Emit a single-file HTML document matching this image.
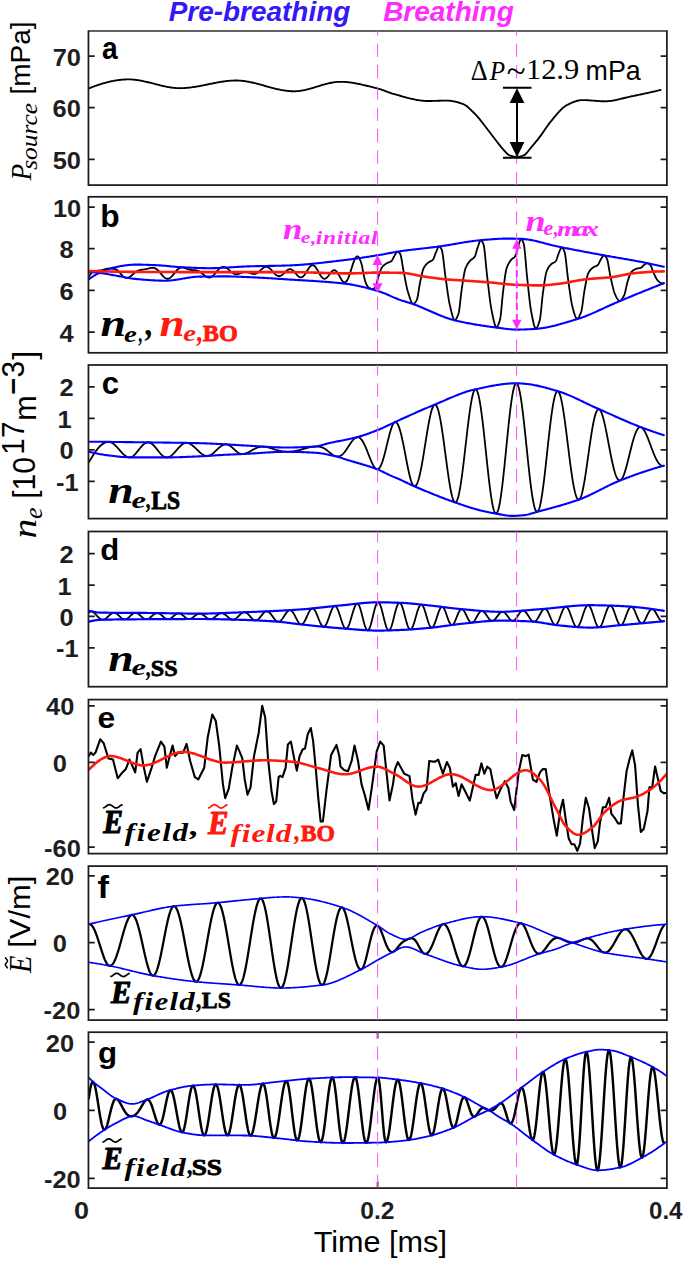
<!DOCTYPE html><html><head><meta charset="utf-8"><style>html,body{margin:0;padding:0;background:#fff;}svg{display:block;}.t{font-family:"Liberation Sans",sans-serif;font-weight:bold;fill:#262626;font-size:23px;}.s{font-family:"Liberation Serif",serif;}</style></head><body>
<svg width="685" height="1261" viewBox="0 0 685 1261">
<rect width="685" height="1261" fill="#fff"/>
<defs><clipPath id="cpa"><rect x="88.5" y="31.1" width="578.4" height="154.0"/></clipPath><clipPath id="cpb"><rect x="88.5" y="196.8" width="578.4" height="156.0"/></clipPath><clipPath id="cpc"><rect x="88.5" y="365.0" width="578.4" height="153.6"/></clipPath><clipPath id="cpd"><rect x="88.5" y="531.5" width="578.4" height="155.2"/></clipPath><clipPath id="cpe"><rect x="88.5" y="699.6" width="578.4" height="154.0"/></clipPath><clipPath id="cpf"><rect x="88.5" y="866.1" width="578.4" height="154.0"/></clipPath><clipPath id="cpg"><rect x="88.5" y="1032.2" width="578.4" height="155.9"/></clipPath></defs>
<path d="M88.80 88.40L89.75 88.02L90.71 87.65L91.66 87.28L92.62 86.92L93.57 86.56L94.53 86.22L95.48 85.87L96.44 85.54L97.39 85.21L98.35 84.89L99.30 84.57L100.26 84.27L101.21 83.97L102.16 83.68L103.12 83.39L104.07 83.12L105.03 82.85L105.98 82.59L106.94 82.34L107.89 82.10L108.85 81.87L109.80 81.65L110.76 81.43L111.71 81.23L112.66 81.04L113.62 80.85L114.57 80.68L115.53 80.51L116.48 80.36L117.44 80.22L118.39 80.09L119.35 79.97L120.30 79.86L121.26 79.76L122.21 79.67L123.17 79.60L124.12 79.53L125.07 79.48L126.03 79.44L126.98 79.42L127.94 79.40L128.89 79.40L129.85 79.42L130.80 79.45L131.76 79.50L132.71 79.57L133.67 79.65L134.62 79.74L135.57 79.85L136.53 79.98L137.48 80.11L138.44 80.26L139.39 80.41L140.35 80.58L141.30 80.76L142.26 80.95L143.21 81.14L144.17 81.35L145.12 81.56L146.08 81.78L147.03 82.00L147.98 82.23L148.94 82.46L149.89 82.69L150.85 82.93L151.80 83.17L152.76 83.42L153.71 83.66L154.67 83.91L155.62 84.15L156.58 84.39L157.53 84.64L158.49 84.88L159.44 85.11L160.39 85.34L161.35 85.57L162.30 85.80L163.26 86.01L164.21 86.23L165.17 86.43L166.12 86.63L167.08 86.82L168.03 86.99L168.99 87.16L169.94 87.32L170.89 87.47L171.85 87.61L172.80 87.73L173.76 87.84L174.71 87.94L175.67 88.02L176.62 88.09L177.58 88.14L178.53 88.18L179.49 88.20L180.44 88.20L181.40 88.19L182.35 88.16L183.30 88.12L184.26 88.07L185.21 88.01L186.17 87.94L187.12 87.86L188.08 87.77L189.03 87.66L189.99 87.55L190.94 87.43L191.90 87.31L192.85 87.17L193.81 87.03L194.76 86.88L195.71 86.72L196.67 86.56L197.62 86.39L198.58 86.22L199.53 86.04L200.49 85.86L201.44 85.68L202.40 85.49L203.35 85.30L204.31 85.11L205.26 84.91L206.21 84.72L207.17 84.52L208.12 84.32L209.08 84.13L210.03 83.93L210.99 83.74L211.94 83.54L212.90 83.35L213.85 83.16L214.81 82.97L215.76 82.79L216.72 82.61L217.67 82.43L218.62 82.26L219.58 82.10L220.53 81.94L221.49 81.78L222.44 81.64L223.40 81.49L224.35 81.36L225.31 81.24L226.26 81.12L227.22 81.01L228.17 80.91L229.12 80.82L230.08 80.74L231.03 80.67L231.99 80.61L232.94 80.57L233.90 80.53L234.85 80.51L235.81 80.50L236.76 80.51L237.72 80.53L238.67 80.57L239.63 80.62L240.58 80.69L241.53 80.78L242.49 80.88L243.44 80.99L244.40 81.11L245.35 81.25L246.31 81.40L247.26 81.56L248.22 81.74L249.17 81.92L250.13 82.11L251.08 82.31L252.04 82.52L252.99 82.74L253.94 82.96L254.90 83.19L255.85 83.43L256.81 83.67L257.76 83.92L258.72 84.17L259.67 84.43L260.63 84.69L261.58 84.95L262.54 85.21L263.49 85.48L264.44 85.74L265.40 86.01L266.35 86.28L267.31 86.54L268.26 86.81L269.22 87.07L270.17 87.33L271.13 87.59L272.08 87.84L273.04 88.09L273.99 88.33L274.95 88.57L275.90 88.80L276.85 89.03L277.81 89.25L278.76 89.46L279.72 89.66L280.67 89.85L281.63 90.04L282.58 90.21L283.54 90.37L284.49 90.52L285.45 90.66L286.40 90.79L287.35 90.91L288.31 91.01L289.26 91.10L290.22 91.17L291.17 91.23L292.13 91.27L293.08 91.29L294.04 91.30L294.99 91.29L295.95 91.25L296.90 91.19L297.86 91.11L298.81 91.02L299.76 90.90L300.72 90.76L301.67 90.61L302.63 90.44L303.58 90.26L304.54 90.06L305.49 89.85L306.45 89.62L307.40 89.39L308.36 89.14L309.31 88.89L310.27 88.63L311.22 88.36L312.17 88.08L313.13 87.80L314.08 87.51L315.04 87.23L315.99 86.93L316.95 86.64L317.90 86.35L318.86 86.06L319.81 85.77L320.77 85.48L321.72 85.20L322.67 84.92L323.63 84.64L324.58 84.38L325.54 84.12L326.49 83.87L327.45 83.63L328.40 83.39L329.36 83.18L330.31 82.97L331.27 82.78L332.22 82.60L333.18 82.43L334.13 82.29L335.08 82.16L336.04 82.05L336.99 81.95L337.95 81.88L338.90 81.83L339.86 81.81L340.81 81.80L341.77 81.81L342.72 81.84L343.68 81.88L344.63 81.93L345.58 82.00L346.54 82.07L347.49 82.16L348.45 82.26L349.40 82.38L350.36 82.50L351.31 82.63L352.27 82.77L353.22 82.92L354.18 83.08L355.13 83.25L356.09 83.42L357.04 83.61L357.99 83.80L358.95 83.99L359.90 84.20L360.86 84.40L361.81 84.62L362.77 84.84L363.72 85.06L364.68 85.28L365.63 85.51L366.59 85.75L367.54 85.98L368.50 86.22L369.45 86.46L370.40 86.70L371.36 86.94L372.31 87.18L373.27 87.42L374.22 87.66L375.18 87.90L376.13 88.14L377.09 88.37L378.04 88.61L379.00 88.87L379.95 89.15L380.90 89.46L381.86 89.78L382.81 90.11L383.77 90.46L384.72 90.82L385.68 91.18L386.63 91.54L387.59 91.91L388.54 92.27L389.50 92.63L390.45 92.97L391.41 93.30L392.36 93.62L393.31 93.92L394.27 94.20L395.22 94.46L396.18 94.71L397.13 94.96L398.09 95.22L399.04 95.48L400.00 95.75L400.95 96.01L401.91 96.27L402.86 96.54L403.82 96.80L404.77 97.06L405.72 97.32L406.68 97.58L407.63 97.83L408.59 98.08L409.54 98.32L410.50 98.56L411.45 98.79L412.41 99.01L413.36 99.22L414.32 99.43L415.27 99.62L416.22 99.81L417.18 99.99L418.13 100.15L419.09 100.30L420.04 100.44L421.00 100.57L421.95 100.68L422.91 100.77L423.86 100.85L424.82 100.92L425.77 100.96L426.73 100.99L427.68 101.00L428.63 101.00L429.59 100.99L430.54 100.98L431.50 100.96L432.45 100.94L433.41 100.92L434.36 100.89L435.32 100.86L436.27 100.83L437.23 100.80L438.18 100.77L439.13 100.75L440.09 100.72L441.04 100.69L442.00 100.67L442.95 100.65L443.91 100.63L444.86 100.61L445.82 100.60L446.77 100.60L447.73 100.61L448.68 100.65L449.64 100.72L450.59 100.83L451.54 100.95L452.50 101.11L453.45 101.29L454.41 101.49L455.36 101.71L456.32 101.95L457.27 102.21L458.23 102.48L459.18 102.76L460.14 103.06L461.09 103.37L462.05 103.68L463.00 104.02L463.95 104.46L464.91 104.98L465.86 105.59L466.82 106.28L467.77 107.03L468.73 107.84L469.68 108.70L470.64 109.60L471.59 110.54L472.55 111.51L473.50 112.49L474.45 113.48L475.41 114.47L476.36 115.46L477.32 116.45L478.27 117.52L479.23 118.65L480.18 119.84L481.14 121.06L482.09 122.31L483.05 123.56L484.00 124.81L484.96 126.04L485.91 127.26L486.86 128.50L487.82 129.74L488.77 131.00L489.73 132.26L490.68 133.52L491.64 134.78L492.59 136.03L493.55 137.27L494.50 138.51L495.46 139.73L496.41 140.96L497.36 142.20L498.32 143.45L499.27 144.68L500.23 145.90L501.18 147.07L502.14 148.20L503.09 149.27L504.05 150.31L505.00 151.39L505.96 152.46L506.91 153.46L507.87 154.33L508.82 154.99L509.77 155.39L510.73 155.71L511.68 156.00L512.64 156.25L513.59 156.47L514.55 156.63L515.50 156.75L516.46 156.80L517.41 156.78L518.37 156.70L519.32 156.55L520.28 156.36L521.23 156.12L522.18 155.84L523.14 155.53L524.09 155.18L525.05 154.59L526.00 153.74L526.96 152.69L527.91 151.52L528.87 150.28L529.82 149.03L530.78 147.86L531.73 146.76L532.68 145.65L533.64 144.52L534.59 143.37L535.55 142.21L536.50 141.02L537.46 139.83L538.41 138.61L539.37 137.38L540.32 136.14L541.28 134.85L542.23 133.51L543.19 132.12L544.14 130.72L545.09 129.31L546.05 127.90L547.00 126.51L547.96 125.17L548.91 123.87L549.87 122.65L550.82 121.50L551.78 120.34L552.73 119.18L553.69 118.02L554.64 116.86L555.59 115.71L556.55 114.58L557.50 113.47L558.46 112.39L559.41 111.34L560.37 110.34L561.32 109.38L562.28 108.48L563.23 107.64L564.19 106.87L565.14 106.17L566.10 105.56L567.05 105.02L568.00 104.56L568.96 104.10L569.91 103.65L570.87 103.21L571.82 102.78L572.78 102.37L573.73 101.98L574.69 101.62L575.64 101.29L576.60 100.99L577.55 100.73L578.51 100.51L579.46 100.33L580.41 100.20L581.37 100.12L582.32 100.10L583.28 100.11L584.23 100.13L585.19 100.15L586.14 100.19L587.10 100.24L588.05 100.29L589.01 100.35L589.96 100.41L590.91 100.48L591.87 100.55L592.82 100.62L593.78 100.70L594.73 100.77L595.69 100.85L596.64 100.92L597.60 100.98L598.55 101.05L599.51 101.11L600.46 101.16L601.42 101.21L602.37 101.24L603.32 101.27L604.28 101.29L605.23 101.30L606.19 101.29L607.14 101.26L608.10 101.20L609.05 101.12L610.01 101.02L610.96 100.90L611.92 100.77L612.87 100.61L613.83 100.44L614.78 100.26L615.73 100.07L616.69 99.86L617.64 99.65L618.60 99.42L619.55 99.20L620.51 98.96L621.46 98.72L622.42 98.48L623.37 98.24L624.33 98.00L625.28 97.76L626.23 97.53L627.19 97.30L628.14 97.08L629.10 96.86L630.05 96.65L631.01 96.46L631.96 96.26L632.92 96.07L633.87 95.87L634.83 95.68L635.78 95.48L636.74 95.28L637.69 95.08L638.64 94.88L639.60 94.68L640.55 94.48L641.51 94.27L642.46 94.07L643.42 93.86L644.37 93.66L645.33 93.45L646.28 93.24L647.24 93.03L648.19 92.82L649.14 92.61L650.10 92.40L651.05 92.18L652.01 91.97L652.96 91.76L653.92 91.54L654.87 91.32L655.83 91.10L656.78 90.89L657.74 90.67L658.69 90.44L659.65 90.22L660.60 90.00" fill="none" stroke="#000000" stroke-width="1.85" stroke-linejoin="round" stroke-linecap="round" clip-path="url(#cpa)"/>
<path d="M88.80 276.75L89.21 276.06L89.62 275.41L90.03 274.81L90.44 274.26L90.86 273.76L91.27 273.31L91.68 272.91L92.09 272.55L92.50 272.24L92.91 271.96L93.32 271.73L93.73 271.53L94.14 271.36L94.55 271.21L94.97 271.09L95.38 270.99L95.79 270.91L96.20 270.84L96.61 270.78L97.02 270.72L97.43 270.67L97.84 270.63L98.25 270.58L98.66 270.54L99.08 270.50L99.49 270.46L99.90 270.41L100.31 270.37L100.72 270.33L101.13 270.28L101.54 270.21L101.95 270.13L102.36 270.04L102.77 269.93L103.19 269.80L103.60 269.67L104.01 269.54L104.42 269.40L104.83 269.26L105.24 269.13L105.65 269.01L106.06 268.90L106.47 268.81L106.88 268.73L107.30 268.66L107.71 268.61L108.12 268.58L108.53 268.57L108.94 268.56L109.35 268.57L109.76 268.58L110.17 268.60L110.58 268.63L110.99 268.65L111.41 268.67L111.82 268.69L112.23 268.71L112.64 268.73L113.05 268.76L113.46 268.78L113.87 268.82L114.28 268.88L114.69 268.95L115.10 269.05L115.52 269.18L115.93 269.35L116.34 269.55L116.75 269.78L117.16 270.06L117.57 270.38L117.98 270.73L118.39 271.11L118.80 271.53L119.21 271.96L119.63 272.42L120.04 272.90L120.45 273.38L120.86 273.86L121.27 274.33L121.68 274.80L122.09 275.25L122.50 275.68L122.91 276.08L123.32 276.44L123.74 276.78L124.15 277.07L124.56 277.32L124.97 277.53L125.38 277.70L125.79 277.81L126.20 277.89L126.61 277.92L127.02 277.90L127.43 277.84L127.85 277.75L128.26 277.61L128.67 277.44L129.08 277.23L129.49 277.00L129.90 276.74L130.31 276.45L130.72 276.13L131.13 275.80L131.54 275.46L131.96 275.10L132.37 274.73L132.78 274.37L133.19 274.00L133.60 273.64L134.01 273.29L134.42 272.95L134.83 272.62L135.24 272.31L135.65 272.02L136.07 271.74L136.48 271.48L136.89 271.24L137.30 271.03L137.71 270.83L138.12 270.65L138.53 270.49L138.94 270.35L139.35 270.22L139.76 270.11L140.18 270.02L140.59 269.94L141.00 269.86L141.41 269.80L141.82 269.74L142.23 269.69L142.64 269.64L143.05 269.58L143.46 269.53L143.88 269.48L144.29 269.42L144.70 269.36L145.11 269.29L145.52 269.21L145.93 269.13L146.34 269.04L146.75 268.95L147.16 268.84L147.57 268.74L147.99 268.63L148.40 268.52L148.81 268.41L149.22 268.30L149.63 268.19L150.04 268.09L150.45 268.00L150.86 267.92L151.27 267.85L151.68 267.80L152.10 267.76L152.51 267.75L152.92 267.76L153.33 267.80L153.74 267.86L154.15 267.95L154.56 268.08L154.97 268.23L155.38 268.42L155.79 268.64L156.21 268.89L156.62 269.17L157.03 269.48L157.44 269.83L157.85 270.20L158.26 270.60L158.67 271.02L159.08 271.47L159.49 271.93L159.90 272.41L160.32 272.89L160.73 273.39L161.14 273.89L161.55 274.38L161.96 274.87L162.37 275.35L162.78 275.81L163.19 276.25L163.60 276.67L164.01 277.06L164.43 277.42L164.84 277.74L165.25 278.02L165.66 278.26L166.07 278.45L166.48 278.60L166.89 278.70L167.30 278.75L167.71 278.75L168.12 278.70L168.54 278.60L168.95 278.46L169.36 278.26L169.77 278.03L170.18 277.75L170.59 277.43L171.00 277.07L171.41 276.68L171.82 276.26L172.23 275.82L172.65 275.35L173.06 274.86L173.47 274.36L173.88 273.86L174.29 273.34L174.70 272.83L175.11 272.32L175.52 271.82L175.93 271.34L176.34 270.87L176.76 270.42L177.17 269.99L177.58 269.60L177.99 269.23L178.40 268.89L178.81 268.58L179.22 268.31L179.63 268.08L180.04 267.88L180.45 267.73L180.87 267.61L181.28 267.52L181.69 267.47L182.10 267.45L182.51 267.47L182.92 267.51L183.33 267.58L183.74 267.67L184.15 267.78L184.56 267.91L184.98 268.05L185.39 268.20L185.80 268.36L186.21 268.52L186.62 268.69L187.03 268.85L187.44 269.01L187.85 269.16L188.26 269.30L188.67 269.42L189.09 269.54L189.50 269.64L189.91 269.74L190.32 269.81L190.73 269.88L191.14 269.93L191.55 269.98L191.96 270.01L192.37 270.04L192.78 270.07L193.20 270.09L193.61 270.10L194.02 270.13L194.43 270.15L194.84 270.18L195.25 270.22L195.66 270.28L196.07 270.34L196.48 270.42L196.90 270.52L197.31 270.64L197.72 270.78L198.13 270.94L198.54 271.12L198.95 271.33L199.36 271.55L199.77 271.80L200.18 272.07L200.59 272.35L201.01 272.64L201.42 272.95L201.83 273.27L202.24 273.60L202.65 273.93L203.06 274.27L203.47 274.60L203.88 274.93L204.29 275.26L204.70 275.58L205.12 275.88L205.53 276.17L205.94 276.43L206.35 276.68L206.76 276.90L207.17 277.09L207.58 277.26L207.99 277.39L208.40 277.48L208.81 277.53L209.23 277.54L209.64 277.50L210.05 277.43L210.46 277.31L210.87 277.15L211.28 276.94L211.69 276.70L212.10 276.42L212.51 276.10L212.92 275.75L213.34 275.37L213.75 274.96L214.16 274.52L214.57 274.06L214.98 273.59L215.39 273.11L215.80 272.62L216.21 272.12L216.62 271.62L217.03 271.13L217.45 270.65L217.86 270.19L218.27 269.74L218.68 269.31L219.09 268.91L219.50 268.54L219.91 268.21L220.32 267.90L220.73 267.64L221.14 267.41L221.56 267.23L221.97 267.08L222.38 266.98L222.79 266.91L223.20 266.88L223.61 266.90L224.02 266.95L224.43 267.03L224.84 267.16L225.25 267.31L225.67 267.50L226.08 267.72L226.49 267.96L226.90 268.23L227.31 268.52L227.72 268.84L228.13 269.17L228.54 269.52L228.95 269.88L229.36 270.24L229.78 270.61L230.19 270.97L230.60 271.33L231.01 271.67L231.42 272.01L231.83 272.33L232.24 272.63L232.65 272.91L233.06 273.16L233.47 273.39L233.89 273.60L234.30 273.77L234.71 273.92L235.12 274.03L235.53 274.11L235.94 274.17L236.35 274.20L236.76 274.19L237.17 274.16L237.58 274.11L238.00 274.03L238.41 273.94L238.82 273.82L239.23 273.69L239.64 273.54L240.05 273.39L240.46 273.23L240.87 273.06L241.28 272.89L241.69 272.72L242.11 272.56L242.52 272.40L242.93 272.25L243.34 272.13L243.75 272.02L244.16 271.93L244.57 271.87L244.98 271.83L245.39 271.81L245.81 271.82L246.22 271.86L246.63 271.91L247.04 271.99L247.45 272.09L247.86 272.21L248.27 272.34L248.68 272.48L249.09 272.63L249.50 272.79L249.92 272.95L250.33 273.11L250.74 273.27L251.15 273.42L251.56 273.56L251.97 273.68L252.38 273.79L252.79 273.87L253.20 273.94L253.61 273.97L254.03 273.98L254.44 273.96L254.85 273.90L255.26 273.82L255.67 273.70L256.08 273.55L256.49 273.36L256.90 273.15L257.31 272.90L257.72 272.63L258.14 272.33L258.55 272.01L258.96 271.67L259.37 271.31L259.78 270.95L260.19 270.57L260.60 270.19L261.01 269.81L261.42 269.43L261.83 269.06L262.25 268.71L262.66 268.38L263.07 268.07L263.48 267.79L263.89 267.54L264.30 267.32L264.71 267.14L265.12 267.00L265.53 266.90L265.94 266.85L266.36 266.84L266.77 266.88L267.18 266.96L267.59 267.08L268.00 267.25L268.41 267.46L268.82 267.71L269.23 268.00L269.64 268.32L270.05 268.68L270.47 269.06L270.88 269.48L271.29 269.91L271.70 270.36L272.11 270.82L272.52 271.28L272.93 271.75L273.34 272.22L273.75 272.68L274.16 273.13L274.58 273.56L274.99 273.97L275.40 274.36L275.81 274.71L276.22 275.03L276.63 275.31L277.04 275.55L277.45 275.75L277.86 275.91L278.27 276.01L278.69 276.08L279.10 276.09L279.51 276.06L279.92 275.98L280.33 275.86L280.74 275.69L281.15 275.49L281.56 275.24L281.97 274.96L282.38 274.65L282.80 274.31L283.21 273.95L283.62 273.57L284.03 273.17L284.44 272.77L284.85 272.37L285.26 271.97L285.67 271.58L286.08 271.20L286.49 270.84L286.91 270.50L287.32 270.19L287.73 269.92L288.14 269.68L288.55 269.48L288.96 269.33L289.37 269.22L289.78 269.16L290.19 269.16L290.60 269.21L291.02 269.31L291.43 269.47L291.84 269.68L292.25 269.94L292.66 270.24L293.07 270.59L293.48 270.97L293.89 271.39L294.30 271.84L294.71 272.31L295.13 272.79L295.54 273.28L295.95 273.78L296.36 274.27L296.77 274.74L297.18 275.20L297.59 275.63L298.00 276.03L298.41 276.39L298.83 276.70L299.24 276.96L299.65 277.17L300.06 277.32L300.47 277.40L300.88 277.42L301.29 277.38L301.70 277.27L302.11 277.09L302.52 276.85L302.94 276.54L303.35 276.17L303.76 275.75L304.17 275.27L304.58 274.74L304.99 274.18L305.40 273.57L305.81 272.94L306.22 272.29L306.63 271.62L307.05 270.94L307.46 270.27L307.87 269.61L308.28 268.97L308.69 268.36L309.10 267.78L309.51 267.25L309.92 266.76L310.33 266.33L310.74 265.96L311.16 265.66L311.57 265.44L311.98 265.28L312.39 265.21L312.80 265.21L313.21 265.29L313.62 265.46L314.03 265.70L314.44 266.01L314.85 266.40L315.27 266.85L315.68 267.36L316.09 267.93L316.50 268.54L316.91 269.20L317.32 269.89L317.73 270.60L318.14 271.33L318.55 272.07L318.96 272.81L319.38 273.54L319.79 274.25L320.20 274.93L320.61 275.58L321.02 276.18L321.43 276.73L321.84 277.23L322.25 277.66L322.66 278.03L323.07 278.33L323.49 278.55L323.90 278.69L324.31 278.76L324.72 278.75L325.13 278.67L325.54 278.51L325.95 278.28L326.36 277.99L326.77 277.64L327.18 277.23L327.60 276.78L328.01 276.29L328.42 275.77L328.83 275.22L329.24 274.67L329.65 274.11L330.06 273.55L330.47 273.01L330.88 272.50L331.29 272.01L331.71 271.57L332.12 271.18L332.53 270.85L332.94 270.58L333.35 270.38L333.76 270.26L334.17 270.21L334.58 270.24L334.99 270.35L335.40 270.55L335.82 270.82L336.23 271.16L336.64 271.59L337.05 272.08L337.46 272.64L337.87 273.25L338.28 273.91L338.69 274.61L339.10 275.34L339.51 276.09L339.93 276.84L340.34 277.59L340.75 278.32L341.16 279.02L341.57 279.69L341.98 280.30L342.39 280.85L342.80 281.33L343.21 281.73L343.62 282.03L344.04 282.24L344.45 282.35L344.86 282.35L345.27 282.24L345.68 282.01L346.09 281.66L346.50 281.21L346.91 280.64L347.32 279.95L347.73 279.17L348.15 278.28L348.56 277.31L348.97 276.24L349.38 275.11L349.79 273.91L350.20 272.66L350.61 271.37L351.02 270.06L351.43 268.73L351.85 267.41L352.26 266.10L352.67 264.82L353.08 263.58L353.49 262.41L353.90 261.30L354.31 260.28L354.72 259.36L355.13 258.54L355.54 257.84L355.96 257.26L356.37 256.82L356.78 256.52L357.19 256.36L357.60 256.36L358.01 256.52L358.42 256.85L358.83 257.34L359.24 258.00L359.65 258.80L360.07 259.74L360.48 260.81L360.89 262.00L361.30 263.29L361.71 264.66L362.12 266.38L362.53 268.74L362.94 271.00L363.35 273.14L363.76 275.15L364.18 277.01L364.59 278.71L365.00 280.25L365.41 281.63L365.82 282.84L366.23 283.90L366.64 284.80L367.05 285.56L367.46 286.20L367.87 286.73L368.29 287.17L368.70 287.53L369.11 287.83L369.52 288.10L369.93 288.36L370.34 288.61L370.75 288.88L371.16 289.10L371.57 289.17L371.98 289.16L372.40 289.09L372.81 288.95L373.22 288.76L373.63 288.51L374.04 288.22L374.45 287.89L374.86 287.52L375.27 287.11L375.68 286.44L376.09 285.39L376.51 284.05L376.92 282.50L377.33 280.85L377.74 279.19L378.15 277.62L378.56 276.24L378.97 275.05L379.38 273.84L379.79 272.62L380.20 271.42L380.62 270.28L381.03 269.23L381.44 268.30L381.85 267.53L382.26 266.96L382.67 266.48L383.08 266.04L383.49 265.64L383.90 265.26L384.31 264.92L384.73 264.60L385.14 264.30L385.55 264.02L385.96 263.76L386.37 263.51L386.78 263.26L387.19 263.03L387.60 262.83L388.01 262.65L388.42 262.49L388.84 262.34L389.25 262.19L389.66 262.03L390.07 261.85L390.48 261.65L390.89 261.41L391.30 261.12L391.71 260.74L392.12 260.16L392.53 259.44L392.95 258.64L393.36 257.80L393.77 256.99L394.18 256.27L394.59 255.61L395.00 254.90L395.41 254.17L395.82 253.46L396.23 252.81L396.64 252.27L397.06 251.88L397.47 251.70L397.88 251.70L398.29 251.86L398.70 252.14L399.11 252.52L399.52 252.99L399.93 253.52L400.34 254.22L400.75 255.49L401.17 257.24L401.58 259.37L401.99 261.77L402.40 264.30L402.81 266.86L403.22 269.32L403.63 271.56L404.04 273.60L404.45 275.70L404.87 277.84L405.28 279.98L405.69 282.10L406.10 284.17L406.51 286.15L406.92 288.01L407.33 289.72L407.74 291.24L408.15 292.61L408.56 293.95L408.98 295.26L409.39 296.53L409.80 297.75L410.21 298.91L410.62 300.00L411.03 301.01L411.44 301.94L411.85 302.76L412.26 303.48L412.67 303.88L413.09 303.91L413.50 303.83L413.91 303.64L414.32 303.36L414.73 302.99L415.14 302.53L415.55 302.01L415.96 301.43L416.37 300.79L416.78 300.08L417.20 298.85L417.61 297.04L418.02 294.79L418.43 292.27L418.84 289.61L419.25 286.97L419.66 284.51L420.07 282.37L420.48 280.49L420.89 278.57L421.31 276.65L421.72 274.78L422.13 273.01L422.54 271.39L422.95 269.97L423.36 268.81L423.77 267.95L424.18 267.24L424.59 266.59L425.00 265.99L425.42 265.44L425.83 264.94L426.24 264.48L426.65 264.05L427.06 263.66L427.47 263.28L427.88 262.93L428.29 262.59L428.70 262.27L429.11 262.00L429.53 261.77L429.94 261.56L430.35 261.37L430.76 261.17L431.17 260.97L431.58 260.74L431.99 260.47L432.40 260.15L432.81 259.77L433.22 259.25L433.64 258.46L434.05 257.46L434.46 256.33L434.87 255.14L435.28 253.99L435.69 252.95L436.10 252.04L436.51 251.06L436.92 250.04L437.33 249.05L437.75 248.13L438.16 247.37L438.57 246.81L438.98 246.52L439.39 246.53L439.80 246.75L440.21 247.15L440.62 247.70L441.03 248.37L441.44 249.14L441.86 250.04L442.27 251.67L442.68 254.02L443.09 256.95L443.50 260.28L443.91 263.85L444.32 267.50L444.73 271.05L445.14 274.33L445.55 277.25L445.97 280.19L446.38 283.20L446.79 286.22L447.20 289.22L447.61 292.15L448.02 294.97L448.43 297.64L448.84 300.10L449.25 302.32L449.66 304.26L450.08 306.13L450.49 307.95L450.90 309.71L451.31 311.41L451.72 313.01L452.13 314.52L452.54 315.92L452.95 317.19L453.36 318.33L453.77 319.31L454.19 320.13L454.60 320.17L455.01 320.02L455.42 319.72L455.83 319.28L456.24 318.71L456.65 318.02L457.06 317.23L457.47 316.34L457.89 315.38L458.30 314.35L458.71 312.97L459.12 310.72L459.53 307.79L459.94 304.37L460.35 300.69L460.76 296.94L461.17 293.33L461.58 290.07L462.00 287.33L462.41 284.66L462.82 281.97L463.23 279.31L463.64 276.77L464.05 274.40L464.46 272.28L464.87 270.47L465.28 269.05L465.69 267.98L466.11 267.01L466.52 266.13L466.93 265.31L467.34 264.57L467.75 263.88L468.16 263.25L468.57 262.67L468.98 262.12L469.39 261.60L469.80 261.11L470.22 260.63L470.63 260.21L471.04 259.85L471.45 259.53L471.86 259.24L472.27 258.96L472.68 258.67L473.09 258.37L473.50 258.03L473.91 257.63L474.33 257.17L474.74 256.62L475.15 255.79L475.56 254.64L475.97 253.27L476.38 251.78L476.79 250.28L477.20 248.87L477.61 247.65L478.02 246.49L478.44 245.24L478.85 243.98L479.26 242.78L479.67 241.73L480.08 240.90L480.49 240.36L480.90 240.19L481.31 240.34L481.72 240.73L482.13 241.33L482.55 242.11L482.96 243.01L483.37 244.02L483.78 245.41L484.19 247.77L484.60 250.94L485.01 254.72L485.42 258.90L485.83 263.29L486.24 267.67L486.66 271.85L487.07 275.62L487.48 279.07L487.89 282.59L488.30 286.17L488.71 289.74L489.12 293.25L489.53 296.65L489.94 299.90L490.35 302.93L490.77 305.69L491.18 308.14L491.59 310.31L492.00 312.43L492.41 314.48L492.82 316.46L493.23 318.34L493.64 320.12L494.05 321.78L494.46 323.29L494.88 324.66L495.29 325.86L495.70 326.88L496.11 327.51L496.52 327.39L496.93 327.06L497.34 326.55L497.75 325.86L498.16 325.02L498.57 324.04L498.99 322.94L499.40 321.74L499.81 320.45L500.22 318.83L500.63 316.14L501.04 312.57L501.45 308.40L501.86 303.91L502.27 299.38L502.68 295.10L503.10 291.35L503.51 288.16L503.92 284.94L504.33 281.74L504.74 278.64L505.15 275.74L505.56 273.11L505.97 270.86L506.38 269.08L506.79 267.78L507.21 266.66L507.62 265.64L508.03 264.72L508.44 263.88L508.85 263.12L509.26 262.43L509.67 261.79L510.08 261.20L510.49 260.65L510.91 260.13L511.32 259.63L511.73 259.22L512.14 258.87L512.55 258.56L512.96 258.28L513.37 257.99L513.78 257.69L514.19 257.34L514.60 256.93L515.02 256.44L515.43 255.85L515.84 254.90L516.25 253.57L516.66 252.01L517.07 250.34L517.48 248.69L517.89 247.19L518.30 245.92L518.71 244.59L519.13 243.20L519.54 241.86L519.95 240.65L520.36 239.68L520.77 239.05L521.18 238.84L521.59 239.04L522.00 239.53L522.41 240.27L522.82 241.22L523.24 242.32L523.65 243.52L524.06 245.40L524.47 248.39L524.88 252.24L525.29 256.70L525.70 261.51L526.11 266.42L526.52 271.18L526.93 275.54L527.35 279.38L527.76 283.24L528.17 287.16L528.58 291.05L528.99 294.88L529.40 298.56L529.81 302.05L530.22 305.27L530.63 308.17L531.04 310.68L531.46 312.95L531.87 315.15L532.28 317.27L532.69 319.28L533.10 321.17L533.51 322.93L533.92 324.53L534.33 325.95L534.74 327.19L535.15 328.22L535.57 328.91L535.98 328.75L536.39 328.39L536.80 327.86L537.21 327.18L537.62 326.35L538.03 325.39L538.44 324.32L538.85 323.16L539.26 321.92L539.68 320.61L540.09 318.65L540.50 315.77L540.91 312.22L541.32 308.23L541.73 304.05L542.14 299.90L542.55 296.02L542.96 292.65L543.37 289.76L543.79 286.86L544.20 283.97L544.61 281.19L545.02 278.58L545.43 276.20L545.84 274.14L546.25 272.46L546.66 271.23L547.07 270.24L547.48 269.34L547.90 268.53L548.31 267.80L548.72 267.15L549.13 266.55L549.54 266.01L549.95 265.52L550.36 265.07L550.77 264.65L551.18 264.25L551.59 263.88L552.01 263.58L552.42 263.34L552.83 263.12L553.24 262.93L553.65 262.74L554.06 262.53L554.47 262.30L554.88 262.02L555.29 261.68L555.70 261.27L556.12 260.67L556.53 259.74L556.94 258.58L557.35 257.29L557.76 255.97L558.17 254.70L558.58 253.61L558.99 252.64L559.40 251.60L559.82 250.54L560.23 249.52L560.64 248.63L561.05 247.93L561.46 247.49L561.87 247.39L562.28 247.59L562.69 248.02L563.10 248.64L563.51 249.41L563.93 250.31L564.34 251.29L564.75 252.53L565.16 254.60L565.57 257.39L565.98 260.71L566.39 264.38L566.80 268.21L567.21 272.02L567.62 275.64L568.04 278.88L568.45 281.80L568.86 284.77L569.27 287.76L569.68 290.72L570.09 293.61L570.50 296.38L570.91 299.00L571.32 301.41L571.73 303.59L572.15 305.48L572.56 307.14L572.97 308.75L573.38 310.29L573.79 311.75L574.20 313.13L574.61 314.40L575.02 315.57L575.43 316.62L575.84 317.53L576.26 318.30L576.67 318.92L577.08 319.13L577.49 318.87L577.90 318.47L578.31 317.95L578.72 317.31L579.13 316.57L579.54 315.74L579.95 314.84L580.37 313.87L580.78 312.84L581.19 311.77L581.60 310.25L582.01 308.07L582.42 305.39L582.83 302.37L583.24 299.20L583.65 296.03L584.06 293.03L584.48 290.35L584.89 288.10L585.30 285.90L585.71 283.72L586.12 281.59L586.53 279.56L586.94 277.69L587.35 276.02L587.76 274.60L588.17 273.49L588.59 272.66L589.00 271.93L589.41 271.27L589.82 270.67L590.23 270.13L590.64 269.64L591.05 269.19L591.46 268.78L591.87 268.41L592.28 268.06L592.70 267.73L593.11 267.42L593.52 267.14L593.93 266.91L594.34 266.71L594.75 266.53L595.16 266.38L595.57 266.22L595.98 266.06L596.39 265.88L596.81 265.68L597.22 265.44L597.63 265.15L598.04 264.77L598.45 264.19L598.86 263.42L599.27 262.55L599.68 261.64L600.09 260.74L600.50 259.93L600.92 259.26L601.33 258.59L601.74 257.88L602.15 257.18L602.56 256.53L602.97 255.99L603.38 255.59L603.79 255.38L604.20 255.39L604.61 255.58L605.03 255.92L605.44 256.37L605.85 256.91L606.26 257.53L606.67 258.20L607.08 259.04L607.49 260.43L607.90 262.26L608.31 264.41L608.72 266.79L609.14 269.26L609.55 271.72L609.96 274.06L610.37 276.18L610.78 278.04L611.19 279.90L611.60 281.76L612.01 283.61L612.42 285.41L612.84 287.15L613.25 288.78L613.66 290.30L614.07 291.67L614.48 292.88L614.89 293.90L615.30 294.85L615.71 295.75L616.12 296.61L616.53 297.41L616.95 298.15L617.36 298.83L617.77 299.44L618.18 299.97L618.59 300.42L619.00 300.79L619.41 301.05L619.82 301.04L620.23 300.78L620.64 300.44L621.06 300.03L621.47 299.56L621.88 299.02L622.29 298.44L622.70 297.82L623.11 297.16L623.52 296.48L623.93 295.77L624.34 294.87L624.75 293.58L625.17 291.99L625.58 290.20L625.99 288.31L626.40 286.39L626.81 284.56L627.22 282.89L627.63 281.47L628.04 280.18L628.45 278.89L628.86 277.62L629.28 276.41L629.69 275.28L630.10 274.25L630.51 273.36L630.92 272.62L631.33 272.06L631.74 271.62L632.15 271.22L632.56 270.86L632.97 270.54L633.39 270.25L633.80 269.99L634.21 269.75L634.62 269.53L635.03 269.34L635.44 269.15L635.85 268.99L636.26 268.83L636.67 268.69L637.08 268.57L637.50 268.48L637.91 268.40L638.32 268.33L638.73 268.26L639.14 268.19L639.55 268.11L639.96 268.02L640.37 267.91L640.78 267.78L641.19 267.62L641.61 267.36L642.02 267.01L642.43 266.59L642.84 266.15L643.25 265.71L643.66 265.31L644.07 264.97L644.48 264.68L644.89 264.36L645.30 264.04L645.72 263.75L646.13 263.49L646.54 263.30L646.95 263.18L647.36 263.17L647.77 263.27L648.18 263.44L648.59 263.67L649.00 263.95L649.41 264.28L649.83 264.63L650.24 265.00L650.65 265.50L651.06 266.24L651.47 267.17L651.88 268.23L652.29 269.37L652.70 270.53L653.11 271.68L653.52 272.75L653.94 273.72L654.35 274.55L654.76 275.38L655.17 276.20L655.58 277.00L655.99 277.77L656.40 278.50L656.81 279.18L657.22 279.80L657.63 280.36L658.05 280.84L658.46 281.23L658.87 281.57L659.28 281.88L659.69 282.17L660.10 282.44L660.51 282.67L660.92 282.88L661.33 283.05L661.74 283.18L662.16 283.28L662.57 283.35L662.98 283.37L663.39 283.36L663.80 283.20" fill="none" stroke="#000000" stroke-width="1.80" stroke-linejoin="round" stroke-linecap="round" clip-path="url(#cpb)"/>
<path d="M88.80 279.40L89.95 278.48L91.10 277.61L92.26 276.79L93.41 276.03L94.56 275.33L95.71 274.71L96.87 274.14L98.02 273.60L99.17 273.10L100.32 272.61L101.48 272.13L102.63 271.63L103.78 271.12L104.93 270.62L106.08 270.11L107.24 269.62L108.39 269.15L109.54 268.71L110.69 268.31L111.85 267.96L113.00 267.65L114.15 267.41L115.30 267.18L116.46 266.95L117.61 266.72L118.76 266.51L119.91 266.29L121.06 266.09L122.22 265.89L123.37 265.71L124.52 265.53L125.67 265.37L126.83 265.22L127.98 265.08L129.13 264.96L130.28 264.85L131.44 264.76L132.59 264.69L133.74 264.64L134.89 264.61L136.04 264.60L137.20 264.60L138.35 264.61L139.50 264.63L140.65 264.65L141.81 264.67L142.96 264.70L144.11 264.73L145.26 264.76L146.42 264.80L147.57 264.84L148.72 264.89L149.87 264.93L151.02 264.98L152.18 265.03L153.33 265.07L154.48 265.12L155.63 265.17L156.79 265.22L157.94 265.28L159.09 265.35L160.24 265.42L161.40 265.51L162.55 265.60L163.70 265.70L164.85 265.80L166.00 265.90L167.16 266.01L168.31 266.12L169.46 266.23L170.61 266.34L171.77 266.46L172.92 266.57L174.07 266.67L175.22 266.78L176.38 266.88L177.53 266.97L178.68 267.06L179.83 267.14L180.98 267.21L182.14 267.28L183.29 267.33L184.44 267.39L185.59 267.45L186.75 267.50L187.90 267.56L189.05 267.61L190.20 267.67L191.36 267.72L192.51 267.77L193.66 267.82L194.81 267.87L195.96 267.92L197.12 267.96L198.27 268.00L199.42 268.04L200.57 268.07L201.73 268.11L202.88 268.13L204.03 268.16L205.18 268.17L206.34 268.19L207.49 268.20L208.64 268.20L209.79 268.20L210.94 268.19L212.10 268.17L213.25 268.15L214.40 268.12L215.55 268.09L216.71 268.05L217.86 268.01L219.01 267.96L220.16 267.91L221.32 267.86L222.47 267.80L223.62 267.74L224.77 267.67L225.92 267.61L227.08 267.54L228.23 267.47L229.38 267.40L230.53 267.33L231.69 267.26L232.84 267.18L233.99 267.11L235.14 267.04L236.29 266.97L237.45 266.90L238.60 266.83L239.75 266.76L240.90 266.70L242.06 266.63L243.21 266.58L244.36 266.52L245.51 266.47L246.67 266.42L247.82 266.37L248.97 266.33L250.12 266.30L251.27 266.26L252.43 266.23L253.58 266.21L254.73 266.18L255.88 266.15L257.04 266.13L258.19 266.10L259.34 266.08L260.49 266.06L261.65 266.04L262.80 266.02L263.95 266.00L265.10 265.98L266.25 265.96L267.41 265.94L268.56 265.92L269.71 265.91L270.86 265.89L272.02 265.87L273.17 265.85L274.32 265.83L275.47 265.80L276.63 265.78L277.78 265.76L278.93 265.73L280.08 265.71L281.23 265.68L282.39 265.65L283.54 265.62L284.69 265.59L285.84 265.56L287.00 265.52L288.15 265.48L289.30 265.44L290.45 265.39L291.61 265.34L292.76 265.28L293.91 265.22L295.06 265.16L296.21 265.09L297.37 265.02L298.52 264.94L299.67 264.86L300.82 264.78L301.98 264.69L303.13 264.60L304.28 264.51L305.43 264.41L306.59 264.31L307.74 264.21L308.89 264.11L310.04 264.00L311.19 263.89L312.35 263.78L313.50 263.66L314.65 263.54L315.80 263.43L316.96 263.30L318.11 263.18L319.26 263.06L320.41 262.93L321.57 262.80L322.72 262.67L323.87 262.54L325.02 262.41L326.17 262.27L327.33 262.14L328.48 262.00L329.63 261.87L330.78 261.73L331.94 261.59L333.09 261.45L334.24 261.31L335.39 261.17L336.55 261.04L337.70 260.90L338.85 260.76L340.00 260.62L341.15 260.48L342.31 260.34L343.46 260.20L344.61 260.06L345.76 259.93L346.92 259.79L348.07 259.65L349.22 259.51L350.37 259.36L351.53 259.21L352.68 259.06L353.83 258.90L354.98 258.74L356.13 258.58L357.29 258.42L358.44 258.26L359.59 258.09L360.74 257.92L361.90 257.75L363.05 257.57L364.20 257.40L365.35 257.22L366.51 257.05L367.66 256.87L368.81 256.69L369.96 256.50L371.11 256.32L372.27 256.14L373.42 255.95L374.57 255.77L375.72 255.58L376.88 255.40L378.03 255.21L379.18 255.02L380.33 254.83L381.49 254.62L382.64 254.42L383.79 254.20L384.94 253.99L386.09 253.77L387.25 253.55L388.40 253.34L389.55 253.12L390.70 252.90L391.86 252.68L393.01 252.47L394.16 252.26L395.31 252.06L396.47 251.86L397.62 251.67L398.77 251.49L399.92 251.31L401.07 251.14L402.23 250.98L403.38 250.82L404.53 250.66L405.68 250.51L406.84 250.36L407.99 250.21L409.14 250.06L410.29 249.92L411.45 249.78L412.60 249.64L413.75 249.51L414.90 249.37L416.05 249.24L417.21 249.11L418.36 248.97L419.51 248.84L420.66 248.71L421.82 248.58L422.97 248.45L424.12 248.32L425.27 248.19L426.43 248.06L427.58 247.93L428.73 247.79L429.88 247.66L431.03 247.52L432.19 247.38L433.34 247.24L434.49 247.10L435.64 246.95L436.80 246.81L437.95 246.65L439.10 246.50L440.25 246.34L441.41 246.18L442.56 246.01L443.71 245.83L444.86 245.65L446.01 245.47L447.17 245.28L448.32 245.09L449.47 244.89L450.62 244.70L451.78 244.50L452.93 244.30L454.08 244.10L455.23 243.90L456.39 243.69L457.54 243.49L458.69 243.29L459.84 243.09L460.99 242.90L462.15 242.70L463.30 242.51L464.45 242.32L465.60 242.13L466.76 241.95L467.91 241.77L469.06 241.59L470.21 241.42L471.37 241.26L472.52 241.10L473.67 240.95L474.82 240.81L475.97 240.67L477.13 240.54L478.28 240.42L479.43 240.31L480.58 240.21L481.74 240.11L482.89 240.01L484.04 239.92L485.19 239.82L486.35 239.72L487.50 239.62L488.65 239.52L489.80 239.43L490.95 239.34L492.11 239.25L493.26 239.17L494.41 239.08L495.56 239.01L496.72 238.94L497.87 238.87L499.02 238.81L500.17 238.76L501.33 238.71L502.48 238.67L503.63 238.64L504.78 238.62L505.93 238.60L507.09 238.60L508.24 238.60L509.39 238.61L510.54 238.62L511.70 238.63L512.85 238.65L514.00 238.67L515.15 238.69L516.31 238.71L517.46 238.74L518.61 238.77L519.76 238.79L520.91 238.83L522.07 238.89L523.22 238.97L524.37 239.08L525.52 239.20L526.68 239.35L527.83 239.51L528.98 239.69L530.13 239.89L531.28 240.10L532.44 240.33L533.59 240.57L534.74 240.82L535.89 241.08L537.05 241.35L538.20 241.63L539.35 241.91L540.50 242.21L541.66 242.50L542.81 242.80L543.96 243.11L545.11 243.41L546.26 243.72L547.42 244.03L548.57 244.33L549.72 244.63L550.87 244.93L552.03 245.22L553.18 245.51L554.33 245.79L555.48 246.06L556.64 246.32L557.79 246.57L558.94 246.81L560.09 247.04L561.24 247.26L562.40 247.49L563.55 247.72L564.70 247.94L565.85 248.16L567.01 248.39L568.16 248.61L569.31 248.84L570.46 249.06L571.62 249.28L572.77 249.50L573.92 249.72L575.07 249.94L576.22 250.16L577.38 250.38L578.53 250.60L579.68 250.82L580.83 251.04L581.99 251.26L583.14 251.47L584.29 251.69L585.44 251.91L586.60 252.12L587.75 252.34L588.90 252.56L590.05 252.77L591.20 252.98L592.36 253.20L593.51 253.41L594.66 253.63L595.81 253.84L596.97 254.05L598.12 254.27L599.27 254.48L600.42 254.69L601.58 254.90L602.73 255.11L603.88 255.32L605.03 255.53L606.18 255.74L607.34 255.95L608.49 256.15L609.64 256.35L610.79 256.55L611.95 256.75L613.10 256.95L614.25 257.15L615.40 257.35L616.56 257.55L617.71 257.74L618.86 257.94L620.01 258.14L621.16 258.33L622.32 258.53L623.47 258.73L624.62 258.93L625.77 259.13L626.93 259.32L628.08 259.53L629.23 259.73L630.38 259.93L631.54 260.13L632.69 260.34L633.84 260.55L634.99 260.76L636.14 260.97L637.30 261.18L638.45 261.40L639.60 261.62L640.75 261.84L641.91 262.06L643.06 262.29L644.21 262.52L645.36 262.75L646.52 262.99L647.67 263.23L648.82 263.47L649.97 263.72L651.12 263.96L652.28 264.21L653.43 264.46L654.58 264.71L655.73 264.97L656.89 265.23L658.04 265.49L659.19 265.75L660.34 266.01L661.50 266.27L662.65 266.53L663.80 266.80" fill="none" stroke="#0000ff" stroke-width="2.10" stroke-linejoin="round" stroke-linecap="round" clip-path="url(#cpb)"/>
<path d="M88.80 271.90L89.95 271.97L91.10 272.05L92.26 272.14L93.41 272.24L94.56 272.35L95.71 272.46L96.87 272.58L98.02 272.70L99.17 272.83L100.32 272.97L101.48 273.11L102.63 273.27L103.78 273.44L104.93 273.63L106.08 273.83L107.24 274.04L108.39 274.25L109.54 274.46L110.69 274.68L111.85 274.90L113.00 275.11L114.15 275.32L115.30 275.52L116.46 275.72L117.61 275.93L118.76 276.14L119.91 276.36L121.06 276.59L122.22 276.81L123.37 277.03L124.52 277.25L125.67 277.47L126.83 277.69L127.98 277.89L129.13 278.09L130.28 278.28L131.44 278.45L132.59 278.61L133.74 278.76L134.89 278.89L136.04 279.00L137.20 279.11L138.35 279.21L139.50 279.31L140.65 279.41L141.81 279.51L142.96 279.61L144.11 279.70L145.26 279.79L146.42 279.88L147.57 279.97L148.72 280.05L149.87 280.13L151.02 280.21L152.18 280.28L153.33 280.35L154.48 280.41L155.63 280.47L156.79 280.52L157.94 280.56L159.09 280.60L160.24 280.64L161.40 280.66L162.55 280.68L163.70 280.70L164.85 280.70L166.00 280.69L167.16 280.66L168.31 280.60L169.46 280.52L170.61 280.43L171.77 280.32L172.92 280.19L174.07 280.04L175.22 279.89L176.38 279.72L177.53 279.55L178.68 279.36L179.83 279.17L180.98 278.98L182.14 278.78L183.29 278.58L184.44 278.39L185.59 278.19L186.75 278.00L187.90 277.81L189.05 277.63L190.20 277.46L191.36 277.30L192.51 277.16L193.66 277.02L194.81 276.90L195.96 276.80L197.12 276.72L198.27 276.65L199.42 276.61L200.57 276.59L201.73 276.58L202.88 276.56L204.03 276.55L205.18 276.54L206.34 276.52L207.49 276.51L208.64 276.50L209.79 276.49L210.94 276.47L212.10 276.46L213.25 276.45L214.40 276.45L215.55 276.44L216.71 276.43L217.86 276.42L219.01 276.42L220.16 276.41L221.32 276.41L222.47 276.41L223.62 276.40L224.77 276.40L225.92 276.40L227.08 276.40L228.23 276.41L229.38 276.42L230.53 276.44L231.69 276.46L232.84 276.49L233.99 276.53L235.14 276.56L236.29 276.60L237.45 276.65L238.60 276.69L239.75 276.74L240.90 276.79L242.06 276.84L243.21 276.89L244.36 276.95L245.51 277.00L246.67 277.05L247.82 277.11L248.97 277.16L250.12 277.21L251.27 277.25L252.43 277.31L253.58 277.36L254.73 277.41L255.88 277.47L257.04 277.53L258.19 277.59L259.34 277.65L260.49 277.71L261.65 277.77L262.80 277.84L263.95 277.90L265.10 277.97L266.25 278.04L267.41 278.11L268.56 278.18L269.71 278.25L270.86 278.32L272.02 278.39L273.17 278.46L274.32 278.54L275.47 278.61L276.63 278.68L277.78 278.76L278.93 278.83L280.08 278.91L281.23 278.98L282.39 279.06L283.54 279.13L284.69 279.21L285.84 279.29L287.00 279.36L288.15 279.44L289.30 279.51L290.45 279.58L291.61 279.66L292.76 279.73L293.91 279.80L295.06 279.87L296.21 279.94L297.37 280.01L298.52 280.08L299.67 280.15L300.82 280.22L301.98 280.28L303.13 280.35L304.28 280.42L305.43 280.49L306.59 280.56L307.74 280.63L308.89 280.70L310.04 280.77L311.19 280.85L312.35 280.92L313.50 280.99L314.65 281.07L315.80 281.14L316.96 281.22L318.11 281.30L319.26 281.38L320.41 281.46L321.57 281.54L322.72 281.62L323.87 281.71L325.02 281.80L326.17 281.88L327.33 281.98L328.48 282.07L329.63 282.16L330.78 282.26L331.94 282.36L333.09 282.46L334.24 282.57L335.39 282.68L336.55 282.78L337.70 282.90L338.85 283.01L340.00 283.13L341.15 283.25L342.31 283.38L343.46 283.51L344.61 283.64L345.76 283.77L346.92 283.91L348.07 284.07L349.22 284.23L350.37 284.41L351.53 284.59L352.68 284.79L353.83 285.00L354.98 285.21L356.13 285.44L357.29 285.68L358.44 285.92L359.59 286.17L360.74 286.44L361.90 286.70L363.05 286.98L364.20 287.26L365.35 287.55L366.51 287.85L367.66 288.15L368.81 288.46L369.96 288.77L371.11 289.09L372.27 289.41L373.42 289.74L374.57 290.07L375.72 290.40L376.88 290.74L378.03 291.08L379.18 291.43L380.33 291.82L381.49 292.23L382.64 292.66L383.79 293.11L384.94 293.58L386.09 294.07L387.25 294.56L388.40 295.07L389.55 295.58L390.70 296.09L391.86 296.60L393.01 297.10L394.16 297.60L395.31 298.09L396.47 298.56L397.62 299.02L398.77 299.46L399.92 299.87L401.07 300.27L402.23 300.64L403.38 301.01L404.53 301.36L405.68 301.71L406.84 302.05L407.99 302.40L409.14 302.75L410.29 303.11L411.45 303.48L412.60 303.87L413.75 304.27L414.90 304.69L416.05 305.12L417.21 305.57L418.36 306.02L419.51 306.49L420.66 306.96L421.82 307.44L422.97 307.93L424.12 308.43L425.27 308.93L426.43 309.44L427.58 309.94L428.73 310.46L429.88 310.97L431.03 311.48L432.19 311.99L433.34 312.50L434.49 313.00L435.64 313.50L436.80 314.00L437.95 314.49L439.10 314.97L440.25 315.45L441.41 315.91L442.56 316.37L443.71 316.81L444.86 317.24L446.01 317.66L447.17 318.06L448.32 318.45L449.47 318.82L450.62 319.17L451.78 319.51L452.93 319.83L454.08 320.12L455.23 320.40L456.39 320.67L457.54 320.94L458.69 321.20L459.84 321.46L460.99 321.71L462.15 321.96L463.30 322.20L464.45 322.44L465.60 322.68L466.76 322.91L467.91 323.13L469.06 323.35L470.21 323.57L471.37 323.78L472.52 323.99L473.67 324.20L474.82 324.40L475.97 324.59L477.13 324.79L478.28 324.98L479.43 325.16L480.58 325.35L481.74 325.53L482.89 325.70L484.04 325.87L485.19 326.04L486.35 326.21L487.50 326.37L488.65 326.54L489.80 326.69L490.95 326.85L492.11 327.00L493.26 327.15L494.41 327.30L495.56 327.45L496.72 327.59L497.87 327.74L499.02 327.89L500.17 328.05L501.33 328.21L502.48 328.37L503.63 328.52L504.78 328.67L505.93 328.82L507.09 328.95L508.24 329.08L509.39 329.20L510.54 329.31L511.70 329.40L512.85 329.48L514.00 329.54L515.15 329.58L516.31 329.60L517.46 329.60L518.61 329.59L519.76 329.58L520.91 329.56L522.07 329.53L523.22 329.50L524.37 329.46L525.52 329.42L526.68 329.37L527.83 329.32L528.98 329.27L530.13 329.21L531.28 329.15L532.44 329.09L533.59 329.03L534.74 328.97L535.89 328.89L537.05 328.79L538.20 328.68L539.35 328.55L540.50 328.41L541.66 328.25L542.81 328.08L543.96 327.90L545.11 327.70L546.26 327.49L547.42 327.26L548.57 327.03L549.72 326.79L550.87 326.53L552.03 326.27L553.18 325.99L554.33 325.71L555.48 325.42L556.64 325.12L557.79 324.81L558.94 324.50L560.09 324.18L561.24 323.86L562.40 323.53L563.55 323.20L564.70 322.86L565.85 322.52L567.01 322.18L568.16 321.83L569.31 321.49L570.46 321.14L571.62 320.79L572.77 320.44L573.92 320.09L575.07 319.75L576.22 319.40L577.38 319.06L578.53 318.70L579.68 318.32L580.83 317.94L581.99 317.53L583.14 317.12L584.29 316.69L585.44 316.25L586.60 315.80L587.75 315.33L588.90 314.86L590.05 314.38L591.20 313.89L592.36 313.39L593.51 312.89L594.66 312.38L595.81 311.86L596.97 311.34L598.12 310.82L599.27 310.29L600.42 309.75L601.58 309.22L602.73 308.69L603.88 308.15L605.03 307.61L606.18 307.08L607.34 306.55L608.49 306.02L609.64 305.49L610.79 304.96L611.95 304.44L613.10 303.93L614.25 303.42L615.40 302.91L616.56 302.42L617.71 301.93L618.86 301.45L620.01 300.97L621.16 300.50L622.32 300.02L623.47 299.54L624.62 299.07L625.77 298.59L626.93 298.12L628.08 297.65L629.23 297.17L630.38 296.70L631.54 296.23L632.69 295.75L633.84 295.28L634.99 294.81L636.14 294.34L637.30 293.87L638.45 293.40L639.60 292.93L640.75 292.46L641.91 292.00L643.06 291.53L644.21 291.06L645.36 290.59L646.52 290.13L647.67 289.66L648.82 289.20L649.97 288.73L651.12 288.27L652.28 287.81L653.43 287.34L654.58 286.88L655.73 286.42L656.89 285.96L658.04 285.50L659.19 285.04L660.34 284.58L661.50 284.12L662.65 283.66L663.80 283.20" fill="none" stroke="#0000ff" stroke-width="2.10" stroke-linejoin="round" stroke-linecap="round" clip-path="url(#cpb)"/>
<path d="M88.80 271.10L89.21 271.11L89.62 271.12L90.03 271.13L90.44 271.14L90.86 271.15L91.27 271.16L91.68 271.17L92.09 271.17L92.50 271.18L92.91 271.19L93.32 271.20L93.73 271.21L94.14 271.22L94.55 271.23L94.97 271.24L95.38 271.25L95.79 271.26L96.20 271.27L96.61 271.28L97.02 271.29L97.43 271.29L97.84 271.30L98.25 271.31L98.66 271.32L99.08 271.33L99.49 271.34L99.90 271.35L100.31 271.36L100.72 271.37L101.13 271.38L101.54 271.38L101.95 271.39L102.36 271.40L102.77 271.41L103.19 271.42L103.60 271.43L104.01 271.44L104.42 271.45L104.83 271.45L105.24 271.46L105.65 271.47L106.06 271.48L106.47 271.49L106.88 271.50L107.30 271.50L107.71 271.51L108.12 271.52L108.53 271.53L108.94 271.54L109.35 271.54L109.76 271.55L110.17 271.56L110.58 271.57L110.99 271.58L111.41 271.58L111.82 271.59L112.23 271.60L112.64 271.61L113.05 271.61L113.46 271.62L113.87 271.63L114.28 271.64L114.69 271.64L115.10 271.65L115.52 271.66L115.93 271.66L116.34 271.67L116.75 271.68L117.16 271.69L117.57 271.69L117.98 271.70L118.39 271.71L118.80 271.71L119.21 271.72L119.63 271.72L120.04 271.73L120.45 271.74L120.86 271.74L121.27 271.75L121.68 271.75L122.09 271.76L122.50 271.77L122.91 271.77L123.32 271.78L123.74 271.78L124.15 271.79L124.56 271.79L124.97 271.80L125.38 271.80L125.79 271.81L126.20 271.81L126.61 271.82L127.02 271.82L127.43 271.83L127.85 271.83L128.26 271.84L128.67 271.84L129.08 271.85L129.49 271.85L129.90 271.85L130.31 271.86L130.72 271.86L131.13 271.87L131.54 271.87L131.96 271.87L132.37 271.88L132.78 271.88L133.19 271.88L133.60 271.88L134.01 271.89L134.42 271.89L134.83 271.89L135.24 271.90L135.65 271.90L136.07 271.90L136.48 271.90L136.89 271.90L137.30 271.91L137.71 271.91L138.12 271.91L138.53 271.91L138.94 271.92L139.35 271.92L139.76 271.92L140.18 271.92L140.59 271.92L141.00 271.93L141.41 271.93L141.82 271.93L142.23 271.93L142.64 271.94L143.05 271.94L143.46 271.94L143.88 271.94L144.29 271.94L144.70 271.95L145.11 271.95L145.52 271.95L145.93 271.95L146.34 271.95L146.75 271.96L147.16 271.96L147.57 271.96L147.99 271.96L148.40 271.96L148.81 271.97L149.22 271.97L149.63 271.97L150.04 271.97L150.45 271.97L150.86 271.98L151.27 271.98L151.68 271.98L152.10 271.98L152.51 271.98L152.92 271.98L153.33 271.99L153.74 271.99L154.15 271.99L154.56 271.99L154.97 271.99L155.38 272.00L155.79 272.00L156.21 272.00L156.62 272.00L157.03 272.00L157.44 272.00L157.85 272.01L158.26 272.01L158.67 272.01L159.08 272.01L159.49 272.01L159.90 272.01L160.32 272.02L160.73 272.02L161.14 272.02L161.55 272.02L161.96 272.02L162.37 272.02L162.78 272.03L163.19 272.03L163.60 272.03L164.01 272.03L164.43 272.03L164.84 272.03L165.25 272.03L165.66 272.04L166.07 272.04L166.48 272.04L166.89 272.04L167.30 272.04L167.71 272.04L168.12 272.04L168.54 272.05L168.95 272.05L169.36 272.05L169.77 272.05L170.18 272.05L170.59 272.05L171.00 272.05L171.41 272.05L171.82 272.06L172.23 272.06L172.65 272.06L173.06 272.06L173.47 272.06L173.88 272.06L174.29 272.06L174.70 272.06L175.11 272.07L175.52 272.07L175.93 272.07L176.34 272.07L176.76 272.07L177.17 272.07L177.58 272.07L177.99 272.07L178.40 272.07L178.81 272.07L179.22 272.08L179.63 272.08L180.04 272.08L180.45 272.08L180.87 272.08L181.28 272.08L181.69 272.08L182.10 272.08L182.51 272.08L182.92 272.08L183.33 272.08L183.74 272.08L184.15 272.09L184.56 272.09L184.98 272.09L185.39 272.09L185.80 272.09L186.21 272.09L186.62 272.09L187.03 272.09L187.44 272.09L187.85 272.09L188.26 272.09L188.67 272.09L189.09 272.09L189.50 272.09L189.91 272.09L190.32 272.09L190.73 272.09L191.14 272.10L191.55 272.10L191.96 272.10L192.37 272.10L192.78 272.10L193.20 272.10L193.61 272.10L194.02 272.10L194.43 272.10L194.84 272.10L195.25 272.10L195.66 272.10L196.07 272.10L196.48 272.10L196.90 272.10L197.31 272.10L197.72 272.10L198.13 272.10L198.54 272.10L198.95 272.10L199.36 272.10L199.77 272.10L200.18 272.10L200.59 272.10L201.01 272.10L201.42 272.10L201.83 272.10L202.24 272.10L202.65 272.10L203.06 272.10L203.47 272.10L203.88 272.10L204.29 272.10L204.70 272.10L205.12 272.10L205.53 272.10L205.94 272.10L206.35 272.10L206.76 272.10L207.17 272.10L207.58 272.10L207.99 272.10L208.40 272.10L208.81 272.10L209.23 272.10L209.64 272.10L210.05 272.10L210.46 272.10L210.87 272.10L211.28 272.10L211.69 272.10L212.10 272.10L212.51 272.10L212.92 272.10L213.34 272.10L213.75 272.10L214.16 272.10L214.57 272.10L214.98 272.10L215.39 272.10L215.80 272.10L216.21 272.10L216.62 272.10L217.03 272.10L217.45 272.10L217.86 272.10L218.27 272.10L218.68 272.10L219.09 272.10L219.50 272.10L219.91 272.10L220.32 272.10L220.73 272.10L221.14 272.10L221.56 272.10L221.97 272.10L222.38 272.10L222.79 272.10L223.20 272.10L223.61 272.10L224.02 272.10L224.43 272.10L224.84 272.10L225.25 272.10L225.67 272.10L226.08 272.10L226.49 272.10L226.90 272.10L227.31 272.10L227.72 272.10L228.13 272.10L228.54 272.10L228.95 272.10L229.36 272.10L229.78 272.10L230.19 272.10L230.60 272.10L231.01 272.10L231.42 272.10L231.83 272.10L232.24 272.10L232.65 272.10L233.06 272.10L233.47 272.10L233.89 272.10L234.30 272.10L234.71 272.10L235.12 272.10L235.53 272.10L235.94 272.10L236.35 272.10L236.76 272.10L237.17 272.10L237.58 272.10L238.00 272.10L238.41 272.10L238.82 272.10L239.23 272.10L239.64 272.10L240.05 272.10L240.46 272.10L240.87 272.10L241.28 272.10L241.69 272.10L242.11 272.10L242.52 272.10L242.93 272.10L243.34 272.10L243.75 272.10L244.16 272.10L244.57 272.10L244.98 272.10L245.39 272.10L245.81 272.10L246.22 272.10L246.63 272.10L247.04 272.10L247.45 272.10L247.86 272.10L248.27 272.10L248.68 272.10L249.09 272.10L249.50 272.10L249.92 272.10L250.33 272.10L250.74 272.10L251.15 272.10L251.56 272.10L251.97 272.10L252.38 272.10L252.79 272.10L253.20 272.10L253.61 272.10L254.03 272.10L254.44 272.10L254.85 272.10L255.26 272.10L255.67 272.10L256.08 272.10L256.49 272.10L256.90 272.10L257.31 272.10L257.72 272.10L258.14 272.10L258.55 272.10L258.96 272.10L259.37 272.10L259.78 272.10L260.19 272.10L260.60 272.10L261.01 272.10L261.42 272.10L261.83 272.10L262.25 272.10L262.66 272.10L263.07 272.10L263.48 272.10L263.89 272.10L264.30 272.10L264.71 272.10L265.12 272.10L265.53 272.10L265.94 272.10L266.36 272.10L266.77 272.10L267.18 272.10L267.59 272.10L268.00 272.10L268.41 272.10L268.82 272.10L269.23 272.10L269.64 272.10L270.05 272.10L270.47 272.10L270.88 272.10L271.29 272.10L271.70 272.10L272.11 272.10L272.52 272.10L272.93 272.10L273.34 272.10L273.75 272.10L274.16 272.10L274.58 272.10L274.99 272.10L275.40 272.10L275.81 272.10L276.22 272.10L276.63 272.10L277.04 272.10L277.45 272.10L277.86 272.10L278.27 272.10L278.69 272.10L279.10 272.10L279.51 272.10L279.92 272.10L280.33 272.10L280.74 272.10L281.15 272.10L281.56 272.10L281.97 272.10L282.38 272.10L282.80 272.10L283.21 272.10L283.62 272.10L284.03 272.10L284.44 272.10L284.85 272.10L285.26 272.10L285.67 272.10L286.08 272.10L286.49 272.10L286.91 272.10L287.32 272.10L287.73 272.10L288.14 272.10L288.55 272.10L288.96 272.10L289.37 272.10L289.78 272.10L290.19 272.11L290.60 272.11L291.02 272.11L291.43 272.11L291.84 272.12L292.25 272.12L292.66 272.12L293.07 272.13L293.48 272.13L293.89 272.14L294.30 272.14L294.71 272.15L295.13 272.15L295.54 272.16L295.95 272.16L296.36 272.17L296.77 272.18L297.18 272.18L297.59 272.19L298.00 272.20L298.41 272.20L298.83 272.21L299.24 272.22L299.65 272.23L300.06 272.23L300.47 272.24L300.88 272.25L301.29 272.26L301.70 272.27L302.11 272.28L302.52 272.29L302.94 272.30L303.35 272.31L303.76 272.32L304.17 272.33L304.58 272.34L304.99 272.35L305.40 272.36L305.81 272.37L306.22 272.38L306.63 272.39L307.05 272.40L307.46 272.41L307.87 272.42L308.28 272.43L308.69 272.45L309.10 272.46L309.51 272.47L309.92 272.48L310.33 272.49L310.74 272.50L311.16 272.52L311.57 272.53L311.98 272.54L312.39 272.55L312.80 272.56L313.21 272.58L313.62 272.59L314.03 272.60L314.44 272.61L314.85 272.63L315.27 272.64L315.68 272.65L316.09 272.67L316.50 272.68L316.91 272.69L317.32 272.70L317.73 272.72L318.14 272.73L318.55 272.74L318.96 272.76L319.38 272.77L319.79 272.78L320.20 272.79L320.61 272.81L321.02 272.82L321.43 272.83L321.84 272.84L322.25 272.86L322.66 272.87L323.07 272.88L323.49 272.90L323.90 272.91L324.31 272.92L324.72 272.93L325.13 272.95L325.54 272.96L325.95 272.97L326.36 272.98L326.77 272.99L327.18 273.01L327.60 273.02L328.01 273.03L328.42 273.04L328.83 273.05L329.24 273.06L329.65 273.08L330.06 273.09L330.47 273.10L330.88 273.11L331.29 273.12L331.71 273.13L332.12 273.14L332.53 273.15L332.94 273.16L333.35 273.17L333.76 273.18L334.17 273.19L334.58 273.20L334.99 273.21L335.40 273.22L335.82 273.23L336.23 273.24L336.64 273.25L337.05 273.26L337.46 273.26L337.87 273.27L338.28 273.28L338.69 273.29L339.10 273.29L339.51 273.30L339.93 273.31L340.34 273.32L340.75 273.32L341.16 273.33L341.57 273.34L341.98 273.34L342.39 273.35L342.80 273.35L343.21 273.36L343.62 273.36L344.04 273.37L344.45 273.37L344.86 273.37L345.27 273.38L345.68 273.38L346.09 273.39L346.50 273.39L346.91 273.39L347.32 273.39L347.73 273.39L348.15 273.40L348.56 273.40L348.97 273.40L349.38 273.40L349.79 273.40L350.20 273.40L350.61 273.40L351.02 273.40L351.43 273.39L351.85 273.39L352.26 273.38L352.67 273.38L353.08 273.37L353.49 273.36L353.90 273.36L354.31 273.35L354.72 273.34L355.13 273.33L355.54 273.32L355.96 273.30L356.37 273.29L356.78 273.28L357.19 273.26L357.60 273.25L358.01 273.24L358.42 273.22L358.83 273.21L359.24 273.19L359.65 273.17L360.07 273.16L360.48 273.14L360.89 273.12L361.30 273.11L361.71 273.09L362.12 273.07L362.53 273.05L362.94 273.04L363.35 273.02L363.76 273.00L364.18 272.98L364.59 272.96L365.00 272.95L365.41 272.93L365.82 272.91L366.23 272.89L366.64 272.88L367.05 272.86L367.46 272.84L367.87 272.83L368.29 272.81L368.70 272.79L369.11 272.78L369.52 272.76L369.93 272.75L370.34 272.73L370.75 272.72L371.16 272.71L371.57 272.70L371.98 272.68L372.40 272.67L372.81 272.66L373.22 272.65L373.63 272.64L374.04 272.63L374.45 272.63L374.86 272.62L375.27 272.61L375.68 272.61L376.09 272.61L376.51 272.60L376.92 272.60L377.33 272.60L377.74 272.60L378.15 272.60L378.56 272.60L378.97 272.60L379.38 272.60L379.79 272.60L380.20 272.60L380.62 272.61L381.03 272.61L381.44 272.61L381.85 272.61L382.26 272.61L382.67 272.61L383.08 272.62L383.49 272.62L383.90 272.62L384.31 272.63L384.73 272.63L385.14 272.63L385.55 272.64L385.96 272.64L386.37 272.64L386.78 272.65L387.19 272.65L387.60 272.65L388.01 272.66L388.42 272.66L388.84 272.67L389.25 272.67L389.66 272.68L390.07 272.68L390.48 272.69L390.89 272.69L391.30 272.70L391.71 272.71L392.12 272.71L392.53 272.72L392.95 272.73L393.36 272.73L393.77 272.74L394.18 272.75L394.59 272.75L395.00 272.76L395.41 272.77L395.82 272.77L396.23 272.78L396.64 272.79L397.06 272.80L397.47 272.80L397.88 272.81L398.29 272.82L398.70 272.83L399.11 272.84L399.52 272.85L399.93 272.86L400.34 272.86L400.75 272.87L401.17 272.88L401.58 272.89L401.99 272.90L402.40 272.91L402.81 272.93L403.22 272.95L403.63 272.98L404.04 273.01L404.45 273.04L404.87 273.08L405.28 273.12L405.69 273.17L406.10 273.22L406.51 273.27L406.92 273.32L407.33 273.38L407.74 273.44L408.15 273.50L408.56 273.57L408.98 273.64L409.39 273.71L409.80 273.78L410.21 273.85L410.62 273.93L411.03 274.01L411.44 274.09L411.85 274.17L412.26 274.25L412.67 274.33L413.09 274.42L413.50 274.50L413.91 274.59L414.32 274.68L414.73 274.76L415.14 274.85L415.55 274.94L415.96 275.02L416.37 275.11L416.78 275.20L417.20 275.28L417.61 275.37L418.02 275.46L418.43 275.54L418.84 275.62L419.25 275.71L419.66 275.79L420.07 275.87L420.48 275.94L420.89 276.02L421.31 276.09L421.72 276.17L422.13 276.24L422.54 276.31L422.95 276.37L423.36 276.44L423.77 276.50L424.18 276.56L424.59 276.61L425.00 276.67L425.42 276.73L425.83 276.79L426.24 276.85L426.65 276.91L427.06 276.97L427.47 277.03L427.88 277.09L428.29 277.15L428.70 277.21L429.11 277.27L429.53 277.32L429.94 277.38L430.35 277.44L430.76 277.50L431.17 277.56L431.58 277.62L431.99 277.67L432.40 277.73L432.81 277.79L433.22 277.84L433.64 277.90L434.05 277.96L434.46 278.01L434.87 278.07L435.28 278.12L435.69 278.17L436.10 278.23L436.51 278.28L436.92 278.33L437.33 278.39L437.75 278.44L438.16 278.49L438.57 278.54L438.98 278.59L439.39 278.64L439.80 278.69L440.21 278.73L440.62 278.78L441.03 278.83L441.44 278.87L441.86 278.92L442.27 278.96L442.68 279.01L443.09 279.05L443.50 279.09L443.91 279.13L444.32 279.17L444.73 279.21L445.14 279.25L445.55 279.29L445.97 279.32L446.38 279.36L446.79 279.39L447.20 279.43L447.61 279.46L448.02 279.50L448.43 279.53L448.84 279.56L449.25 279.59L449.66 279.63L450.08 279.66L450.49 279.69L450.90 279.72L451.31 279.75L451.72 279.78L452.13 279.80L452.54 279.83L452.95 279.86L453.36 279.89L453.77 279.92L454.19 279.94L454.60 279.97L455.01 280.00L455.42 280.02L455.83 280.05L456.24 280.07L456.65 280.10L457.06 280.13L457.47 280.15L457.89 280.18L458.30 280.20L458.71 280.23L459.12 280.25L459.53 280.28L459.94 280.30L460.35 280.33L460.76 280.35L461.17 280.38L461.58 280.41L462.00 280.43L462.41 280.46L462.82 280.48L463.23 280.51L463.64 280.53L464.05 280.56L464.46 280.59L464.87 280.61L465.28 280.64L465.69 280.67L466.11 280.70L466.52 280.72L466.93 280.75L467.34 280.78L467.75 280.81L468.16 280.84L468.57 280.87L468.98 280.90L469.39 280.93L469.80 280.96L470.22 280.98L470.63 281.01L471.04 281.04L471.45 281.07L471.86 281.10L472.27 281.13L472.68 281.16L473.09 281.19L473.50 281.21L473.91 281.24L474.33 281.27L474.74 281.30L475.15 281.33L475.56 281.36L475.97 281.39L476.38 281.42L476.79 281.45L477.20 281.48L477.61 281.51L478.02 281.53L478.44 281.56L478.85 281.59L479.26 281.62L479.67 281.65L480.08 281.68L480.49 281.71L480.90 281.74L481.31 281.77L481.72 281.80L482.13 281.83L482.55 281.86L482.96 281.89L483.37 281.92L483.78 281.95L484.19 281.99L484.60 282.02L485.01 282.05L485.42 282.08L485.83 282.11L486.24 282.14L486.66 282.17L487.07 282.21L487.48 282.24L487.89 282.27L488.30 282.30L488.71 282.34L489.12 282.37L489.53 282.40L489.94 282.44L490.35 282.47L490.77 282.51L491.18 282.54L491.59 282.58L492.00 282.62L492.41 282.66L492.82 282.70L493.23 282.74L493.64 282.78L494.05 282.82L494.46 282.86L494.88 282.90L495.29 282.94L495.70 282.99L496.11 283.03L496.52 283.07L496.93 283.12L497.34 283.16L497.75 283.21L498.16 283.25L498.57 283.30L498.99 283.34L499.40 283.39L499.81 283.43L500.22 283.48L500.63 283.52L501.04 283.56L501.45 283.61L501.86 283.65L502.27 283.70L502.68 283.74L503.10 283.79L503.51 283.83L503.92 283.87L504.33 283.92L504.74 283.96L505.15 284.00L505.56 284.04L505.97 284.08L506.38 284.12L506.79 284.16L507.21 284.20L507.62 284.24L508.03 284.28L508.44 284.31L508.85 284.35L509.26 284.38L509.67 284.42L510.08 284.45L510.49 284.48L510.91 284.52L511.32 284.55L511.73 284.58L512.14 284.60L512.55 284.63L512.96 284.66L513.37 284.68L513.78 284.70L514.19 284.73L514.60 284.75L515.02 284.77L515.43 284.78L515.84 284.80L516.25 284.82L516.66 284.83L517.07 284.85L517.48 284.86L517.89 284.88L518.30 284.90L518.71 284.91L519.13 284.93L519.54 284.94L519.95 284.96L520.36 284.97L520.77 284.99L521.18 285.00L521.59 285.02L522.00 285.03L522.41 285.05L522.82 285.06L523.24 285.07L523.65 285.09L524.06 285.10L524.47 285.11L524.88 285.13L525.29 285.14L525.70 285.15L526.11 285.17L526.52 285.18L526.93 285.19L527.35 285.20L527.76 285.21L528.17 285.22L528.58 285.24L528.99 285.25L529.40 285.26L529.81 285.27L530.22 285.28L530.63 285.29L531.04 285.30L531.46 285.30L531.87 285.31L532.28 285.32L532.69 285.33L533.10 285.34L533.51 285.34L533.92 285.35L534.33 285.36L534.74 285.36L535.15 285.37L535.57 285.37L535.98 285.38L536.39 285.38L536.80 285.39L537.21 285.39L537.62 285.39L538.03 285.39L538.44 285.40L538.85 285.40L539.26 285.40L539.68 285.40L540.09 285.40L540.50 285.40L540.91 285.39L541.32 285.39L541.73 285.38L542.14 285.37L542.55 285.35L542.96 285.34L543.37 285.32L543.79 285.30L544.20 285.28L544.61 285.25L545.02 285.23L545.43 285.20L545.84 285.17L546.25 285.14L546.66 285.11L547.07 285.07L547.48 285.04L547.90 285.00L548.31 284.96L548.72 284.92L549.13 284.88L549.54 284.84L549.95 284.80L550.36 284.76L550.77 284.71L551.18 284.67L551.59 284.62L552.01 284.57L552.42 284.53L552.83 284.48L553.24 284.43L553.65 284.38L554.06 284.33L554.47 284.28L554.88 284.23L555.29 284.19L555.70 284.14L556.12 284.09L556.53 284.04L556.94 283.99L557.35 283.94L557.76 283.89L558.17 283.84L558.58 283.79L558.99 283.75L559.40 283.70L559.82 283.65L560.23 283.60L560.64 283.55L561.05 283.50L561.46 283.44L561.87 283.38L562.28 283.33L562.69 283.27L563.10 283.20L563.51 283.14L563.93 283.07L564.34 283.01L564.75 282.94L565.16 282.87L565.57 282.80L565.98 282.73L566.39 282.66L566.80 282.58L567.21 282.51L567.62 282.44L568.04 282.36L568.45 282.28L568.86 282.21L569.27 282.13L569.68 282.05L570.09 281.97L570.50 281.89L570.91 281.81L571.32 281.73L571.73 281.65L572.15 281.57L572.56 281.49L572.97 281.41L573.38 281.33L573.79 281.25L574.20 281.17L574.61 281.09L575.02 281.02L575.43 280.94L575.84 280.86L576.26 280.78L576.67 280.70L577.08 280.63L577.49 280.55L577.90 280.48L578.31 280.40L578.72 280.33L579.13 280.26L579.54 280.19L579.95 280.12L580.37 280.05L580.78 279.98L581.19 279.92L581.60 279.85L582.01 279.79L582.42 279.73L582.83 279.67L583.24 279.61L583.65 279.55L584.06 279.50L584.48 279.45L584.89 279.39L585.30 279.35L585.71 279.30L586.12 279.25L586.53 279.21L586.94 279.17L587.35 279.12L587.76 279.08L588.17 279.04L588.59 279.00L589.00 278.97L589.41 278.93L589.82 278.89L590.23 278.85L590.64 278.82L591.05 278.78L591.46 278.75L591.87 278.72L592.28 278.68L592.70 278.65L593.11 278.62L593.52 278.59L593.93 278.56L594.34 278.53L594.75 278.50L595.16 278.47L595.57 278.44L595.98 278.41L596.39 278.38L596.81 278.35L597.22 278.32L597.63 278.30L598.04 278.27L598.45 278.24L598.86 278.21L599.27 278.18L599.68 278.15L600.09 278.13L600.50 278.10L600.92 278.07L601.33 278.04L601.74 278.01L602.15 277.98L602.56 277.95L602.97 277.92L603.38 277.89L603.79 277.86L604.20 277.83L604.61 277.80L605.03 277.76L605.44 277.73L605.85 277.70L606.26 277.66L606.67 277.63L607.08 277.59L607.49 277.56L607.90 277.52L608.31 277.48L608.72 277.44L609.14 277.40L609.55 277.36L609.96 277.32L610.37 277.28L610.78 277.24L611.19 277.19L611.60 277.15L612.01 277.10L612.42 277.05L612.84 277.00L613.25 276.94L613.66 276.88L614.07 276.82L614.48 276.76L614.89 276.69L615.30 276.63L615.71 276.56L616.12 276.48L616.53 276.41L616.95 276.33L617.36 276.25L617.77 276.17L618.18 276.09L618.59 276.01L619.00 275.93L619.41 275.84L619.82 275.76L620.23 275.67L620.64 275.58L621.06 275.50L621.47 275.41L621.88 275.32L622.29 275.23L622.70 275.14L623.11 275.05L623.52 274.96L623.93 274.88L624.34 274.79L624.75 274.70L625.17 274.62L625.58 274.53L625.99 274.45L626.40 274.36L626.81 274.28L627.22 274.20L627.63 274.12L628.04 274.05L628.45 273.97L628.86 273.90L629.28 273.83L629.69 273.76L630.10 273.69L630.51 273.62L630.92 273.56L631.33 273.50L631.74 273.45L632.15 273.39L632.56 273.34L632.97 273.29L633.39 273.25L633.80 273.21L634.21 273.17L634.62 273.13L635.03 273.10L635.44 273.06L635.85 273.02L636.26 272.98L636.67 272.95L637.08 272.91L637.50 272.87L637.91 272.83L638.32 272.80L638.73 272.76L639.14 272.72L639.55 272.69L639.96 272.65L640.37 272.62L640.78 272.58L641.19 272.55L641.61 272.51L642.02 272.48L642.43 272.44L642.84 272.41L643.25 272.37L643.66 272.34L644.07 272.31L644.48 272.28L644.89 272.24L645.30 272.21L645.72 272.18L646.13 272.15L646.54 272.12L646.95 272.09L647.36 272.06L647.77 272.03L648.18 272.00L648.59 271.97L649.00 271.94L649.41 271.92L649.83 271.89L650.24 271.86L650.65 271.84L651.06 271.81L651.47 271.79L651.88 271.77L652.29 271.74L652.70 271.72L653.11 271.70L653.52 271.68L653.94 271.66L654.35 271.64L654.76 271.62L655.17 271.60L655.58 271.58L655.99 271.57L656.40 271.55L656.81 271.53L657.22 271.52L657.63 271.50L658.05 271.49L658.46 271.48L658.87 271.47L659.28 271.46L659.69 271.45L660.10 271.44L660.51 271.43L660.92 271.42L661.33 271.42L661.74 271.41L662.16 271.41L662.57 271.40L662.98 271.40L663.39 271.40L663.80 271.40" fill="none" stroke="#ff1a0f" stroke-width="2.60" stroke-linejoin="round" stroke-linecap="round" clip-path="url(#cpb)"/>
<path d="M88.80 462.20L89.21 461.53L89.62 460.86L90.03 460.19L90.44 459.53L90.86 458.86L91.27 458.21L91.68 457.55L92.09 456.90L92.50 456.25L92.91 455.61L93.32 454.97L93.73 454.34L94.14 453.71L94.55 453.09L94.97 452.48L95.38 451.88L95.79 451.29L96.20 450.72L96.61 450.15L97.02 449.60L97.43 449.06L97.84 448.55L98.25 448.05L98.66 447.57L99.08 447.11L99.49 446.67L99.90 446.26L100.31 445.88L100.72 445.52L101.13 445.19L101.54 444.87L101.95 444.57L102.36 444.27L102.77 443.98L103.19 443.71L103.60 443.45L104.01 443.21L104.42 442.98L104.83 442.77L105.24 442.59L105.65 442.42L106.06 442.27L106.47 442.15L106.88 442.05L107.30 441.97L107.71 441.92L108.12 441.90L108.53 441.90L108.94 441.92L109.35 441.97L109.76 442.05L110.17 442.15L110.58 442.28L110.99 442.43L111.41 442.61L111.82 442.82L112.23 443.04L112.64 443.30L113.05 443.57L113.46 443.87L113.87 444.18L114.28 444.52L114.69 444.88L115.10 445.25L115.52 445.65L115.93 446.05L116.34 446.47L116.75 446.91L117.16 447.35L117.57 447.80L117.98 448.26L118.39 448.73L118.80 449.20L119.21 449.67L119.63 450.15L120.04 450.62L120.45 451.09L120.86 451.55L121.27 452.01L121.68 452.46L122.09 452.90L122.50 453.33L122.91 453.75L123.32 454.14L123.74 454.53L124.15 454.89L124.56 455.23L124.97 455.56L125.38 455.85L125.79 456.13L126.20 456.38L126.61 456.60L127.02 456.80L127.43 456.97L127.85 457.11L128.26 457.22L128.67 457.30L129.08 457.35L129.49 457.37L129.90 457.35L130.31 457.30L130.72 457.21L131.13 457.08L131.54 456.91L131.96 456.71L132.37 456.47L132.78 456.21L133.19 455.91L133.60 455.58L134.01 455.23L134.42 454.85L134.83 454.45L135.24 454.02L135.65 453.58L136.07 453.12L136.48 452.64L136.89 452.15L137.30 451.65L137.71 451.14L138.12 450.62L138.53 450.10L138.94 449.58L139.35 449.06L139.76 448.55L140.18 448.04L140.59 447.54L141.00 447.05L141.41 446.58L141.82 446.12L142.23 445.68L142.64 445.26L143.05 444.86L143.46 444.49L143.88 444.14L144.29 443.82L144.70 443.53L145.11 443.27L145.52 443.04L145.93 442.84L146.34 442.68L146.75 442.55L147.16 442.46L147.57 442.40L147.99 442.37L148.40 442.39L148.81 442.44L149.22 442.52L149.63 442.64L150.04 442.80L150.45 442.98L150.86 443.20L151.27 443.46L151.68 443.74L152.10 444.05L152.51 444.39L152.92 444.76L153.33 445.15L153.74 445.56L154.15 445.99L154.56 446.45L154.97 446.91L155.38 447.40L155.79 447.89L156.21 448.39L156.62 448.90L157.03 449.42L157.44 449.93L157.85 450.45L158.26 450.96L158.67 451.47L159.08 451.97L159.49 452.47L159.90 452.94L160.32 453.41L160.73 453.86L161.14 454.28L161.55 454.69L161.96 455.08L162.37 455.44L162.78 455.77L163.19 456.08L163.60 456.36L164.01 456.60L164.43 456.82L164.84 457.00L165.25 457.15L165.66 457.26L166.07 457.34L166.48 457.39L166.89 457.40L167.30 457.38L167.71 457.32L168.12 457.23L168.54 457.12L168.95 456.97L169.36 456.79L169.77 456.58L170.18 456.35L170.59 456.09L171.00 455.80L171.41 455.49L171.82 455.15L172.23 454.79L172.65 454.42L173.06 454.02L173.47 453.61L173.88 453.18L174.29 452.74L174.70 452.29L175.11 451.83L175.52 451.36L175.93 450.89L176.34 450.42L176.76 449.94L177.17 449.47L177.58 448.99L177.99 448.53L178.40 448.07L178.81 447.62L179.22 447.18L179.63 446.76L180.04 446.35L180.45 445.96L180.87 445.58L181.28 445.22L181.69 444.89L182.10 444.58L182.51 444.29L182.92 444.03L183.33 443.79L183.74 443.58L184.15 443.40L184.56 443.24L184.98 443.12L185.39 443.02L185.80 442.96L186.21 442.92L186.62 442.92L187.03 442.94L187.44 442.99L187.85 443.06L188.26 443.16L188.67 443.28L189.09 443.43L189.50 443.60L189.91 443.80L190.32 444.01L190.73 444.25L191.14 444.51L191.55 444.79L191.96 445.08L192.37 445.39L192.78 445.72L193.20 446.06L193.61 446.41L194.02 446.78L194.43 447.15L194.84 447.54L195.25 447.93L195.66 448.32L196.07 448.72L196.48 449.13L196.90 449.53L197.31 449.93L197.72 450.33L198.13 450.73L198.54 451.12L198.95 451.50L199.36 451.88L199.77 452.25L200.18 452.60L200.59 452.95L201.01 453.28L201.42 453.59L201.83 453.89L202.24 454.17L202.65 454.43L203.06 454.68L203.47 454.90L203.88 455.10L204.29 455.28L204.70 455.44L205.12 455.58L205.53 455.69L205.94 455.78L206.35 455.84L206.76 455.88L207.17 455.90L207.58 455.89L207.99 455.86L208.40 455.80L208.81 455.71L209.23 455.59L209.64 455.44L210.05 455.27L210.46 455.07L210.87 454.85L211.28 454.60L211.69 454.33L212.10 454.04L212.51 453.73L212.92 453.41L213.34 453.06L213.75 452.71L214.16 452.34L214.57 451.96L214.98 451.58L215.39 451.19L215.80 450.79L216.21 450.39L216.62 449.99L217.03 449.60L217.45 449.20L217.86 448.81L218.27 448.43L218.68 448.06L219.09 447.70L219.50 447.35L219.91 447.01L220.32 446.69L220.73 446.38L221.14 446.09L221.56 445.83L221.97 445.58L222.38 445.35L222.79 445.14L223.20 444.96L223.61 444.80L224.02 444.67L224.43 444.56L224.84 444.47L225.25 444.41L225.67 444.37L226.08 444.36L226.49 444.38L226.90 444.43L227.31 444.50L227.72 444.62L228.13 444.76L228.54 444.93L228.95 445.13L229.36 445.36L229.78 445.61L230.19 445.89L230.60 446.19L231.01 446.51L231.42 446.84L231.83 447.19L232.24 447.55L232.65 447.93L233.06 448.31L233.47 448.69L233.89 449.08L234.30 449.47L234.71 449.85L235.12 450.23L235.53 450.60L235.94 450.97L236.35 451.32L236.76 451.65L237.17 451.97L237.58 452.28L238.00 452.56L238.41 452.82L238.82 453.06L239.23 453.27L239.64 453.46L240.05 453.62L240.46 453.76L240.87 453.87L241.28 453.95L241.69 454.00L242.11 454.02L242.52 454.01L242.93 453.99L243.34 453.94L243.75 453.88L244.16 453.81L244.57 453.72L244.98 453.61L245.39 453.50L245.81 453.36L246.22 453.22L246.63 453.06L247.04 452.89L247.45 452.71L247.86 452.52L248.27 452.32L248.68 452.12L249.09 451.90L249.50 451.68L249.92 451.46L250.33 451.23L250.74 451.00L251.15 450.77L251.56 450.53L251.97 450.30L252.38 450.06L252.79 449.83L253.20 449.60L253.61 449.37L254.03 449.15L254.44 448.94L254.85 448.73L255.26 448.52L255.67 448.33L256.08 448.14L256.49 447.96L256.90 447.79L257.31 447.63L257.72 447.48L258.14 447.35L258.55 447.22L258.96 447.11L259.37 447.00L259.78 446.91L260.19 446.83L260.60 446.77L261.01 446.71L261.42 446.67L261.83 446.64L262.25 446.63L262.66 446.62L263.07 446.63L263.48 446.65L263.89 446.68L264.30 446.72L264.71 446.76L265.12 446.81L265.53 446.88L265.94 446.94L266.36 447.02L266.77 447.10L267.18 447.19L267.59 447.28L268.00 447.38L268.41 447.49L268.82 447.59L269.23 447.71L269.64 447.82L270.05 447.94L270.47 448.07L270.88 448.19L271.29 448.32L271.70 448.45L272.11 448.58L272.52 448.71L272.93 448.85L273.34 448.98L273.75 449.11L274.16 449.24L274.58 449.37L274.99 449.50L275.40 449.63L275.81 449.76L276.22 449.89L276.63 450.01L277.04 450.13L277.45 450.25L277.86 450.36L278.27 450.47L278.69 450.58L279.10 450.68L279.51 450.78L279.92 450.88L280.33 450.97L280.74 451.06L281.15 451.14L281.56 451.22L281.97 451.30L282.38 451.37L282.80 451.43L283.21 451.49L283.62 451.54L284.03 451.59L284.44 451.64L284.85 451.68L285.26 451.71L285.67 451.74L286.08 451.76L286.49 451.78L286.91 451.79L287.32 451.80L287.73 451.80L288.14 451.80L288.55 451.79L288.96 451.78L289.37 451.76L289.78 451.74L290.19 451.72L290.60 451.69L291.02 451.65L291.43 451.61L291.84 451.57L292.25 451.52L292.66 451.47L293.07 451.42L293.48 451.36L293.89 451.29L294.30 451.22L294.71 451.15L295.13 451.08L295.54 451.00L295.95 450.91L296.36 450.83L296.77 450.74L297.18 450.65L297.59 450.55L298.00 450.45L298.41 450.35L298.83 450.25L299.24 450.14L299.65 450.03L300.06 449.92L300.47 449.81L300.88 449.69L301.29 449.58L301.70 449.46L302.11 449.34L302.52 449.22L302.94 449.10L303.35 448.98L303.76 448.87L304.17 448.75L304.58 448.63L304.99 448.51L305.40 448.39L305.81 448.27L306.22 448.16L306.63 448.05L307.05 447.93L307.46 447.83L307.87 447.72L308.28 447.62L308.69 447.52L309.10 447.42L309.51 447.33L309.92 447.24L310.33 447.15L310.74 447.07L311.16 447.00L311.57 446.93L311.98 446.86L312.39 446.80L312.80 446.75L313.21 446.70L313.62 446.66L314.03 446.62L314.44 446.59L314.85 446.56L315.27 446.54L315.68 446.52L316.09 446.51L316.50 446.50L316.91 446.50L317.32 446.50L317.73 446.52L318.14 446.54L318.55 446.58L318.96 446.63L319.38 446.68L319.79 446.76L320.20 446.84L320.61 446.94L321.02 447.05L321.43 447.18L321.84 447.32L322.25 447.48L322.66 447.65L323.07 447.84L323.49 448.05L323.90 448.27L324.31 448.51L324.72 448.75L325.13 449.02L325.54 449.29L325.95 449.58L326.36 449.88L326.77 450.19L327.18 450.51L327.60 450.83L328.01 451.17L328.42 451.50L328.83 451.84L329.24 452.18L329.65 452.51L330.06 452.85L330.47 453.18L330.88 453.50L331.29 453.81L331.71 454.12L332.12 454.41L332.53 454.69L332.94 454.95L333.35 455.20L333.76 455.43L334.17 455.64L334.58 455.83L334.99 455.99L335.40 456.14L335.82 456.26L336.23 456.35L336.64 456.42L337.05 456.47L337.46 456.49L337.87 456.49L338.28 456.46L338.69 456.40L339.10 456.31L339.51 456.19L339.93 456.04L340.34 455.86L340.75 455.64L341.16 455.40L341.57 455.12L341.98 454.81L342.39 454.46L342.80 454.09L343.21 453.68L343.62 453.24L344.04 452.77L344.45 452.28L344.86 451.76L345.27 451.22L345.68 450.65L346.09 450.07L346.50 449.47L346.91 448.86L347.32 448.24L347.73 447.62L348.15 446.98L348.56 446.35L348.97 445.71L349.38 445.08L349.79 444.45L350.20 443.83L350.61 443.22L351.02 442.63L351.43 442.06L351.85 441.50L352.26 440.97L352.67 440.46L353.08 439.98L353.49 439.53L353.90 439.11L354.31 438.72L354.72 438.38L355.13 438.07L355.54 437.80L355.96 437.58L356.37 437.39L356.78 437.26L357.19 437.17L357.60 437.14L358.01 437.16L358.42 437.24L358.83 437.37L359.24 437.56L359.65 437.81L360.07 438.11L360.48 438.47L360.89 438.88L361.30 439.35L361.71 439.88L362.12 440.45L362.53 441.08L362.94 441.76L363.35 442.48L363.76 443.25L364.18 444.06L364.59 444.91L365.00 445.80L365.41 446.72L365.82 447.68L366.23 448.65L366.64 449.66L367.05 450.67L367.46 451.71L367.87 452.75L368.29 453.80L368.70 454.85L369.11 455.90L369.52 456.94L369.93 457.97L370.34 458.98L370.75 459.97L371.16 460.93L371.57 461.86L371.98 462.75L372.40 463.60L372.81 464.41L373.22 465.17L373.63 465.88L374.04 466.53L374.45 467.11L374.86 467.64L375.27 468.09L375.68 468.47L376.09 468.78L376.51 469.02L376.92 469.17L377.33 469.22L377.74 469.17L378.15 469.03L378.56 468.78L378.97 468.42L379.38 467.97L379.79 467.42L380.20 466.77L380.62 466.01L381.03 465.16L381.44 464.22L381.85 463.18L382.26 462.06L382.67 460.85L383.08 459.56L383.49 458.19L383.90 456.76L384.31 455.27L384.73 453.72L385.14 452.12L385.55 450.48L385.96 448.81L386.37 447.11L386.78 445.40L387.19 443.69L387.60 441.98L388.01 440.28L388.42 438.60L388.84 436.96L389.25 435.36L389.66 433.82L390.07 432.33L390.48 430.92L390.89 429.58L391.30 428.33L391.71 427.18L392.12 426.13L392.53 425.19L392.95 424.36L393.36 423.66L393.77 423.09L394.18 422.65L394.59 422.34L395.00 422.18L395.41 422.13L395.82 422.22L396.23 422.42L396.64 422.76L397.06 423.22L397.47 423.81L397.88 424.53L398.29 425.37L398.70 426.34L399.11 427.42L399.52 428.62L399.93 429.93L400.34 431.35L400.75 432.87L401.17 434.48L401.58 436.18L401.99 437.97L402.40 439.83L402.81 441.76L403.22 443.75L403.63 445.79L404.04 447.88L404.45 450.00L404.87 452.14L405.28 454.30L405.69 456.46L406.10 458.62L406.51 460.76L406.92 462.88L407.33 464.96L407.74 467.00L408.15 468.98L408.56 470.90L408.98 472.74L409.39 474.51L409.80 476.17L410.21 477.74L410.62 479.20L411.03 480.53L411.44 481.75L411.85 482.83L412.26 483.77L412.67 484.57L413.09 485.21L413.50 485.71L413.91 486.04L414.32 486.22L414.73 486.25L415.14 486.13L415.55 485.86L415.96 485.45L416.37 484.88L416.78 484.17L417.20 483.32L417.61 482.32L418.02 481.18L418.43 479.90L418.84 478.49L419.25 476.95L419.66 475.29L420.07 473.51L420.48 471.61L420.89 469.62L421.31 467.52L421.72 465.33L422.13 463.06L422.54 460.72L422.95 458.31L423.36 455.85L423.77 453.34L424.18 450.80L424.59 448.22L425.00 445.64L425.42 443.04L425.83 440.46L426.24 437.89L426.65 435.34L427.06 432.83L427.47 430.37L427.88 427.97L428.29 425.63L428.70 423.37L429.11 421.21L429.53 419.13L429.94 417.17L430.35 415.32L430.76 413.59L431.17 412.00L431.58 410.54L431.99 409.23L432.40 408.08L432.81 407.08L433.22 406.24L433.64 405.58L434.05 405.09L434.46 404.77L434.87 404.63L435.28 404.67L435.69 404.89L436.10 405.30L436.51 405.89L436.92 406.65L437.33 407.60L437.75 408.72L438.16 410.02L438.57 411.49L438.98 413.12L439.39 414.91L439.80 416.85L440.21 418.94L440.62 421.17L441.03 423.52L441.44 426.00L441.86 428.60L442.27 431.29L442.68 434.08L443.09 436.95L443.50 439.89L443.91 442.89L444.32 445.94L444.73 449.02L445.14 452.13L445.55 455.24L445.97 458.36L446.38 461.46L446.79 464.53L447.20 467.56L447.61 470.54L448.02 473.45L448.43 476.28L448.84 479.02L449.25 481.66L449.66 484.19L450.08 486.59L450.49 488.86L450.90 490.98L451.31 492.95L451.72 494.75L452.13 496.38L452.54 497.83L452.95 499.10L453.36 500.17L453.77 501.03L454.19 501.70L454.60 502.16L455.01 502.40L455.42 502.44L455.83 502.25L456.24 501.86L456.65 501.24L457.06 500.42L457.47 499.38L457.89 498.14L458.30 496.69L458.71 495.04L459.12 493.19L459.53 491.16L459.94 488.94L460.35 486.56L460.76 484.01L461.17 481.30L461.58 478.45L462.00 475.47L462.41 472.37L462.82 469.15L463.23 465.84L463.64 462.45L464.05 458.98L464.46 455.46L464.87 451.89L465.28 448.29L465.69 444.69L466.11 441.08L466.52 437.49L466.93 433.92L467.34 430.41L467.75 426.95L468.16 423.57L468.57 420.27L468.98 417.08L469.39 414.01L469.80 411.06L470.22 408.26L470.63 405.61L471.04 403.12L471.45 400.81L471.86 398.69L472.27 396.77L472.68 395.05L473.09 393.54L473.50 392.25L473.91 391.19L474.33 390.36L474.74 389.77L475.15 389.41L475.56 389.30L475.97 389.42L476.38 389.78L476.79 390.38L477.20 391.21L477.61 392.28L478.02 393.58L478.44 395.10L478.85 396.85L479.26 398.81L479.67 400.97L480.08 403.33L480.49 405.89L480.90 408.62L481.31 411.53L481.72 414.59L482.13 417.80L482.55 421.15L482.96 424.62L483.37 428.19L483.78 431.86L484.19 435.62L484.60 439.43L485.01 443.30L485.42 447.20L485.83 451.12L486.24 455.05L486.66 458.96L487.07 462.84L487.48 466.69L487.89 470.47L488.30 474.18L488.71 477.80L489.12 481.31L489.53 484.71L489.94 487.98L490.35 491.10L490.77 494.06L491.18 496.85L491.59 499.46L492.00 501.87L492.41 504.08L492.82 506.08L493.23 507.86L493.64 509.41L494.05 510.72L494.46 511.79L494.88 512.62L495.29 513.20L495.70 513.52L496.11 513.59L496.52 513.40L496.93 512.95L497.34 512.25L497.75 511.30L498.16 510.10L498.57 508.66L498.99 506.97L499.40 505.05L499.81 502.91L500.22 500.54L500.63 497.97L501.04 495.19L501.45 492.23L501.86 489.09L502.27 485.78L502.68 482.32L503.10 478.72L503.51 474.99L503.92 471.16L504.33 467.23L504.74 463.23L505.15 459.16L505.56 455.04L505.97 450.90L506.38 446.74L506.79 442.59L507.21 438.46L507.62 434.37L508.03 430.34L508.44 426.38L508.85 422.50L509.26 418.73L509.67 415.08L510.08 411.57L510.49 408.21L510.91 405.01L511.32 401.99L511.73 399.16L512.14 396.53L512.55 394.12L512.96 391.93L513.37 389.97L513.78 388.25L514.19 386.78L514.60 385.56L515.02 384.60L515.43 383.90L515.84 383.47L516.25 383.30L516.66 383.40L517.07 383.75L517.48 384.35L517.89 385.20L518.30 386.30L518.71 387.63L519.13 389.20L519.54 391.00L519.95 393.02L520.36 395.25L520.77 397.69L521.18 400.32L521.59 403.14L522.00 406.13L522.41 409.28L522.82 412.58L523.24 416.01L523.65 419.57L524.06 423.24L524.47 427.00L524.88 430.84L525.29 434.74L525.70 438.69L526.11 442.67L526.52 446.68L526.93 450.68L527.35 454.66L527.76 458.62L528.17 462.53L528.58 466.38L528.99 470.16L529.40 473.84L529.81 477.42L530.22 480.88L530.63 484.21L531.04 487.40L531.46 490.43L531.87 493.30L532.28 495.99L532.69 498.50L533.10 500.80L533.51 502.91L533.92 504.80L534.33 506.48L534.74 507.94L535.15 509.17L535.57 510.17L535.98 510.93L536.39 511.47L536.80 511.76L537.21 511.82L537.62 511.64L538.03 511.21L538.44 510.53L538.85 509.61L539.26 508.46L539.68 507.07L540.09 505.45L540.50 503.61L540.91 501.57L541.32 499.32L541.73 496.87L542.14 494.25L542.55 491.45L542.96 488.49L543.37 485.38L543.79 482.14L544.20 478.78L544.61 475.31L545.02 471.75L545.43 468.11L545.84 464.41L546.25 460.65L546.66 456.87L547.07 453.06L547.48 449.25L547.90 445.46L548.31 441.69L548.72 437.96L549.13 434.29L549.54 430.69L549.95 427.17L550.36 423.76L550.77 420.45L551.18 417.27L551.59 414.23L552.01 411.34L552.42 408.61L552.83 406.04L553.24 403.66L553.65 401.46L554.06 399.46L554.47 397.66L554.88 396.08L555.29 394.71L555.70 393.55L556.12 392.63L556.53 391.92L556.94 391.45L557.35 391.21L557.76 391.19L558.17 391.40L558.58 391.82L558.99 392.45L559.40 393.29L559.82 394.34L560.23 395.59L560.64 397.03L561.05 398.65L561.46 400.46L561.87 402.44L562.28 404.59L562.69 406.89L563.10 409.33L563.51 411.92L563.93 414.63L564.34 417.45L564.75 420.38L565.16 423.41L565.57 426.51L565.98 429.68L566.39 432.91L566.80 436.18L567.21 439.48L567.62 442.80L568.04 446.13L568.45 449.45L568.86 452.75L569.27 456.02L569.68 459.24L570.09 462.41L570.50 465.51L570.91 468.54L571.32 471.47L571.73 474.31L572.15 477.03L572.56 479.64L572.97 482.12L573.38 484.45L573.79 486.65L574.20 488.69L574.61 490.57L575.02 492.29L575.43 493.84L575.84 495.21L576.26 496.40L576.67 497.41L577.08 498.24L577.49 498.87L577.90 499.32L578.31 499.58L578.72 499.66L579.13 499.54L579.54 499.22L579.95 498.70L580.37 497.98L580.78 497.06L581.19 495.95L581.60 494.65L582.01 493.18L582.42 491.53L582.83 489.73L583.24 487.77L583.65 485.67L584.06 483.43L584.48 481.07L584.89 478.61L585.30 476.04L585.71 473.38L586.12 470.64L586.53 467.84L586.94 464.99L587.35 462.10L587.76 459.18L588.17 456.24L588.59 453.31L589.00 450.38L589.41 447.48L589.82 444.61L590.23 441.79L590.64 439.03L591.05 436.33L591.46 433.72L591.87 431.19L592.28 428.76L592.70 426.45L593.11 424.25L593.52 422.18L593.93 420.24L594.34 418.44L594.75 416.78L595.16 415.28L595.57 413.94L595.98 412.76L596.39 411.74L596.81 410.88L597.22 410.20L597.63 409.69L598.04 409.34L598.45 409.17L598.86 409.17L599.27 409.33L599.68 409.65L600.09 410.11L600.50 410.72L600.92 411.46L601.33 412.34L601.74 413.36L602.15 414.50L602.56 415.76L602.97 417.13L603.38 418.62L603.79 420.20L604.20 421.88L604.61 423.65L605.03 425.49L605.44 427.41L605.85 429.39L606.26 431.42L606.67 433.50L607.08 435.62L607.49 437.78L607.90 439.95L608.31 442.13L608.72 444.32L609.14 446.51L609.55 448.69L609.96 450.84L610.37 452.97L610.78 455.06L611.19 457.11L611.60 459.11L612.01 461.05L612.42 462.93L612.84 464.74L613.25 466.47L613.66 468.13L614.07 469.69L614.48 471.16L614.89 472.54L615.30 473.81L615.71 474.98L616.12 476.05L616.53 477.00L616.95 477.84L617.36 478.57L617.77 479.18L618.18 479.68L618.59 480.06L619.00 480.32L619.41 480.46L619.82 480.49L620.23 480.41L620.64 480.21L621.06 479.89L621.47 479.45L621.88 478.90L622.29 478.25L622.70 477.49L623.11 476.63L623.52 475.67L623.93 474.62L624.34 473.48L624.75 472.27L625.17 470.98L625.58 469.62L625.99 468.19L626.40 466.71L626.81 465.19L627.22 463.61L627.63 462.01L628.04 460.37L628.45 458.71L628.86 457.03L629.28 455.35L629.69 453.66L630.10 451.98L630.51 450.31L630.92 448.66L631.33 447.03L631.74 445.44L632.15 443.88L632.56 442.36L632.97 440.89L633.39 439.47L633.80 438.11L634.21 436.82L634.62 435.59L635.03 434.43L635.44 433.34L635.85 432.34L636.26 431.42L636.67 430.58L637.08 429.82L637.50 429.16L637.91 428.59L638.32 428.10L638.73 427.71L639.14 427.41L639.55 427.20L639.96 427.09L640.37 427.06L640.78 427.13L641.19 427.28L641.61 427.51L642.02 427.81L642.43 428.17L642.84 428.60L643.25 429.10L643.66 429.66L644.07 430.27L644.48 430.94L644.89 431.67L645.30 432.44L645.72 433.27L646.13 434.13L646.54 435.04L646.95 435.98L647.36 436.96L647.77 437.96L648.18 439.00L648.59 440.05L649.00 441.12L649.41 442.21L649.83 443.31L650.24 444.41L650.65 445.52L651.06 446.63L651.47 447.73L651.88 448.83L652.29 449.91L652.70 450.98L653.11 452.03L653.52 453.07L653.94 454.07L654.35 455.05L654.76 456.01L655.17 456.92L655.58 457.81L655.99 458.65L656.40 459.46L656.81 460.22L657.22 460.95L657.63 461.62L658.05 462.25L658.46 462.83L658.87 463.36L659.28 463.84L659.69 464.27L660.10 464.65L660.51 464.97L660.92 465.25L661.33 465.47L661.74 465.63L662.16 465.75L662.57 465.81L662.98 465.83L663.39 465.79L663.80 465.70" fill="none" stroke="#000000" stroke-width="1.80" stroke-linejoin="round" stroke-linecap="round" clip-path="url(#cpc)"/>
<path d="M88.80 441.70L89.95 441.71L91.10 441.72L92.26 441.73L93.41 441.74L94.56 441.75L95.71 441.76L96.87 441.78L98.02 441.79L99.17 441.80L100.32 441.81L101.48 441.82L102.63 441.83L103.78 441.84L104.93 441.86L106.08 441.87L107.24 441.88L108.39 441.89L109.54 441.91L110.69 441.92L111.85 441.93L113.00 441.94L114.15 441.96L115.30 441.97L116.46 441.98L117.61 442.00L118.76 442.01L119.91 442.02L121.06 442.04L122.22 442.05L123.37 442.06L124.52 442.08L125.67 442.09L126.83 442.10L127.98 442.12L129.13 442.13L130.28 442.15L131.44 442.16L132.59 442.17L133.74 442.19L134.89 442.20L136.04 442.22L137.20 442.23L138.35 442.25L139.50 442.26L140.65 442.28L141.81 442.29L142.96 442.31L144.11 442.32L145.26 442.34L146.42 442.35L147.57 442.37L148.72 442.38L149.87 442.40L151.02 442.41L152.18 442.43L153.33 442.44L154.48 442.46L155.63 442.47L156.79 442.49L157.94 442.50L159.09 442.52L160.24 442.53L161.40 442.55L162.55 442.56L163.70 442.58L164.85 442.59L166.00 442.61L167.16 442.62L168.31 442.64L169.46 442.65L170.61 442.67L171.77 442.68L172.92 442.70L174.07 442.72L175.22 442.73L176.38 442.75L177.53 442.77L178.68 442.78L179.83 442.80L180.98 442.82L182.14 442.84L183.29 442.86L184.44 442.88L185.59 442.90L186.75 442.92L187.90 442.94L189.05 442.96L190.20 442.98L191.36 443.01L192.51 443.03L193.66 443.05L194.81 443.08L195.96 443.10L197.12 443.13L198.27 443.16L199.42 443.19L200.57 443.21L201.73 443.25L202.88 443.28L204.03 443.32L205.18 443.36L206.34 443.40L207.49 443.45L208.64 443.50L209.79 443.54L210.94 443.60L212.10 443.65L213.25 443.70L214.40 443.76L215.55 443.82L216.71 443.87L217.86 443.93L219.01 443.99L220.16 444.05L221.32 444.11L222.47 444.17L223.62 444.23L224.77 444.29L225.92 444.35L227.08 444.41L228.23 444.48L229.38 444.54L230.53 444.61L231.69 444.68L232.84 444.76L233.99 444.83L235.14 444.90L236.29 444.97L237.45 445.05L238.60 445.12L239.75 445.19L240.90 445.26L242.06 445.33L243.21 445.40L244.36 445.46L245.51 445.53L246.67 445.59L247.82 445.66L248.97 445.73L250.12 445.80L251.27 445.87L252.43 445.94L253.58 446.02L254.73 446.09L255.88 446.16L257.04 446.24L258.19 446.31L259.34 446.39L260.49 446.46L261.65 446.53L262.80 446.61L263.95 446.68L265.10 446.75L266.25 446.82L267.41 446.88L268.56 446.95L269.71 447.01L270.86 447.07L272.02 447.12L273.17 447.18L274.32 447.23L275.47 447.27L276.63 447.32L277.78 447.36L278.93 447.39L280.08 447.42L281.23 447.45L282.39 447.47L283.54 447.48L284.69 447.49L285.84 447.50L287.00 447.50L288.15 447.50L289.30 447.49L290.45 447.48L291.61 447.46L292.76 447.45L293.91 447.43L295.06 447.41L296.21 447.38L297.37 447.35L298.52 447.32L299.67 447.28L300.82 447.25L301.98 447.20L303.13 447.16L304.28 447.11L305.43 447.07L306.59 447.01L307.74 446.96L308.89 446.90L310.04 446.84L311.19 446.78L312.35 446.72L313.50 446.65L314.65 446.58L315.80 446.46L316.96 446.29L318.11 446.07L319.26 445.82L320.41 445.53L321.57 445.22L322.72 444.89L323.87 444.56L325.02 444.22L326.17 443.88L327.33 443.56L328.48 443.26L329.63 442.98L330.78 442.73L331.94 442.49L333.09 442.26L334.24 442.03L335.39 441.80L336.55 441.58L337.70 441.35L338.85 441.13L340.00 440.91L341.15 440.68L342.31 440.45L343.46 440.22L344.61 439.98L345.76 439.74L346.92 439.50L348.07 439.26L349.22 439.01L350.37 438.77L351.53 438.52L352.68 438.26L353.83 437.99L354.98 437.72L356.13 437.43L357.29 437.12L358.44 436.80L359.59 436.47L360.74 436.13L361.90 435.77L363.05 435.40L364.20 435.02L365.35 434.64L366.51 434.24L367.66 433.83L368.81 433.42L369.96 433.00L371.11 432.57L372.27 432.13L373.42 431.69L374.57 431.25L375.72 430.80L376.88 430.34L378.03 429.89L379.18 429.42L380.33 428.93L381.49 428.43L382.64 427.92L383.79 427.39L384.94 426.86L386.09 426.32L387.25 425.78L388.40 425.24L389.55 424.71L390.70 424.17L391.86 423.64L393.01 423.09L394.16 422.54L395.31 422.00L396.47 421.45L397.62 420.90L398.77 420.37L399.92 419.84L401.07 419.31L402.23 418.79L403.38 418.26L404.53 417.74L405.68 417.22L406.84 416.70L407.99 416.18L409.14 415.66L410.29 415.15L411.45 414.63L412.60 414.12L413.75 413.60L414.90 413.09L416.05 412.58L417.21 412.08L418.36 411.57L419.51 411.07L420.66 410.57L421.82 410.07L422.97 409.57L424.12 409.08L425.27 408.59L426.43 408.10L427.58 407.61L428.73 407.12L429.88 406.64L431.03 406.16L432.19 405.69L433.34 405.21L434.49 404.74L435.64 404.27L436.80 403.80L437.95 403.31L439.10 402.82L440.25 402.33L441.41 401.84L442.56 401.34L443.71 400.84L444.86 400.34L446.01 399.83L447.17 399.33L448.32 398.83L449.47 398.33L450.62 397.84L451.78 397.35L452.93 396.86L454.08 396.38L455.23 395.90L456.39 395.43L457.54 394.97L458.69 394.51L459.84 394.07L460.99 393.63L462.15 393.21L463.30 392.79L464.45 392.39L465.60 392.00L466.76 391.62L467.91 391.26L469.06 390.92L470.21 390.59L471.37 390.27L472.52 389.98L473.67 389.70L474.82 389.44L475.97 389.19L477.13 388.94L478.28 388.70L479.43 388.45L480.58 388.20L481.74 387.95L482.89 387.71L484.04 387.47L485.19 387.23L486.35 386.99L487.50 386.75L488.65 386.52L489.80 386.30L490.95 386.07L492.11 385.86L493.26 385.65L494.41 385.44L495.56 385.24L496.72 385.05L497.87 384.87L499.02 384.69L500.17 384.52L501.33 384.36L502.48 384.21L503.63 384.07L504.78 383.94L505.93 383.82L507.09 383.72L508.24 383.62L509.39 383.53L510.54 383.46L511.70 383.40L512.85 383.35L514.00 383.32L515.15 383.30L516.31 383.30L517.46 383.32L518.61 383.36L519.76 383.42L520.91 383.49L522.07 383.57L523.22 383.66L524.37 383.75L525.52 383.84L526.68 383.95L527.83 384.08L528.98 384.22L530.13 384.38L531.28 384.55L532.44 384.74L533.59 384.94L534.74 385.16L535.89 385.38L537.05 385.62L538.20 385.87L539.35 386.13L540.50 386.41L541.66 386.69L542.81 386.97L543.96 387.27L545.11 387.57L546.26 387.88L547.42 388.20L548.57 388.52L549.72 388.85L550.87 389.17L552.03 389.51L553.18 389.84L554.33 390.18L555.48 390.52L556.64 390.86L557.79 391.20L558.94 391.54L560.09 391.91L561.24 392.29L562.40 392.69L563.55 393.11L564.70 393.54L565.85 393.98L567.01 394.44L568.16 394.90L569.31 395.38L570.46 395.88L571.62 396.38L572.77 396.89L573.92 397.41L575.07 397.93L576.22 398.46L577.38 399.00L578.53 399.55L579.68 400.10L580.83 400.65L581.99 401.20L583.14 401.76L584.29 402.32L585.44 402.88L586.60 403.43L587.75 403.99L588.90 404.54L590.05 405.10L591.20 405.64L592.36 406.19L593.51 406.73L594.66 407.26L595.81 407.79L596.97 408.31L598.12 408.82L599.27 409.32L600.42 409.82L601.58 410.32L602.73 410.82L603.88 411.33L605.03 411.84L606.18 412.35L607.34 412.86L608.49 413.37L609.64 413.88L610.79 414.39L611.95 414.90L613.10 415.41L614.25 415.93L615.40 416.44L616.56 416.95L617.71 417.46L618.86 417.96L620.01 418.47L621.16 418.98L622.32 419.48L623.47 419.98L624.62 420.48L625.77 420.98L626.93 421.47L628.08 421.96L629.23 422.45L630.38 422.93L631.54 423.41L632.69 423.89L633.84 424.36L634.99 424.83L636.14 425.30L637.30 425.76L638.45 426.21L639.60 426.66L640.75 427.11L641.91 427.54L643.06 427.98L644.21 428.41L645.36 428.84L646.52 429.26L647.67 429.68L648.82 430.10L649.97 430.51L651.12 430.92L652.28 431.32L653.43 431.73L654.58 432.12L655.73 432.52L656.89 432.91L658.04 433.30L659.19 433.69L660.34 434.07L661.50 434.45L662.65 434.83L663.80 435.20" fill="none" stroke="#0000ff" stroke-width="2.10" stroke-linejoin="round" stroke-linecap="round" clip-path="url(#cpc)"/>
<path d="M88.80 451.80L89.95 452.06L91.10 452.31L92.26 452.57L93.41 452.81L94.56 453.05L95.71 453.29L96.87 453.52L98.02 453.74L99.17 453.96L100.32 454.17L101.48 454.37L102.63 454.56L103.78 454.75L104.93 454.93L106.08 455.10L107.24 455.26L108.39 455.41L109.54 455.55L110.69 455.68L111.85 455.81L113.00 455.95L114.15 456.08L115.30 456.21L116.46 456.34L117.61 456.47L118.76 456.60L119.91 456.72L121.06 456.83L122.22 456.93L123.37 457.03L124.52 457.12L125.67 457.20L126.83 457.26L127.98 457.32L129.13 457.36L130.28 457.39L131.44 457.40L132.59 457.40L133.74 457.40L134.89 457.40L136.04 457.40L137.20 457.40L138.35 457.40L139.50 457.40L140.65 457.40L141.81 457.40L142.96 457.40L144.11 457.40L145.26 457.40L146.42 457.40L147.57 457.40L148.72 457.40L149.87 457.40L151.02 457.40L152.18 457.40L153.33 457.40L154.48 457.40L155.63 457.40L156.79 457.40L157.94 457.40L159.09 457.40L160.24 457.40L161.40 457.40L162.55 457.40L163.70 457.40L164.85 457.40L166.00 457.40L167.16 457.40L168.31 457.40L169.46 457.39L170.61 457.38L171.77 457.36L172.92 457.34L174.07 457.32L175.22 457.29L176.38 457.26L177.53 457.23L178.68 457.20L179.83 457.16L180.98 457.12L182.14 457.08L183.29 457.03L184.44 456.99L185.59 456.94L186.75 456.89L187.90 456.84L189.05 456.79L190.20 456.74L191.36 456.69L192.51 456.64L193.66 456.58L194.81 456.53L195.96 456.48L197.12 456.43L198.27 456.38L199.42 456.33L200.57 456.27L201.73 456.22L202.88 456.16L204.03 456.10L205.18 456.04L206.34 455.97L207.49 455.90L208.64 455.83L209.79 455.75L210.94 455.68L212.10 455.60L213.25 455.52L214.40 455.45L215.55 455.37L216.71 455.30L217.86 455.22L219.01 455.15L220.16 455.08L221.32 455.01L222.47 454.94L223.62 454.87L224.77 454.81L225.92 454.75L227.08 454.70L228.23 454.64L229.38 454.59L230.53 454.54L231.69 454.48L232.84 454.43L233.99 454.38L235.14 454.33L236.29 454.29L237.45 454.24L238.60 454.19L239.75 454.14L240.90 454.09L242.06 454.04L243.21 453.98L244.36 453.93L245.51 453.88L246.67 453.82L247.82 453.76L248.97 453.69L250.12 453.62L251.27 453.56L252.43 453.48L253.58 453.41L254.73 453.34L255.88 453.26L257.04 453.18L258.19 453.10L259.34 453.03L260.49 452.95L261.65 452.87L262.80 452.79L263.95 452.72L265.10 452.64L266.25 452.57L267.41 452.49L268.56 452.42L269.71 452.36L270.86 452.29L272.02 452.23L273.17 452.17L274.32 452.11L275.47 452.06L276.63 452.01L277.78 451.97L278.93 451.93L280.08 451.89L281.23 451.86L282.39 451.84L283.54 451.82L284.69 451.81L285.84 451.80L287.00 451.80L288.15 451.80L289.30 451.81L290.45 451.82L291.61 451.84L292.76 451.86L293.91 451.88L295.06 451.90L296.21 451.93L297.37 451.96L298.52 452.00L299.67 452.03L300.82 452.07L301.98 452.12L303.13 452.16L304.28 452.21L305.43 452.26L306.59 452.31L307.74 452.36L308.89 452.42L310.04 452.47L311.19 452.53L312.35 452.59L313.50 452.66L314.65 452.72L315.80 452.80L316.96 452.90L318.11 453.01L319.26 453.14L320.41 453.29L321.57 453.45L322.72 453.62L323.87 453.81L325.02 454.01L326.17 454.21L327.33 454.43L328.48 454.66L329.63 454.90L330.78 455.14L331.94 455.39L333.09 455.64L334.24 455.90L335.39 456.16L336.55 456.43L337.70 456.74L338.85 457.10L340.00 457.48L341.15 457.88L342.31 458.28L343.46 458.69L344.61 459.07L345.76 459.44L346.92 459.80L348.07 460.16L349.22 460.51L350.37 460.85L351.53 461.20L352.68 461.53L353.83 461.87L354.98 462.21L356.13 462.54L357.29 462.87L358.44 463.21L359.59 463.54L360.74 463.88L361.90 464.22L363.05 464.56L364.20 464.91L365.35 465.26L366.51 465.62L367.66 465.98L368.81 466.35L369.96 466.72L371.11 467.11L372.27 467.50L373.42 467.90L374.57 468.31L375.72 468.73L376.88 469.17L378.03 469.61L379.18 470.08L380.33 470.59L381.49 471.13L382.64 471.68L383.79 472.26L384.94 472.84L386.09 473.42L387.25 473.99L388.40 474.55L389.55 475.10L390.70 475.61L391.86 476.12L393.01 476.61L394.16 477.10L395.31 477.59L396.47 478.07L397.62 478.56L398.77 479.06L399.92 479.57L401.07 480.08L402.23 480.61L403.38 481.15L404.53 481.70L405.68 482.24L406.84 482.79L407.99 483.34L409.14 483.89L410.29 484.43L411.45 484.96L412.60 485.48L413.75 485.99L414.90 486.49L416.05 486.99L417.21 487.48L418.36 487.98L419.51 488.47L420.66 488.96L421.82 489.45L422.97 489.94L424.12 490.42L425.27 490.91L426.43 491.39L427.58 491.86L428.73 492.34L429.88 492.81L431.03 493.28L432.19 493.75L433.34 494.22L434.49 494.68L435.64 495.14L436.80 495.60L437.95 496.05L439.10 496.51L440.25 496.95L441.41 497.40L442.56 497.84L443.71 498.28L444.86 498.72L446.01 499.15L447.17 499.58L448.32 500.00L449.47 500.43L450.62 500.85L451.78 501.26L452.93 501.67L454.08 502.08L455.23 502.48L456.39 502.88L457.54 503.29L458.69 503.69L459.84 504.09L460.99 504.48L462.15 504.88L463.30 505.27L464.45 505.66L465.60 506.05L466.76 506.43L467.91 506.80L469.06 507.17L470.21 507.54L471.37 507.90L472.52 508.24L473.67 508.59L474.82 508.92L475.97 509.24L477.13 509.56L478.28 509.86L479.43 510.16L480.58 510.44L481.74 510.72L482.89 510.99L484.04 511.25L485.19 511.51L486.35 511.76L487.50 512.00L488.65 512.24L489.80 512.47L490.95 512.69L492.11 512.91L493.26 513.12L494.41 513.33L495.56 513.53L496.72 513.72L497.87 513.93L499.02 514.15L500.17 514.37L501.33 514.60L502.48 514.81L503.63 515.02L504.78 515.22L505.93 515.40L507.09 515.56L508.24 515.69L509.39 515.80L510.54 515.87L511.70 515.90L512.85 515.90L514.00 515.87L515.15 515.84L516.31 515.79L517.46 515.72L518.61 515.65L519.76 515.57L520.91 515.48L522.07 515.38L523.22 515.27L524.37 515.16L525.52 515.01L526.68 514.80L527.83 514.55L528.98 514.26L530.13 513.94L531.28 513.60L532.44 513.25L533.59 512.90L534.74 512.54L535.89 512.20L537.05 511.87L538.20 511.56L539.35 511.25L540.50 510.94L541.66 510.63L542.81 510.33L543.96 510.02L545.11 509.71L546.26 509.40L547.42 509.10L548.57 508.79L549.72 508.48L550.87 508.17L552.03 507.86L553.18 507.54L554.33 507.23L555.48 506.91L556.64 506.59L557.79 506.27L558.94 505.95L560.09 505.62L561.24 505.29L562.40 504.95L563.55 504.61L564.70 504.27L565.85 503.92L567.01 503.57L568.16 503.22L569.31 502.86L570.46 502.49L571.62 502.12L572.77 501.74L573.92 501.36L575.07 500.97L576.22 500.58L577.38 500.18L578.53 499.77L579.68 499.35L580.83 498.92L581.99 498.47L583.14 498.00L584.29 497.52L585.44 497.02L586.60 496.51L587.75 495.99L588.90 495.46L590.05 494.92L591.20 494.37L592.36 493.81L593.51 493.24L594.66 492.67L595.81 492.09L596.97 491.51L598.12 490.92L599.27 490.33L600.42 489.75L601.58 489.16L602.73 488.57L603.88 487.98L605.03 487.40L606.18 486.82L607.34 486.24L608.49 485.67L609.64 485.11L610.79 484.55L611.95 484.00L613.10 483.47L614.25 482.94L615.40 482.42L616.56 481.92L617.71 481.43L618.86 480.96L620.01 480.50L621.16 480.04L622.32 479.60L623.47 479.15L624.62 478.71L625.77 478.27L626.93 477.83L628.08 477.40L629.23 476.97L630.38 476.54L631.54 476.11L632.69 475.69L633.84 475.27L634.99 474.86L636.14 474.45L637.30 474.04L638.45 473.63L639.60 473.23L640.75 472.83L641.91 472.44L643.06 472.05L644.21 471.66L645.36 471.28L646.52 470.90L647.67 470.52L648.82 470.15L649.97 469.78L651.12 469.42L652.28 469.06L653.43 468.70L654.58 468.35L655.73 468.00L656.89 467.66L658.04 467.32L659.19 466.99L660.34 466.66L661.50 466.34L662.65 466.02L663.80 465.70" fill="none" stroke="#0000ff" stroke-width="2.10" stroke-linejoin="round" stroke-linecap="round" clip-path="url(#cpc)"/>
<path d="M88.80 612.63L89.21 612.24L89.62 611.92L90.03 611.67L90.44 611.50L90.86 611.39L91.27 611.35L91.68 611.39L92.09 611.49L92.50 611.65L92.91 611.87L93.32 612.13L93.73 612.45L94.14 612.80L94.55 613.19L94.97 613.60L95.38 614.04L95.79 614.48L96.20 614.94L96.61 615.40L97.02 615.85L97.43 616.29L97.84 616.73L98.25 617.14L98.66 617.54L99.08 617.91L99.49 618.26L99.90 618.58L100.31 618.87L100.72 619.12L101.13 619.33L101.54 619.50L101.95 619.62L102.36 619.70L102.77 619.73L103.19 619.71L103.60 619.64L104.01 619.53L104.42 619.37L104.83 619.17L105.24 618.93L105.65 618.66L106.06 618.35L106.47 618.01L106.88 617.66L107.30 617.28L107.71 616.89L108.12 616.49L108.53 616.09L108.94 615.69L109.35 615.30L109.76 614.92L110.17 614.56L110.58 614.22L110.99 613.91L111.41 613.64L111.82 613.39L112.23 613.19L112.64 613.02L113.05 612.90L113.46 612.82L113.87 612.79L114.28 612.80L114.69 612.86L115.10 612.97L115.52 613.12L115.93 613.32L116.34 613.55L116.75 613.83L117.16 614.13L117.57 614.46L117.98 614.82L118.39 615.19L118.80 615.58L119.21 615.97L119.63 616.37L120.04 616.76L120.45 617.14L120.86 617.50L121.27 617.85L121.68 618.17L122.09 618.46L122.50 618.71L122.91 618.93L123.32 619.10L123.74 619.24L124.15 619.32L124.56 619.37L124.97 619.36L125.38 619.31L125.79 619.21L126.20 619.07L126.61 618.88L127.02 618.66L127.43 618.40L127.85 618.10L128.26 617.78L128.67 617.44L129.08 617.08L129.49 616.70L129.90 616.31L130.31 615.93L130.72 615.54L131.13 615.17L131.54 614.80L131.96 614.46L132.37 614.14L132.78 613.85L133.19 613.60L133.60 613.38L134.01 613.20L134.42 613.06L134.83 612.96L135.24 612.91L135.65 612.91L136.07 612.95L136.48 613.03L136.89 613.16L137.30 613.33L137.71 613.54L138.12 613.78L138.53 614.06L138.94 614.36L139.35 614.69L139.76 615.03L140.18 615.39L140.59 615.76L141.00 616.14L141.41 616.51L141.82 616.87L142.23 617.23L142.64 617.57L143.05 617.89L143.46 618.18L143.88 618.44L144.29 618.67L144.70 618.86L145.11 619.01L145.52 619.13L145.93 619.19L146.34 619.22L146.75 619.20L147.16 619.14L147.57 619.04L147.99 618.89L148.40 618.71L148.81 618.49L149.22 618.24L149.63 617.95L150.04 617.64L150.45 617.32L150.86 616.97L151.27 616.61L151.68 616.25L152.10 615.89L152.51 615.53L152.92 615.18L153.33 614.84L153.74 614.52L154.15 614.22L154.56 613.96L154.97 613.72L155.38 613.51L155.79 613.35L156.21 613.22L156.62 613.14L157.03 613.09L157.44 613.09L157.85 613.13L158.26 613.22L158.67 613.34L159.08 613.51L159.49 613.71L159.90 613.95L160.32 614.22L160.73 614.52L161.14 614.84L161.55 615.17L161.96 615.52L162.37 615.88L162.78 616.24L163.19 616.60L163.60 616.95L164.01 617.28L164.43 617.60L164.84 617.90L165.25 618.17L165.66 618.42L166.07 618.63L166.48 618.80L166.89 618.94L167.30 619.03L167.71 619.08L168.12 619.10L168.54 619.06L168.95 618.99L169.36 618.88L169.77 618.73L170.18 618.54L170.59 618.32L171.00 618.07L171.41 617.79L171.82 617.49L172.23 617.18L172.65 616.85L173.06 616.51L173.47 616.17L173.88 615.83L174.29 615.49L174.70 615.17L175.11 614.86L175.52 614.58L175.93 614.31L176.34 614.08L176.76 613.88L177.17 613.71L177.58 613.58L177.99 613.48L178.40 613.43L178.81 613.42L179.22 613.45L179.63 613.52L180.04 613.63L180.45 613.79L180.87 613.98L181.28 614.21L181.69 614.46L182.10 614.75L182.51 615.05L182.92 615.38L183.33 615.72L183.74 616.06L184.15 616.41L184.56 616.75L184.98 617.09L185.39 617.41L185.80 617.71L186.21 617.99L186.62 618.25L187.03 618.47L187.44 618.66L187.85 618.81L188.26 618.92L188.67 618.99L189.09 619.01L189.50 619.00L189.91 618.94L190.32 618.84L190.73 618.70L191.14 618.53L191.55 618.32L191.96 618.07L192.37 617.81L192.78 617.51L193.20 617.20L193.61 616.88L194.02 616.55L194.43 616.21L194.84 615.87L195.25 615.54L195.66 615.23L196.07 614.93L196.48 614.65L196.90 614.40L197.31 614.17L197.72 613.98L198.13 613.83L198.54 613.71L198.95 613.64L199.36 613.60L199.77 613.61L200.18 613.65L200.59 613.73L201.01 613.85L201.42 614.00L201.83 614.18L202.24 614.39L202.65 614.63L203.06 614.89L203.47 615.18L203.88 615.47L204.29 615.78L204.70 616.10L205.12 616.42L205.53 616.74L205.94 617.06L206.35 617.36L206.76 617.66L207.17 617.93L207.58 618.18L207.99 618.41L208.40 618.61L208.81 618.77L209.23 618.90L209.64 619.00L210.05 619.06L210.46 619.08L210.87 619.06L211.28 619.00L211.69 618.90L212.10 618.77L212.51 618.60L212.92 618.39L213.34 618.16L213.75 617.89L214.16 617.61L214.57 617.30L214.98 616.97L215.39 616.63L215.80 616.29L216.21 615.94L216.62 615.59L217.03 615.25L217.45 614.92L217.86 614.61L218.27 614.31L218.68 614.04L219.09 613.81L219.50 613.60L219.91 613.43L220.32 613.29L220.73 613.20L221.14 613.14L221.56 613.13L221.97 613.16L222.38 613.23L222.79 613.33L223.20 613.48L223.61 613.65L224.02 613.87L224.43 614.11L224.84 614.38L225.25 614.68L225.67 614.99L226.08 615.33L226.49 615.68L226.90 616.04L227.31 616.40L227.72 616.77L228.13 617.13L228.54 617.48L228.95 617.81L229.36 618.13L229.78 618.43L230.19 618.70L230.60 618.94L231.01 619.14L231.42 619.31L231.83 619.45L232.24 619.54L232.65 619.59L233.06 619.59L233.47 619.55L233.89 619.47L234.30 619.35L234.71 619.18L235.12 618.97L235.53 618.73L235.94 618.45L236.35 618.14L236.76 617.80L237.17 617.44L237.58 617.05L238.00 616.66L238.41 616.25L238.82 615.84L239.23 615.43L239.64 615.02L240.05 614.62L240.46 614.24L240.87 613.89L241.28 613.55L241.69 613.25L242.11 612.98L242.52 612.75L242.93 612.56L243.34 612.41L243.75 612.31L244.16 612.25L244.57 612.24L244.98 612.29L245.39 612.38L245.81 612.53L246.22 612.73L246.63 612.97L247.04 613.26L247.45 613.58L247.86 613.94L248.27 614.34L248.68 614.76L249.09 615.20L249.50 615.66L249.92 616.13L250.33 616.60L250.74 617.07L251.15 617.52L251.56 617.97L251.97 618.39L252.38 618.78L252.79 619.14L253.20 619.46L253.61 619.74L254.03 619.97L254.44 620.15L254.85 620.28L255.26 620.36L255.67 620.37L256.08 620.33L256.49 620.23L256.90 620.08L257.31 619.87L257.72 619.61L258.14 619.30L258.55 618.94L258.96 618.54L259.37 618.11L259.78 617.64L260.19 617.15L260.60 616.65L261.01 616.13L261.42 615.60L261.83 615.08L262.25 614.57L262.66 614.07L263.07 613.60L263.48 613.16L263.89 612.75L264.30 612.39L264.71 612.07L265.12 611.80L265.53 611.59L265.94 611.44L266.36 611.36L266.77 611.33L267.18 611.37L267.59 611.46L268.00 611.62L268.41 611.83L268.82 612.10L269.23 612.42L269.64 612.79L270.05 613.20L270.47 613.66L270.88 614.15L271.29 614.68L271.70 615.22L272.11 615.78L272.52 616.36L272.93 616.93L273.34 617.50L273.75 618.06L274.16 618.61L274.58 619.13L274.99 619.61L275.40 620.06L275.81 620.47L276.22 620.82L276.63 621.12L277.04 621.37L277.45 621.55L277.86 621.67L278.27 621.72L278.69 621.70L279.10 621.62L279.51 621.48L279.92 621.26L280.33 620.99L280.74 620.65L281.15 620.25L281.56 619.81L281.97 619.31L282.38 618.77L282.80 618.20L283.21 617.59L283.62 616.97L284.03 616.33L284.44 615.68L284.85 615.03L285.26 614.40L285.67 613.78L286.08 613.18L286.49 612.62L286.91 612.10L287.32 611.63L287.73 611.22L288.14 610.86L288.55 610.57L288.96 610.35L289.37 610.21L289.78 610.14L290.19 610.16L290.60 610.26L291.02 610.44L291.43 610.71L291.84 611.06L292.25 611.49L292.66 612.00L293.07 612.57L293.48 613.20L293.89 613.89L294.30 614.62L294.71 615.39L295.13 616.19L295.54 617.00L295.95 617.82L296.36 618.63L296.77 619.42L297.18 620.19L297.59 620.93L298.00 621.61L298.41 622.24L298.83 622.81L299.24 623.30L299.65 623.70L300.06 624.02L300.47 624.25L300.88 624.39L301.29 624.42L301.70 624.36L302.11 624.20L302.52 623.94L302.94 623.58L303.35 623.13L303.76 622.60L304.17 621.98L304.58 621.29L304.99 620.54L305.40 619.74L305.81 618.88L306.22 618.00L306.63 617.09L307.05 616.17L307.46 615.25L307.87 614.35L308.28 613.47L308.69 612.63L309.10 611.84L309.51 611.11L309.92 610.45L310.33 609.87L310.74 609.38L311.16 608.99L311.57 608.70L311.98 608.51L312.39 608.44L312.80 608.48L313.21 608.63L313.62 608.90L314.03 609.28L314.44 609.77L314.85 610.36L315.27 611.04L315.68 611.81L316.09 612.66L316.50 613.57L316.91 614.54L317.32 615.55L317.73 616.59L318.14 617.65L318.55 618.71L318.96 619.75L319.38 620.77L319.79 621.75L320.20 622.67L320.61 623.52L321.02 624.30L321.43 624.99L321.84 625.57L322.25 626.05L322.66 626.41L323.07 626.64L323.49 626.75L323.90 626.73L324.31 626.58L324.72 626.30L325.13 625.89L325.54 625.36L325.95 624.71L326.36 623.96L326.77 623.10L327.18 622.15L327.60 621.13L328.01 620.04L328.42 618.91L328.83 617.73L329.24 616.54L329.65 615.34L330.06 614.16L330.47 613.00L330.88 611.89L331.29 610.83L331.71 609.85L332.12 608.96L332.53 608.16L332.94 607.48L333.35 606.92L333.76 606.49L334.17 606.19L334.58 606.03L334.99 606.02L335.40 606.16L335.82 606.43L336.23 606.85L336.64 607.40L337.05 608.08L337.46 608.88L337.87 609.80L338.28 610.81L338.69 611.91L339.10 613.09L339.51 614.32L339.93 615.59L340.34 616.88L340.75 618.19L341.16 619.48L341.57 620.75L341.98 621.97L342.39 623.14L342.80 624.22L343.21 625.22L343.62 626.11L344.04 626.89L344.45 627.54L344.86 628.05L345.27 628.41L345.68 628.63L346.09 628.68L346.50 628.59L346.91 628.33L347.32 627.92L347.73 627.37L348.15 626.66L348.56 625.83L348.97 624.86L349.38 623.78L349.79 622.61L350.20 621.34L350.61 620.01L351.02 618.63L351.43 617.21L351.85 615.78L352.26 614.35L352.67 612.94L353.08 611.57L353.49 610.26L353.90 609.03L354.31 607.89L354.72 606.86L355.13 605.95L355.54 605.18L355.96 604.56L356.37 604.09L356.78 603.79L357.19 603.66L357.60 603.71L358.01 603.96L358.42 604.40L358.83 605.03L359.24 605.85L359.65 606.83L360.07 607.97L360.48 609.25L360.89 610.65L361.30 612.15L361.71 613.72L362.12 615.35L362.53 617.00L362.94 618.65L363.35 620.28L363.76 621.86L364.18 623.37L364.59 624.77L365.00 626.06L365.41 627.21L365.82 628.20L366.23 629.01L366.64 629.64L367.05 630.07L367.46 630.29L367.87 630.30L368.29 630.10L368.70 629.69L369.11 629.08L369.52 628.27L369.93 627.28L370.34 626.12L370.75 624.81L371.16 623.37L371.57 621.82L371.98 620.18L372.40 618.49L372.81 616.76L373.22 615.02L373.63 613.30L374.04 611.62L374.45 610.02L374.86 608.52L375.27 607.13L375.68 605.89L376.09 604.81L376.51 603.90L376.92 603.19L377.33 602.68L377.74 602.38L378.15 602.30L378.56 602.43L378.97 602.76L379.38 603.29L379.79 604.02L380.20 604.92L380.62 605.99L381.03 607.22L381.44 608.58L381.85 610.05L382.26 611.61L382.67 613.24L383.08 614.92L383.49 616.62L383.90 618.32L384.31 619.98L384.73 621.59L385.14 623.13L385.55 624.56L385.96 625.88L386.37 627.06L386.78 628.08L387.19 628.93L387.60 629.59L388.01 630.07L388.42 630.34L388.84 630.41L389.25 630.28L389.66 629.95L390.07 629.42L390.48 628.70L390.89 627.80L391.30 626.74L391.71 625.54L392.12 624.20L392.53 622.75L392.95 621.21L393.36 619.61L393.77 617.96L394.18 616.30L394.59 614.64L395.00 613.00L395.41 611.43L395.82 609.92L396.23 608.52L396.64 607.23L397.06 606.08L397.47 605.08L397.88 604.25L398.29 603.59L398.70 603.13L399.11 602.86L399.52 602.78L399.93 602.90L400.34 603.21L400.75 603.70L401.17 604.36L401.58 605.20L401.99 606.18L402.40 607.31L402.81 608.56L403.22 609.91L403.63 611.35L404.04 612.86L404.45 614.41L404.87 615.99L405.28 617.56L405.69 619.11L406.10 620.62L406.51 622.07L406.92 623.43L407.33 624.69L407.74 625.83L408.15 626.83L408.56 627.68L408.98 628.38L409.39 628.90L409.80 629.25L410.21 629.42L410.62 629.41L411.03 629.21L411.44 628.85L411.85 628.31L412.26 627.61L412.67 626.76L413.09 625.77L413.50 624.66L413.91 623.44L414.32 622.13L414.73 620.75L415.14 619.31L415.55 617.85L415.96 616.38L416.37 614.92L416.78 613.49L417.20 612.11L417.61 610.80L418.02 609.58L418.43 608.46L418.84 607.46L419.25 606.59L419.66 605.87L420.07 605.30L420.48 604.89L420.89 604.65L421.31 604.57L421.72 604.67L422.13 604.94L422.54 605.39L422.95 606.01L423.36 606.78L423.77 607.70L424.18 608.75L424.59 609.91L425.00 611.16L425.42 612.49L425.83 613.87L426.24 615.29L426.65 616.71L427.06 618.12L427.47 619.50L427.88 620.83L428.29 622.08L428.70 623.24L429.11 624.29L429.53 625.22L429.94 626.01L430.35 626.65L430.76 627.14L431.17 627.46L431.58 627.61L431.99 627.59L432.40 627.41L432.81 627.06L433.22 626.56L433.64 625.91L434.05 625.12L434.46 624.22L434.87 623.20L435.28 622.09L435.69 620.91L436.10 619.68L436.51 618.41L436.92 617.13L437.33 615.85L437.75 614.60L438.16 613.39L438.57 612.24L438.98 611.17L439.39 610.20L439.80 609.33L440.21 608.59L440.62 607.97L441.03 607.50L441.44 607.17L441.86 606.98L442.27 606.95L442.68 607.07L443.09 607.36L443.50 607.81L443.91 608.41L444.32 609.14L444.73 609.99L445.14 610.96L445.55 612.00L445.97 613.12L446.38 614.28L446.79 615.48L447.20 616.67L447.61 617.85L448.02 619.00L448.43 620.08L448.84 621.10L449.25 622.02L449.66 622.84L450.08 623.53L450.49 624.10L450.90 624.53L451.31 624.82L451.72 624.95L452.13 624.94L452.54 624.79L452.95 624.49L453.36 624.06L453.77 623.50L454.19 622.83L454.60 622.05L455.01 621.19L455.42 620.26L455.83 619.28L456.24 618.25L456.65 617.21L457.06 616.18L457.47 615.15L457.89 614.17L458.30 613.23L458.71 612.37L459.12 611.58L459.53 610.89L459.94 610.30L460.35 609.83L460.76 609.48L461.17 609.26L461.58 609.16L462.00 609.19L462.41 609.34L462.82 609.61L463.23 609.98L463.64 610.46L464.05 611.02L464.46 611.67L464.87 612.39L465.28 613.16L465.69 613.98L466.11 614.82L466.52 615.69L466.93 616.55L467.34 617.40L467.75 618.23L468.16 619.02L468.57 619.75L468.98 620.42L469.39 621.02L469.80 621.53L470.22 621.96L470.63 622.29L471.04 622.52L471.45 622.65L471.86 622.68L472.27 622.60L472.68 622.43L473.09 622.16L473.50 621.80L473.91 621.36L474.33 620.84L474.74 620.26L475.15 619.63L475.56 618.95L475.97 618.24L476.38 617.50L476.79 616.76L477.20 616.03L477.61 615.31L478.02 614.61L478.44 613.95L478.85 613.34L479.26 612.79L479.67 612.30L480.08 611.88L480.49 611.54L480.90 611.28L481.31 611.11L481.72 611.02L482.13 611.01L482.55 611.10L482.96 611.26L483.37 611.50L483.78 611.81L484.19 612.19L484.60 612.63L485.01 613.12L485.42 613.66L485.83 614.23L486.24 614.82L486.66 615.44L487.07 616.05L487.48 616.67L487.89 617.27L488.30 617.84L488.71 618.39L489.12 618.89L489.53 619.35L489.94 619.76L490.35 620.10L490.77 620.38L491.18 620.59L491.59 620.73L492.00 620.80L492.41 620.80L492.82 620.72L493.23 620.58L493.64 620.36L494.05 620.08L494.46 619.75L494.88 619.36L495.29 618.92L495.70 618.44L496.11 617.93L496.52 617.39L496.93 616.84L497.34 616.28L497.75 615.72L498.16 615.17L498.57 614.64L498.99 614.13L499.40 613.66L499.81 613.23L500.22 612.84L500.63 612.51L501.04 612.23L501.45 612.02L501.86 611.87L502.27 611.80L502.68 611.79L503.10 611.85L503.51 611.98L503.92 612.17L504.33 612.44L504.74 612.76L505.15 613.14L505.56 613.57L505.97 614.04L506.38 614.55L506.79 615.09L507.21 615.64L507.62 616.21L508.03 616.78L508.44 617.34L508.85 617.88L509.26 618.40L509.67 618.89L510.08 619.33L510.49 619.73L510.91 620.07L511.32 620.35L511.73 620.56L512.14 620.70L512.55 620.76L512.96 620.76L513.37 620.67L513.78 620.51L514.19 620.28L514.60 619.97L515.02 619.60L515.43 619.17L515.84 618.69L516.25 618.15L516.66 617.58L517.07 616.98L517.48 616.35L517.89 615.72L518.30 615.08L518.71 614.45L519.13 613.84L519.54 613.26L519.95 612.71L520.36 612.21L520.77 611.77L521.18 611.39L521.59 611.09L522.00 610.85L522.41 610.70L522.82 610.63L523.24 610.63L523.65 610.71L524.06 610.86L524.47 611.09L524.88 611.38L525.29 611.73L525.70 612.15L526.11 612.62L526.52 613.14L526.93 613.71L527.35 614.31L527.76 614.93L528.17 615.57L528.58 616.22L528.99 616.87L529.40 617.51L529.81 618.13L530.22 618.73L530.63 619.29L531.04 619.80L531.46 620.27L531.87 620.68L532.28 621.02L532.69 621.30L533.10 621.50L533.51 621.63L533.92 621.68L534.33 621.64L534.74 621.52L535.15 621.32L535.57 621.04L535.98 620.68L536.39 620.25L536.80 619.75L537.21 619.19L537.62 618.58L538.03 617.91L538.44 617.21L538.85 616.48L539.26 615.73L539.68 614.97L540.09 614.21L540.50 613.46L540.91 612.74L541.32 612.05L541.73 611.40L542.14 610.81L542.55 610.28L542.96 609.82L543.37 609.44L543.79 609.15L544.20 608.94L544.61 608.84L545.02 608.83L545.43 608.94L545.84 609.15L546.25 609.48L546.66 609.91L547.07 610.44L547.48 611.07L547.90 611.79L548.31 612.58L548.72 613.44L549.13 614.35L549.54 615.30L549.95 616.29L550.36 617.28L550.77 618.27L551.18 619.24L551.59 620.18L552.01 621.07L552.42 621.90L552.83 622.65L553.24 623.31L553.65 623.87L554.06 624.32L554.47 624.65L554.88 624.86L555.29 624.94L555.70 624.88L556.12 624.70L556.53 624.37L556.94 623.93L557.35 623.36L557.76 622.67L558.17 621.88L558.58 620.99L558.99 620.03L559.40 619.00L559.82 617.91L560.23 616.80L560.64 615.66L561.05 614.53L561.46 613.42L561.87 612.34L562.28 611.31L562.69 610.35L563.10 609.48L563.51 608.71L563.93 608.04L564.34 607.50L564.75 607.09L565.16 606.82L565.57 606.70L565.98 606.71L566.39 606.85L566.80 607.12L567.21 607.51L567.62 608.03L568.04 608.66L568.45 609.39L568.86 610.23L569.27 611.15L569.68 612.15L570.09 613.21L570.50 614.32L570.91 615.47L571.32 616.64L571.73 617.82L572.15 618.98L572.56 620.11L572.97 621.21L573.38 622.25L573.79 623.21L574.20 624.09L574.61 624.88L575.02 625.56L575.43 626.12L575.84 626.55L576.26 626.85L576.67 627.02L577.08 627.04L577.49 626.92L577.90 626.66L578.31 626.27L578.72 625.74L579.13 625.08L579.54 624.30L579.95 623.42L580.37 622.44L580.78 621.37L581.19 620.24L581.60 619.04L582.01 617.81L582.42 616.56L582.83 615.29L583.24 614.04L583.65 612.82L584.06 611.63L584.48 610.51L584.89 609.46L585.30 608.51L585.71 607.65L586.12 606.91L586.53 606.29L586.94 605.81L587.35 605.47L587.76 605.27L588.17 605.21L588.59 605.31L589.00 605.56L589.41 605.96L589.82 606.50L590.23 607.17L590.64 607.97L591.05 608.89L591.46 609.90L591.87 611.00L592.28 612.18L592.70 613.40L593.11 614.67L593.52 615.96L593.93 617.25L594.34 618.53L594.75 619.77L595.16 620.97L595.57 622.10L595.98 623.14L596.39 624.10L596.81 624.94L597.22 625.67L597.63 626.26L598.04 626.72L598.45 627.03L598.86 627.20L599.27 627.22L599.68 627.09L600.09 626.81L600.50 626.39L600.92 625.83L601.33 625.15L601.74 624.35L602.15 623.44L602.56 622.43L602.97 621.34L603.38 620.19L603.79 618.99L604.20 617.75L604.61 616.50L605.03 615.25L605.44 614.02L605.85 612.82L606.26 611.67L606.67 610.58L607.08 609.57L607.49 608.66L607.90 607.85L608.31 607.15L608.72 606.58L609.14 606.14L609.55 605.83L609.96 605.66L610.37 605.62L610.78 605.74L611.19 606.01L611.60 606.42L612.01 606.97L612.42 607.66L612.84 608.45L613.25 609.36L613.66 610.35L614.07 611.42L614.48 612.55L614.89 613.72L615.30 614.92L615.71 616.12L616.12 617.30L616.53 618.46L616.95 619.57L617.36 620.61L617.77 621.57L618.18 622.44L618.59 623.21L619.00 623.86L619.41 624.38L619.82 624.77L620.23 625.02L620.64 625.13L621.06 625.09L621.47 624.92L621.88 624.60L622.29 624.15L622.70 623.58L623.11 622.89L623.52 622.09L623.93 621.20L624.34 620.23L624.75 619.20L625.17 618.12L625.58 617.01L625.99 615.88L626.40 614.75L626.81 613.65L627.22 612.58L627.63 611.56L628.04 610.60L628.45 609.73L628.86 608.95L629.28 608.27L629.69 607.71L630.10 607.27L630.51 606.95L630.92 606.77L631.33 606.71L631.74 606.79L632.15 607.00L632.56 607.34L632.97 607.80L633.39 608.37L633.80 609.05L634.21 609.81L634.62 610.66L635.03 611.58L635.44 612.54L635.85 613.54L636.26 614.56L636.67 615.59L637.08 616.61L637.50 617.60L637.91 618.54L638.32 619.43L638.73 620.26L639.14 621.00L639.55 621.65L639.96 622.20L640.37 622.64L640.78 622.97L641.19 623.18L641.61 623.28L642.02 623.25L642.43 623.11L642.84 622.85L643.25 622.48L643.66 622.02L644.07 621.45L644.48 620.81L644.89 620.09L645.30 619.31L645.72 618.49L646.13 617.63L646.54 616.75L646.95 615.86L647.36 614.98L647.77 614.12L648.18 613.30L648.59 612.52L649.00 611.79L649.41 611.14L649.83 610.56L650.24 610.07L650.65 609.68L651.06 609.37L651.47 609.17L651.88 609.07L652.29 609.08L652.70 609.18L653.11 609.39L653.52 609.69L653.94 610.07L654.35 610.54L654.76 611.08L655.17 611.68L655.58 612.34L655.99 613.03L656.40 613.76L656.81 614.51L657.22 615.27L657.63 616.02L658.05 616.76L658.46 617.47L658.87 618.14L659.28 618.77L659.69 619.35L660.10 619.86L660.51 620.30L660.92 620.66L661.33 620.95L661.74 621.15L662.16 621.27L662.57 621.31L662.98 621.27L663.39 621.14L663.80 620.94" fill="none" stroke="#000000" stroke-width="1.80" stroke-linejoin="round" stroke-linecap="round" clip-path="url(#cpd)"/>
<path d="M88.80 610.80L89.95 611.03L91.10 611.26L92.26 611.51L93.41 611.74L94.56 611.97L95.71 612.17L96.87 612.34L98.02 612.48L99.17 612.57L100.32 612.61L101.48 612.63L102.63 612.65L103.78 612.66L104.93 612.68L106.08 612.70L107.24 612.71L108.39 612.73L109.54 612.74L110.69 612.75L111.85 612.77L113.00 612.78L114.15 612.79L115.30 612.80L116.46 612.81L117.61 612.81L118.76 612.82L119.91 612.83L121.06 612.84L122.22 612.84L123.37 612.85L124.52 612.86L125.67 612.86L126.83 612.87L127.98 612.87L129.13 612.88L130.28 612.88L131.44 612.89L132.59 612.89L133.74 612.90L134.89 612.90L136.04 612.91L137.20 612.91L138.35 612.92L139.50 612.92L140.65 612.93L141.81 612.94L142.96 612.94L144.11 612.95L145.26 612.96L146.42 612.97L147.57 612.98L148.72 612.99L149.87 613.00L151.02 613.01L152.18 613.02L153.33 613.04L154.48 613.05L155.63 613.06L156.79 613.08L157.94 613.09L159.09 613.11L160.24 613.13L161.40 613.14L162.55 613.16L163.70 613.18L164.85 613.20L166.00 613.22L167.16 613.23L168.31 613.25L169.46 613.27L170.61 613.29L171.77 613.31L172.92 613.33L174.07 613.35L175.22 613.36L176.38 613.38L177.53 613.40L178.68 613.42L179.83 613.43L180.98 613.45L182.14 613.46L183.29 613.48L184.44 613.49L185.59 613.51L186.75 613.52L187.90 613.53L189.05 613.54L190.20 613.55L191.36 613.56L192.51 613.57L193.66 613.58L194.81 613.59L195.96 613.59L197.12 613.60L198.27 613.60L199.42 613.60L200.57 613.60L201.73 613.60L202.88 613.59L204.03 613.58L205.18 613.57L206.34 613.55L207.49 613.53L208.64 613.51L209.79 613.49L210.94 613.46L212.10 613.43L213.25 613.40L214.40 613.37L215.55 613.33L216.71 613.30L217.86 613.26L219.01 613.22L220.16 613.18L221.32 613.13L222.47 613.09L223.62 613.05L224.77 613.00L225.92 612.96L227.08 612.91L228.23 612.86L229.38 612.82L230.53 612.77L231.69 612.72L232.84 612.68L233.99 612.63L235.14 612.59L236.29 612.54L237.45 612.50L238.60 612.45L239.75 612.41L240.90 612.37L242.06 612.32L243.21 612.28L244.36 612.24L245.51 612.20L246.67 612.15L247.82 612.11L248.97 612.06L250.12 612.02L251.27 611.98L252.43 611.93L253.58 611.88L254.73 611.84L255.88 611.79L257.04 611.74L258.19 611.70L259.34 611.65L260.49 611.60L261.65 611.55L262.80 611.50L263.95 611.45L265.10 611.40L266.25 611.35L267.41 611.30L268.56 611.24L269.71 611.19L270.86 611.14L272.02 611.08L273.17 611.03L274.32 610.97L275.47 610.91L276.63 610.86L277.78 610.80L278.93 610.74L280.08 610.68L281.23 610.62L282.39 610.56L283.54 610.49L284.69 610.43L285.84 610.37L287.00 610.30L288.15 610.24L289.30 610.17L290.45 610.10L291.61 610.03L292.76 609.96L293.91 609.89L295.06 609.82L296.21 609.75L297.37 609.67L298.52 609.60L299.67 609.52L300.82 609.44L301.98 609.36L303.13 609.27L304.28 609.18L305.43 609.09L306.59 608.99L307.74 608.88L308.89 608.78L310.04 608.67L311.19 608.55L312.35 608.44L313.50 608.32L314.65 608.20L315.80 608.08L316.96 607.96L318.11 607.83L319.26 607.70L320.41 607.58L321.57 607.45L322.72 607.32L323.87 607.19L325.02 607.06L326.17 606.94L327.33 606.81L328.48 606.68L329.63 606.55L330.78 606.43L331.94 606.31L333.09 606.18L334.24 606.06L335.39 605.95L336.55 605.83L337.70 605.72L338.85 605.61L340.00 605.50L341.15 605.39L342.31 605.28L343.46 605.16L344.61 605.04L345.76 604.92L346.92 604.80L348.07 604.67L349.22 604.54L350.37 604.41L351.53 604.28L352.68 604.15L353.83 604.03L354.98 603.90L356.13 603.77L357.29 603.65L358.44 603.52L359.59 603.41L360.74 603.29L361.90 603.18L363.05 603.07L364.20 602.97L365.35 602.87L366.51 602.78L367.66 602.69L368.81 602.62L369.96 602.55L371.11 602.48L372.27 602.43L373.42 602.38L374.57 602.35L375.72 602.32L376.88 602.31L378.03 602.30L379.18 602.30L380.33 602.31L381.49 602.32L382.64 602.33L383.79 602.35L384.94 602.37L386.09 602.39L387.25 602.41L388.40 602.44L389.55 602.47L390.70 602.50L391.86 602.53L393.01 602.57L394.16 602.60L395.31 602.64L396.47 602.68L397.62 602.72L398.77 602.76L399.92 602.80L401.07 602.84L402.23 602.89L403.38 602.95L404.53 603.02L405.68 603.10L406.84 603.18L407.99 603.27L409.14 603.36L410.29 603.46L411.45 603.56L412.60 603.67L413.75 603.78L414.90 603.89L416.05 604.01L417.21 604.13L418.36 604.25L419.51 604.37L420.66 604.50L421.82 604.62L422.97 604.75L424.12 604.88L425.27 605.00L426.43 605.13L427.58 605.25L428.73 605.37L429.88 605.49L431.03 605.61L432.19 605.73L433.34 605.86L434.49 605.99L435.64 606.13L436.80 606.27L437.95 606.41L439.10 606.55L440.25 606.69L441.41 606.84L442.56 606.99L443.71 607.13L444.86 607.28L446.01 607.43L447.17 607.57L448.32 607.72L449.47 607.86L450.62 608.00L451.78 608.14L452.93 608.27L454.08 608.40L455.23 608.53L456.39 608.65L457.54 608.77L458.69 608.88L459.84 608.99L460.99 609.09L462.15 609.19L463.30 609.30L464.45 609.41L465.60 609.52L466.76 609.63L467.91 609.74L469.06 609.85L470.21 609.96L471.37 610.07L472.52 610.17L473.67 610.28L474.82 610.39L475.97 610.49L477.13 610.60L478.28 610.70L479.43 610.80L480.58 610.89L481.74 610.98L482.89 611.07L484.04 611.16L485.19 611.24L486.35 611.32L487.50 611.39L488.65 611.46L489.80 611.52L490.95 611.58L492.11 611.63L493.26 611.67L494.41 611.71L495.56 611.74L496.72 611.77L497.87 611.79L499.02 611.80L500.17 611.80L501.33 611.79L502.48 611.78L503.63 611.76L504.78 611.73L505.93 611.70L507.09 611.66L508.24 611.61L509.39 611.56L510.54 611.50L511.70 611.44L512.85 611.37L514.00 611.29L515.15 611.22L516.31 611.14L517.46 611.05L518.61 610.97L519.76 610.88L520.91 610.78L522.07 610.69L523.22 610.59L524.37 610.50L525.52 610.40L526.68 610.30L527.83 610.20L528.98 610.10L530.13 610.00L531.28 609.90L532.44 609.80L533.59 609.70L534.74 609.61L535.89 609.51L537.05 609.42L538.20 609.33L539.35 609.25L540.50 609.16L541.66 609.08L542.81 608.98L543.96 608.89L545.11 608.79L546.26 608.68L547.42 608.58L548.57 608.47L549.72 608.35L550.87 608.24L552.03 608.12L553.18 608.00L554.33 607.88L555.48 607.76L556.64 607.64L557.79 607.51L558.94 607.39L560.09 607.27L561.24 607.15L562.40 607.02L563.55 606.90L564.70 606.78L565.85 606.67L567.01 606.55L568.16 606.44L569.31 606.33L570.46 606.22L571.62 606.12L572.77 606.02L573.92 605.92L575.07 605.83L576.22 605.75L577.38 605.67L578.53 605.59L579.68 605.52L580.83 605.46L581.99 605.40L583.14 605.35L584.29 605.30L585.44 605.27L586.60 605.24L587.75 605.22L588.90 605.20L590.05 605.20L591.20 605.20L592.36 605.21L593.51 605.22L594.66 605.23L595.81 605.24L596.97 605.26L598.12 605.28L599.27 605.30L600.42 605.32L601.58 605.35L602.73 605.38L603.88 605.41L605.03 605.45L606.18 605.48L607.34 605.52L608.49 605.56L609.64 605.60L610.79 605.64L611.95 605.68L613.10 605.72L614.25 605.77L615.40 605.81L616.56 605.86L617.71 605.91L618.86 605.95L620.01 606.00L621.16 606.05L622.32 606.11L623.47 606.17L624.62 606.23L625.77 606.30L626.93 606.38L628.08 606.46L629.23 606.54L630.38 606.63L631.54 606.73L632.69 606.82L633.84 606.93L634.99 607.03L636.14 607.15L637.30 607.26L638.45 607.38L639.60 607.50L640.75 607.63L641.91 607.76L643.06 607.89L644.21 608.03L645.36 608.17L646.52 608.31L647.67 608.46L648.82 608.61L649.97 608.76L651.12 608.92L652.28 609.08L653.43 609.24L654.58 609.40L655.73 609.57L656.89 609.74L658.04 609.91L659.19 610.08L660.34 610.26L661.50 610.44L662.65 610.62L663.80 610.80" fill="none" stroke="#0000ff" stroke-width="2.20" stroke-linejoin="round" stroke-linecap="round" clip-path="url(#cpd)"/>
<path d="M88.80 621.60L89.95 621.38L91.10 621.14L92.26 620.90L93.41 620.67L94.56 620.45L95.71 620.24L96.87 620.07L98.02 619.93L99.17 619.84L100.32 619.79L101.48 619.76L102.63 619.73L103.78 619.70L104.93 619.68L106.08 619.65L107.24 619.63L108.39 619.60L109.54 619.58L110.69 619.56L111.85 619.54L113.00 619.52L114.15 619.50L115.30 619.48L116.46 619.47L117.61 619.45L118.76 619.44L119.91 619.42L121.06 619.41L122.22 619.40L123.37 619.38L124.52 619.37L125.67 619.36L126.83 619.35L127.98 619.34L129.13 619.33L130.28 619.32L131.44 619.31L132.59 619.30L133.74 619.30L134.89 619.29L136.04 619.28L137.20 619.27L138.35 619.27L139.50 619.26L140.65 619.25L141.81 619.25L142.96 619.24L144.11 619.23L145.26 619.23L146.42 619.22L147.57 619.21L148.72 619.21L149.87 619.20L151.02 619.19L152.18 619.19L153.33 619.18L154.48 619.17L155.63 619.17L156.79 619.16L157.94 619.15L159.09 619.15L160.24 619.14L161.40 619.13L162.55 619.13L163.70 619.12L164.85 619.11L166.00 619.11L167.16 619.10L168.31 619.10L169.46 619.09L170.61 619.08L171.77 619.08L172.92 619.07L174.07 619.07L175.22 619.06L176.38 619.06L177.53 619.05L178.68 619.05L179.83 619.04L180.98 619.04L182.14 619.03L183.29 619.03L184.44 619.03L185.59 619.02L186.75 619.02L187.90 619.02L189.05 619.01L190.20 619.01L191.36 619.01L192.51 619.01L193.66 619.00L194.81 619.00L195.96 619.00L197.12 619.00L198.27 619.00L199.42 619.00L200.57 619.00L201.73 619.00L202.88 619.01L204.03 619.01L205.18 619.02L206.34 619.03L207.49 619.04L208.64 619.05L209.79 619.07L210.94 619.08L212.10 619.10L213.25 619.12L214.40 619.14L215.55 619.16L216.71 619.19L217.86 619.21L219.01 619.23L220.16 619.26L221.32 619.29L222.47 619.32L223.62 619.34L224.77 619.37L225.92 619.40L227.08 619.43L228.23 619.46L229.38 619.50L230.53 619.53L231.69 619.56L232.84 619.59L233.99 619.63L235.14 619.66L236.29 619.69L237.45 619.73L238.60 619.76L239.75 619.79L240.90 619.83L242.06 619.86L243.21 619.90L244.36 619.94L245.51 619.97L246.67 620.01L247.82 620.06L248.97 620.10L250.12 620.14L251.27 620.19L252.43 620.24L253.58 620.29L254.73 620.34L255.88 620.39L257.04 620.44L258.19 620.50L259.34 620.56L260.49 620.62L261.65 620.68L262.80 620.74L263.95 620.80L265.10 620.86L266.25 620.93L267.41 621.00L268.56 621.07L269.71 621.14L270.86 621.21L272.02 621.29L273.17 621.36L274.32 621.44L275.47 621.52L276.63 621.60L277.78 621.68L278.93 621.77L280.08 621.87L281.23 621.98L282.39 622.10L283.54 622.23L284.69 622.36L285.84 622.50L287.00 622.64L288.15 622.79L289.30 622.94L290.45 623.10L291.61 623.25L292.76 623.41L293.91 623.56L295.06 623.71L296.21 623.86L297.37 624.00L298.52 624.13L299.67 624.26L300.82 624.39L301.98 624.51L303.13 624.64L304.28 624.76L305.43 624.89L306.59 625.01L307.74 625.13L308.89 625.25L310.04 625.38L311.19 625.50L312.35 625.62L313.50 625.74L314.65 625.86L315.80 625.98L316.96 626.10L318.11 626.22L319.26 626.33L320.41 626.45L321.57 626.56L322.72 626.68L323.87 626.79L325.02 626.90L326.17 627.01L327.33 627.12L328.48 627.22L329.63 627.33L330.78 627.43L331.94 627.54L333.09 627.64L334.24 627.73L335.39 627.83L336.55 627.93L337.70 628.02L338.85 628.11L340.00 628.20L341.15 628.29L342.31 628.38L343.46 628.47L344.61 628.57L345.76 628.67L346.92 628.76L348.07 628.86L349.22 628.96L350.37 629.06L351.53 629.16L352.68 629.25L353.83 629.35L354.98 629.45L356.13 629.54L357.29 629.63L358.44 629.72L359.59 629.81L360.74 629.89L361.90 629.97L363.05 630.05L364.20 630.12L365.35 630.19L366.51 630.26L367.66 630.32L368.81 630.38L369.96 630.43L371.11 630.47L372.27 630.51L373.42 630.54L374.57 630.57L375.72 630.59L376.88 630.60L378.03 630.60L379.18 630.60L380.33 630.59L381.49 630.58L382.64 630.56L383.79 630.54L384.94 630.52L386.09 630.49L387.25 630.46L388.40 630.43L389.55 630.39L390.70 630.35L391.86 630.31L393.01 630.27L394.16 630.23L395.31 630.18L396.47 630.14L397.62 630.09L398.77 630.05L399.92 630.00L401.07 629.96L402.23 629.91L403.38 629.85L404.53 629.79L405.68 629.73L406.84 629.66L407.99 629.59L409.14 629.52L410.29 629.44L411.45 629.36L412.60 629.28L413.75 629.20L414.90 629.11L416.05 629.02L417.21 628.93L418.36 628.83L419.51 628.74L420.66 628.64L421.82 628.54L422.97 628.44L424.12 628.34L425.27 628.23L426.43 628.13L427.58 628.02L428.73 627.92L429.88 627.81L431.03 627.70L432.19 627.58L433.34 627.46L434.49 627.33L435.64 627.19L436.80 627.05L437.95 626.90L439.10 626.75L440.25 626.60L441.41 626.44L442.56 626.28L443.71 626.12L444.86 625.96L446.01 625.79L447.17 625.63L448.32 625.47L449.47 625.31L450.62 625.15L451.78 624.99L452.93 624.84L454.08 624.69L455.23 624.54L456.39 624.40L457.54 624.27L458.69 624.14L459.84 624.02L460.99 623.90L462.15 623.77L463.30 623.65L464.45 623.52L465.60 623.39L466.76 623.26L467.91 623.13L469.06 623.00L470.21 622.87L471.37 622.73L472.52 622.60L473.67 622.47L474.82 622.34L475.97 622.21L477.13 622.09L478.28 621.97L479.43 621.84L480.58 621.73L481.74 621.61L482.89 621.50L484.04 621.40L485.19 621.30L486.35 621.20L487.50 621.11L488.65 621.03L489.80 620.95L490.95 620.88L492.11 620.82L493.26 620.76L494.41 620.71L495.56 620.67L496.72 620.64L497.87 620.62L499.02 620.60L500.17 620.60L501.33 620.60L502.48 620.61L503.63 620.62L504.78 620.63L505.93 620.64L507.09 620.66L508.24 620.67L509.39 620.70L510.54 620.72L511.70 620.75L512.85 620.77L514.00 620.80L515.15 620.84L516.31 620.87L517.46 620.91L518.61 620.95L519.76 620.99L520.91 621.03L522.07 621.07L523.22 621.11L524.37 621.16L525.52 621.21L526.68 621.26L527.83 621.30L528.98 621.35L530.13 621.41L531.28 621.47L532.44 621.55L533.59 621.65L534.74 621.77L535.89 621.90L537.05 622.04L538.20 622.19L539.35 622.36L540.50 622.53L541.66 622.71L542.81 622.90L543.96 623.09L545.11 623.29L546.26 623.49L547.42 623.69L548.57 623.88L549.72 624.08L550.87 624.27L552.03 624.46L553.18 624.64L554.33 624.81L555.48 624.97L556.64 625.13L557.79 625.27L558.94 625.40L560.09 625.51L561.24 625.62L562.40 625.73L563.55 625.84L564.70 625.95L565.85 626.06L567.01 626.17L568.16 626.28L569.31 626.39L570.46 626.50L571.62 626.60L572.77 626.71L573.92 626.81L575.07 626.90L576.22 627.00L577.38 627.08L578.53 627.16L579.68 627.24L580.83 627.31L581.99 627.38L583.14 627.43L584.29 627.48L585.44 627.52L586.60 627.56L587.75 627.58L588.90 627.60L590.05 627.60L591.20 627.59L592.36 627.57L593.51 627.54L594.66 627.50L595.81 627.44L596.97 627.38L598.12 627.30L599.27 627.22L600.42 627.13L601.58 627.04L602.73 626.93L603.88 626.83L605.03 626.72L606.18 626.60L607.34 626.48L608.49 626.36L609.64 626.24L610.79 626.11L611.95 625.99L613.10 625.87L614.25 625.75L615.40 625.63L616.56 625.52L617.71 625.41L618.86 625.30L620.01 625.20L621.16 625.10L622.32 625.00L623.47 624.90L624.62 624.80L625.77 624.70L626.93 624.61L628.08 624.50L629.23 624.40L630.38 624.30L631.54 624.20L632.69 624.10L633.84 624.00L634.99 623.89L636.14 623.79L637.30 623.69L638.45 623.58L639.60 623.48L640.75 623.38L641.91 623.27L643.06 623.17L644.21 623.06L645.36 622.95L646.52 622.85L647.67 622.74L648.82 622.63L649.97 622.53L651.12 622.42L652.28 622.31L653.43 622.20L654.58 622.09L655.73 621.98L656.89 621.87L658.04 621.76L659.19 621.65L660.34 621.54L661.50 621.43L662.65 621.31L663.80 621.20" fill="none" stroke="#0000ff" stroke-width="2.20" stroke-linejoin="round" stroke-linecap="round" clip-path="url(#cpd)"/>
<path d="M88.80 756.10L90.80 752.60L93.20 754.90L95.50 752.60L100.20 739.30L103.70 743.20L108.40 758.40L113.00 759.60L117.70 778.30L122.40 772.40L125.90 768.90L129.40 759.60L131.70 764.30L135.20 772.40L137.60 752.60L140.60 749.10L143.40 765.40L146.90 781.80L151.60 767.80L155.10 756.10L160.90 741.60L164.40 746.70L166.80 767.80L169.10 758.40L172.60 745.60L175.00 756.10L178.50 752.60L183.10 752.60L186.60 743.90L190.10 760.70L194.80 777.10L198.30 779.40L204.20 767.80L207.70 737.40L212.30 714.50L215.80 721.00L219.30 746.70L222.90 784.10L225.20 798.10L228.70 788.80L232.20 767.80L236.90 745.60L240.00 752.60L242.30 758.40L244.70 779.40L247.50 794.60L250.50 787.60L254.00 756.10L258.70 732.70L262.20 705.80L265.20 717.50L268.00 758.40L271.50 791.10L273.90 804.00L276.20 801.60L278.60 777.10L280.20 775.90L282.50 777.10L285.60 767.80L287.90 744.40L290.90 741.60L293.70 756.10L296.80 770.60L299.60 756.10L302.60 749.50L305.00 748.60L307.80 733.90L310.80 728.00L313.10 740.90L315.90 770.10L318.30 798.10L320.60 821.50L322.90 821.50L326.40 791.10L331.10 754.90L336.50 744.90L339.30 756.10L340.50 766.60L344.00 770.10L347.90 771.30L351.70 760.70L354.50 745.60L358.00 760.70L361.50 784.10L365.00 795.80L368.50 809.80L372.00 786.40L376.70 751.40L380.20 741.60L383.70 745.60L386.00 767.80L389.50 800.50L393.00 784.10L395.00 769.10L397.80 762.10L404.30 773.70L409.50 776.10L412.50 799.40L415.60 814.60L418.40 802.90L420.70 802.90L423.50 793.60L426.50 789.60L429.30 760.90L432.40 761.60L435.20 761.60L438.20 759.70L442.90 773.70L446.90 762.10L449.90 767.90L452.90 786.60L455.70 783.10L458.60 795.90L461.60 784.30L465.10 791.30L469.80 800.60L475.60 774.90L478.60 774.90L481.40 763.20L484.30 773.70L487.30 766.70L490.30 769.10L493.10 783.10L496.60 798.30L500.10 790.10L504.80 781.20L508.30 787.80L510.70 801.80L514.20 810.00L516.50 790.10L518.80 771.40L522.30 755.00L525.80 756.20L528.60 754.60L532.90 779.60L536.40 781.90L539.90 772.60L542.70 769.10L545.70 769.10L549.70 795.90L553.50 818.70L556.80 835.70L560.20 811.10L563.00 799.70L565.90 820.60L568.70 838.60L571.60 844.30L574.40 844.30L577.30 850.90L580.10 843.30L583.00 816.80L585.80 797.80L589.00 808.20L591.50 826.30L594.70 848.10L597.80 841.40L600.00 822.50L602.90 807.30L605.70 807.30L609.10 797.80L611.40 813.90L615.20 818.70L618.10 823.40L620.90 823.40L623.70 795.90L626.60 771.20L629.40 759.80L632.30 750.40L635.10 765.50L638.00 805.40L640.80 832.00L643.70 829.10L647.50 811.10L649.40 787.40L652.20 787.40L655.10 766.50L657.90 778.80L660.80 791.20L663.60 793.10L665.50 793.10" fill="none" stroke="#000000" stroke-width="2.10" stroke-linejoin="round" stroke-linecap="round" clip-path="url(#cpe)"/>
<path d="M88.80 769.60L89.63 768.80L90.45 768.00L91.28 767.21L92.11 766.44L92.93 765.68L93.76 764.94L94.58 764.21L95.41 763.50L96.24 762.82L97.06 762.15L97.89 761.51L98.72 760.90L99.54 760.32L100.37 759.76L101.19 759.24L102.02 758.75L102.85 758.30L103.67 757.88L104.50 757.50L105.33 757.17L106.15 756.87L106.98 756.62L107.81 756.42L108.63 756.27L109.46 756.16L110.28 756.11L111.11 756.10L111.94 756.14L112.76 756.21L113.59 756.31L114.42 756.43L115.24 756.59L116.07 756.77L116.89 756.97L117.72 757.20L118.55 757.45L119.37 757.72L120.20 758.00L121.03 758.30L121.85 758.61L122.68 758.93L123.51 759.26L124.33 759.60L125.16 759.95L125.98 760.30L126.81 760.65L127.64 761.00L128.46 761.35L129.29 761.70L130.12 762.04L130.94 762.38L131.77 762.71L132.60 763.02L133.42 763.33L134.25 763.62L135.07 763.90L135.90 764.16L136.73 764.40L137.55 764.61L138.38 764.81L139.21 764.98L140.03 765.12L140.86 765.24L141.68 765.33L142.51 765.38L143.34 765.40L144.16 765.39L144.99 765.34L145.82 765.26L146.64 765.14L147.47 765.00L148.30 764.83L149.12 764.64L149.95 764.42L150.77 764.18L151.60 763.91L152.43 763.62L153.25 763.32L154.08 762.99L154.91 762.66L155.73 762.30L156.56 761.93L157.38 761.55L158.21 761.16L159.04 760.77L159.86 760.36L160.69 759.95L161.52 759.53L162.34 759.11L163.17 758.69L164.00 758.27L164.82 757.85L165.65 757.43L166.47 757.02L167.30 756.61L168.13 756.21L168.95 755.82L169.78 755.44L170.61 755.07L171.43 754.71L172.26 754.37L173.08 754.04L173.91 753.73L174.74 753.44L175.56 753.17L176.39 752.93L177.22 752.70L178.04 752.50L178.87 752.33L179.70 752.18L180.52 752.06L181.35 751.98L182.17 751.92L183.00 751.90L183.83 751.91L184.65 751.94L185.48 752.00L186.31 752.08L187.13 752.18L187.96 752.29L188.79 752.43L189.61 752.59L190.44 752.76L191.26 752.95L192.09 753.16L192.92 753.37L193.74 753.61L194.57 753.85L195.40 754.10L196.22 754.37L197.05 754.65L197.87 754.93L198.70 755.22L199.53 755.52L200.35 755.82L201.18 756.13L202.01 756.44L202.83 756.75L203.66 757.06L204.49 757.38L205.31 757.69L206.14 758.01L206.96 758.32L207.79 758.62L208.62 758.93L209.44 759.23L210.27 759.52L211.10 759.80L211.92 760.08L212.75 760.35L213.57 760.60L214.40 760.85L215.23 761.08L216.05 761.30L216.88 761.51L217.71 761.70L218.53 761.88L219.36 762.04L220.19 762.18L221.01 762.30L221.84 762.41L222.66 762.49L223.49 762.55L224.32 762.59L225.14 762.60L225.97 762.60L226.80 762.59L227.62 762.57L228.45 762.55L229.27 762.53L230.10 762.50L230.93 762.46L231.75 762.42L232.58 762.38L233.41 762.33L234.23 762.28L235.06 762.22L235.89 762.16L236.71 762.10L237.54 762.04L238.36 761.97L239.19 761.90L240.02 761.83L240.84 761.76L241.67 761.69L242.50 761.61L243.32 761.54L244.15 761.46L244.98 761.39L245.80 761.31L246.63 761.24L247.45 761.17L248.28 761.10L249.11 761.03L249.93 760.96L250.76 760.89L251.59 760.82L252.41 760.76L253.24 760.70L254.06 760.64L254.89 760.59L255.72 760.54L256.54 760.50L257.37 760.45L258.20 760.42L259.02 760.38L259.85 760.36L260.68 760.33L261.50 760.32L262.33 760.31L263.15 760.30L263.98 760.30L264.81 760.30L265.63 760.31L266.46 760.32L267.29 760.33L268.11 760.35L268.94 760.37L269.76 760.39L270.59 760.41L271.42 760.44L272.24 760.47L273.07 760.50L273.90 760.53L274.72 760.57L275.55 760.60L276.38 760.64L277.20 760.69L278.03 760.73L278.85 760.78L279.68 760.83L280.51 760.88L281.33 760.93L282.16 760.98L282.99 761.04L283.81 761.10L284.64 761.16L285.46 761.22L286.29 761.28L287.12 761.34L287.94 761.41L288.77 761.48L289.60 761.54L290.42 761.61L291.25 761.68L292.08 761.76L292.90 761.83L293.73 761.90L294.55 761.99L295.38 762.09L296.21 762.21L297.03 762.35L297.86 762.50L298.69 762.66L299.51 762.84L300.34 763.03L301.17 763.24L301.99 763.45L302.82 763.67L303.64 763.90L304.47 764.13L305.30 764.37L306.12 764.62L306.95 764.87L307.78 765.12L308.60 765.37L309.43 765.63L310.25 765.88L311.08 766.13L311.91 766.38L312.73 766.62L313.56 766.86L314.39 767.09L315.21 767.32L316.04 767.53L316.87 767.74L317.69 767.95L318.52 768.16L319.34 768.38L320.17 768.61L321.00 768.84L321.82 769.08L322.65 769.33L323.48 769.58L324.30 769.83L325.13 770.09L325.95 770.34L326.78 770.60L327.61 770.85L328.43 771.10L329.26 771.35L330.09 771.60L330.91 771.84L331.74 772.08L332.57 772.31L333.39 772.53L334.22 772.74L335.04 772.95L335.87 773.14L336.70 773.32L337.52 773.49L338.35 773.65L339.18 773.79L340.00 773.92L340.83 774.03L341.65 774.12L342.48 774.19L343.31 774.25L344.13 774.29L344.96 774.30L345.79 774.29L346.61 774.25L347.44 774.18L348.27 774.08L349.09 773.96L349.92 773.82L350.74 773.65L351.57 773.46L352.40 773.26L353.22 773.04L354.05 772.80L354.88 772.55L355.70 772.28L356.53 772.01L357.36 771.72L358.18 771.43L359.01 771.14L359.83 770.84L360.66 770.54L361.49 770.24L362.31 769.93L363.14 769.64L363.97 769.34L364.79 769.06L365.62 768.78L366.44 768.51L367.27 768.25L368.10 768.00L368.92 767.77L369.75 767.55L370.58 767.36L371.40 767.18L372.23 767.02L373.06 766.88L373.88 766.77L374.71 766.69L375.53 766.63L376.36 766.60L377.19 766.61L378.01 766.67L378.84 766.78L379.67 766.95L380.49 767.16L381.32 767.40L382.14 767.69L382.97 768.01L383.80 768.36L384.62 768.74L385.45 769.14L386.28 769.56L387.10 769.99L387.93 770.44L388.76 770.89L389.58 771.35L390.41 771.81L391.23 772.27L392.06 772.72L392.89 773.15L393.71 773.58L394.54 773.98L395.37 774.37L396.19 774.79L397.02 775.24L397.84 775.72L398.67 776.23L399.50 776.76L400.32 777.31L401.15 777.87L401.98 778.44L402.80 779.02L403.63 779.61L404.46 780.19L405.28 780.78L406.11 781.35L406.93 781.91L407.76 782.46L408.59 782.99L409.41 783.50L410.24 783.99L411.07 784.44L411.89 784.86L412.72 785.25L413.55 785.59L414.37 785.89L415.20 786.14L416.02 786.34L416.85 786.49L417.68 786.58L418.50 786.60L419.33 786.57L420.16 786.50L420.98 786.38L421.81 786.22L422.63 786.03L423.46 785.80L424.29 785.54L425.11 785.25L425.94 784.93L426.77 784.58L427.59 784.21L428.42 783.82L429.25 783.41L430.07 782.99L430.90 782.55L431.72 782.10L432.55 781.64L433.38 781.18L434.20 780.71L435.03 780.24L435.86 779.77L436.68 779.31L437.51 778.85L438.33 778.39L439.16 777.95L439.99 777.52L440.81 777.11L441.64 776.71L442.47 776.34L443.29 775.98L444.12 775.65L444.95 775.35L445.77 775.08L446.60 774.84L447.42 774.63L448.25 774.47L449.08 774.34L449.90 774.25L450.73 774.20L451.56 774.21L452.38 774.25L453.21 774.33L454.03 774.45L454.86 774.60L455.69 774.79L456.51 775.01L457.34 775.26L458.17 775.53L458.99 775.84L459.82 776.16L460.65 776.52L461.47 776.89L462.30 777.28L463.12 777.69L463.95 778.12L464.78 778.56L465.60 779.02L466.43 779.48L467.26 779.96L468.08 780.44L468.91 780.93L469.74 781.42L470.56 781.92L471.39 782.41L472.21 782.91L473.04 783.40L473.87 783.89L474.69 784.37L475.52 784.85L476.35 785.31L477.17 785.77L478.00 786.21L478.82 786.63L479.65 787.04L480.48 787.43L481.30 787.81L482.13 788.16L482.96 788.48L483.78 788.79L484.61 789.06L485.44 789.31L486.26 789.52L487.09 789.71L487.91 789.86L488.74 789.98L489.57 790.05L490.39 790.10L491.22 790.09L492.05 790.03L492.87 789.90L493.70 789.71L494.52 789.47L495.35 789.18L496.18 788.84L497.00 788.45L497.83 788.01L498.66 787.54L499.48 787.03L500.31 786.49L501.14 785.92L501.96 785.32L502.79 784.70L503.61 784.05L504.44 783.39L505.27 782.71L506.09 782.02L506.92 781.32L507.75 780.62L508.57 779.92L509.40 779.21L510.22 778.51L511.05 777.82L511.88 777.14L512.70 776.47L513.53 775.82L514.36 775.19L515.18 774.58L516.01 774.00L516.84 773.45L517.66 772.93L518.49 772.44L519.31 772.00L520.14 771.59L520.97 771.23L521.79 770.92L522.62 770.66L523.45 770.46L524.27 770.31L525.10 770.22L525.93 770.20L526.75 770.27L527.58 770.42L528.40 770.67L529.23 770.99L530.06 771.39L530.88 771.86L531.71 772.39L532.54 772.97L533.36 773.60L534.19 774.28L535.01 774.99L535.84 775.73L536.67 776.50L537.49 777.28L538.32 778.08L539.15 778.87L539.97 779.67L540.80 780.54L541.63 781.54L542.45 782.66L543.28 783.88L544.10 785.19L544.93 786.60L545.76 788.07L546.58 789.61L547.41 791.21L548.24 792.85L549.06 794.52L549.89 796.21L550.71 797.92L551.54 799.63L552.37 801.34L553.19 803.02L554.02 804.68L554.85 806.30L555.67 807.87L556.50 809.38L557.33 810.93L558.15 812.56L558.98 814.24L559.80 815.94L560.63 817.63L561.46 819.28L562.28 820.87L563.11 822.36L563.94 823.73L564.76 824.94L565.59 825.97L566.41 826.82L567.24 827.67L568.07 828.50L568.89 829.31L569.72 830.10L570.55 830.85L571.37 831.57L572.20 832.23L573.03 832.84L573.85 833.38L574.68 833.84L575.50 834.22L576.33 834.52L577.16 834.71L577.98 834.80L578.81 834.78L579.64 834.68L580.46 834.52L581.29 834.28L582.12 833.99L582.94 833.64L583.77 833.25L584.59 832.81L585.42 832.33L586.25 831.82L587.07 831.29L587.90 830.73L588.73 830.16L589.55 829.58L590.38 828.99L591.20 828.41L592.03 827.80L592.86 827.09L593.68 826.27L594.51 825.36L595.34 824.37L596.16 823.31L596.99 822.21L597.82 821.07L598.64 819.91L599.47 818.74L600.29 817.58L601.12 816.44L601.95 815.33L602.77 814.27L603.60 813.27L604.43 812.35L605.25 811.51L606.08 810.77L606.90 810.04L607.73 809.33L608.56 808.62L609.38 807.93L610.21 807.25L611.04 806.58L611.86 805.94L612.69 805.31L613.52 804.71L614.34 804.12L615.17 803.57L615.99 803.04L616.82 802.54L617.65 802.08L618.47 801.65L619.30 801.25L620.13 800.90L620.95 800.58L621.78 800.30L622.60 800.04L623.43 799.81L624.26 799.60L625.08 799.40L625.91 799.21L626.74 799.04L627.56 798.88L628.39 798.72L629.22 798.56L630.04 798.40L630.87 798.23L631.69 798.06L632.52 797.88L633.35 797.68L634.17 797.47L635.00 797.24L635.83 796.99L636.65 796.71L637.48 796.42L638.31 796.10L639.13 795.76L639.96 795.41L640.78 795.04L641.61 794.65L642.44 794.24L643.26 793.82L644.09 793.38L644.92 792.92L645.74 792.45L646.57 791.96L647.39 791.47L648.22 790.95L649.05 790.43L649.87 789.89L650.70 789.32L651.53 788.73L652.35 788.11L653.18 787.46L654.01 786.79L654.83 786.10L655.66 785.38L656.48 784.64L657.31 783.87L658.14 783.08L658.96 782.27L659.79 781.44L660.62 780.59L661.44 779.72L662.27 778.83L663.09 777.92L663.92 776.99L664.75 776.04L665.57 775.08L666.40 774.10" fill="none" stroke="#ff1a0f" stroke-width="2.60" stroke-linejoin="round" stroke-linecap="round" clip-path="url(#cpe)"/>
<path d="M88.80 924.20L89.21 924.14L89.62 924.16L90.03 924.25L90.44 924.41L90.86 924.65L91.27 924.97L91.68 925.36L92.09 925.83L92.50 926.36L92.91 926.97L93.32 927.65L93.73 928.39L94.14 929.20L94.55 930.07L94.97 930.99L95.38 931.98L95.79 933.01L96.20 934.09L96.61 935.21L97.02 936.38L97.43 937.58L97.84 938.81L98.25 940.06L98.66 941.34L99.08 942.64L99.49 943.94L99.90 945.25L100.31 946.57L100.72 947.87L101.13 949.17L101.54 950.46L101.95 951.72L102.36 952.96L102.77 954.17L103.19 955.34L103.60 956.48L104.01 957.56L104.42 958.60L104.83 959.59L105.24 960.51L105.65 961.38L106.06 962.17L106.47 962.90L106.88 963.55L107.30 964.13L107.71 964.62L108.12 965.04L108.53 965.37L108.94 965.61L109.35 965.77L109.76 965.83L110.17 965.82L110.58 965.74L110.99 965.57L111.41 965.32L111.82 965.00L112.23 964.60L112.64 964.12L113.05 963.56L113.46 962.93L113.87 962.22L114.28 961.45L114.69 960.60L115.10 959.69L115.52 958.72L115.93 957.68L116.34 956.58L116.75 955.43L117.16 954.23L117.57 952.98L117.98 951.68L118.39 950.35L118.80 948.98L119.21 947.58L119.63 946.15L120.04 944.70L120.45 943.23L120.86 941.76L121.27 940.27L121.68 938.78L122.09 937.30L122.50 935.82L122.91 934.36L123.32 932.91L123.74 931.49L124.15 930.10L124.56 928.74L124.97 927.42L125.38 926.14L125.79 924.91L126.20 923.73L126.61 922.61L127.02 921.55L127.43 920.56L127.85 919.63L128.26 918.78L128.67 918.00L129.08 917.30L129.49 916.69L129.90 916.16L130.31 915.72L130.72 915.37L131.13 915.11L131.54 914.94L131.96 914.87L132.37 914.90L132.78 915.04L133.19 915.28L133.60 915.63L134.01 916.08L134.42 916.64L134.83 917.30L135.24 918.06L135.65 918.92L136.07 919.88L136.48 920.93L136.89 922.07L137.30 923.29L137.71 924.60L138.12 925.98L138.53 927.44L138.94 928.96L139.35 930.55L139.76 932.20L140.18 933.89L140.59 935.63L141.00 937.41L141.41 939.22L141.82 941.06L142.23 942.91L142.64 944.78L143.05 946.65L143.46 948.52L143.88 950.38L144.29 952.22L144.70 954.03L145.11 955.82L145.52 957.57L145.93 959.27L146.34 960.92L146.75 962.51L147.16 964.04L147.57 965.50L147.99 966.88L148.40 968.17L148.81 969.38L149.22 970.49L149.63 971.50L150.04 972.42L150.45 973.22L150.86 973.91L151.27 974.49L151.68 974.95L152.10 975.30L152.51 975.52L152.92 975.62L153.33 975.59L153.74 975.44L154.15 975.16L154.56 974.76L154.97 974.24L155.38 973.59L155.79 972.82L156.21 971.94L156.62 970.94L157.03 969.83L157.44 968.60L157.85 967.28L158.26 965.86L158.67 964.34L159.08 962.73L159.49 961.04L159.90 959.27L160.32 957.43L160.73 955.52L161.14 953.56L161.55 951.55L161.96 949.49L162.37 947.41L162.78 945.29L163.19 943.16L163.60 941.01L164.01 938.86L164.43 936.72L164.84 934.59L165.25 932.49L165.66 930.41L166.07 928.38L166.48 926.39L166.89 924.45L167.30 922.58L167.71 920.78L168.12 919.05L168.54 917.41L168.95 915.86L169.36 914.40L169.77 913.05L170.18 911.81L170.59 910.68L171.00 909.66L171.41 908.78L171.82 908.01L172.23 907.38L172.65 906.88L173.06 906.51L173.47 906.28L173.88 906.19L174.29 906.23L174.70 906.39L175.11 906.68L175.52 907.09L175.93 907.62L176.34 908.27L176.76 909.04L177.17 909.93L177.58 910.93L177.99 912.04L178.40 913.26L178.81 914.58L179.22 916.01L179.63 917.52L180.04 919.13L180.45 920.82L180.87 922.58L181.28 924.43L181.69 926.33L182.10 928.30L182.51 930.32L182.92 932.39L183.33 934.50L183.74 936.64L184.15 938.81L184.56 941.00L184.98 943.19L185.39 945.39L185.80 947.59L186.21 949.78L186.62 951.94L187.03 954.08L187.44 956.19L187.85 958.26L188.26 960.27L188.67 962.24L189.09 964.14L189.50 965.97L189.91 967.73L190.32 969.40L190.73 970.99L191.14 972.49L191.55 973.89L191.96 975.19L192.37 976.38L192.78 977.46L193.20 978.42L193.61 979.27L194.02 979.99L194.43 980.59L194.84 981.06L195.25 981.41L195.66 981.62L196.07 981.71L196.48 981.65L196.90 981.46L197.31 981.14L197.72 980.67L198.13 980.08L198.54 979.35L198.95 978.49L199.36 977.50L199.77 976.39L200.18 975.15L200.59 973.81L201.01 972.35L201.42 970.78L201.83 969.11L202.24 967.35L202.65 965.50L203.06 963.57L203.47 961.56L203.88 959.48L204.29 957.34L204.70 955.14L205.12 952.90L205.53 950.62L205.94 948.31L206.35 945.98L206.76 943.63L207.17 941.28L207.58 938.93L207.99 936.60L208.40 934.28L208.81 931.98L209.23 929.73L209.64 927.52L210.05 925.35L210.46 923.25L210.87 921.22L211.28 919.26L211.69 917.38L212.10 915.59L212.51 913.89L212.92 912.30L213.34 910.81L213.75 909.43L214.16 908.17L214.57 907.03L214.98 906.01L215.39 905.13L215.80 904.38L216.21 903.76L216.62 903.28L217.03 902.95L217.45 902.75L217.86 902.70L218.27 902.79L218.68 903.02L219.09 903.40L219.50 903.93L219.91 904.59L220.32 905.40L220.73 906.34L221.14 907.42L221.56 908.62L221.97 909.96L222.38 911.41L222.79 912.98L223.20 914.66L223.61 916.45L224.02 918.33L224.43 920.31L224.84 922.37L225.25 924.51L225.67 926.72L226.08 928.99L226.49 931.32L226.90 933.70L227.31 936.11L227.72 938.55L228.13 941.01L228.54 943.48L228.95 945.95L229.36 948.42L229.78 950.87L230.19 953.30L230.60 955.69L231.01 958.04L231.42 960.34L231.83 962.59L232.24 964.76L232.65 966.86L233.06 968.88L233.47 970.80L233.89 972.63L234.30 974.36L234.71 975.97L235.12 977.47L235.53 978.84L235.94 980.09L236.35 981.20L236.76 982.18L237.17 983.02L237.58 983.71L238.00 984.26L238.41 984.66L238.82 984.91L239.23 985.00L239.64 984.94L240.05 984.73L240.46 984.37L240.87 983.86L241.28 983.19L241.69 982.38L242.11 981.42L242.52 980.31L242.93 979.07L243.34 977.70L243.75 976.19L244.16 974.57L244.57 972.82L244.98 970.96L245.39 968.99L245.81 966.93L246.22 964.77L246.63 962.53L247.04 960.22L247.45 957.83L247.86 955.39L248.27 952.90L248.68 950.36L249.09 947.79L249.50 945.20L249.92 942.60L250.33 939.99L250.74 937.39L251.15 934.80L251.56 932.23L251.97 929.70L252.38 927.21L252.79 924.77L253.20 922.39L253.61 920.09L254.03 917.86L254.44 915.72L254.85 913.67L255.26 911.72L255.67 909.89L256.08 908.16L256.49 906.57L256.90 905.10L257.31 903.76L257.72 902.57L258.14 901.52L258.55 900.61L258.96 899.86L259.37 899.27L259.78 898.83L260.19 898.55L260.60 898.43L261.01 898.48L261.42 898.71L261.83 899.12L262.25 899.71L262.66 900.47L263.07 901.40L263.48 902.51L263.89 903.77L264.30 905.20L264.71 906.78L265.12 908.51L265.53 910.38L265.94 912.39L266.36 914.52L266.77 916.76L267.18 919.12L267.59 921.57L268.00 924.12L268.41 926.74L268.82 929.43L269.23 932.17L269.64 934.97L270.05 937.79L270.47 940.64L270.88 943.51L271.29 946.37L271.70 949.22L272.11 952.04L272.52 954.83L272.93 957.58L273.34 960.26L273.75 962.88L274.16 965.41L274.58 967.86L274.99 970.20L275.40 972.44L275.81 974.55L276.22 976.54L276.63 978.39L277.04 980.10L277.45 981.65L277.86 983.05L278.27 984.28L278.69 985.34L279.10 986.23L279.51 986.94L279.92 987.47L280.33 987.82L280.74 987.99L281.15 987.97L281.56 987.78L281.97 987.41L282.38 986.88L282.80 986.17L283.21 985.30L283.62 984.27L284.03 983.08L284.44 981.74L284.85 980.24L285.26 978.60L285.67 976.83L286.08 974.93L286.49 972.90L286.91 970.75L287.32 968.50L287.73 966.16L288.14 963.72L288.55 961.21L288.96 958.62L289.37 955.98L289.78 953.28L290.19 950.55L290.60 947.79L291.02 945.01L291.43 942.22L291.84 939.44L292.25 936.67L292.66 933.93L293.07 931.23L293.48 928.56L293.89 925.96L294.30 923.42L294.71 920.96L295.13 918.58L295.54 916.30L295.95 914.12L296.36 912.04L296.77 910.09L297.18 908.27L297.59 906.57L298.00 905.02L298.41 903.60L298.83 902.34L299.24 901.24L299.65 900.29L300.06 899.50L300.47 898.87L300.88 898.41L301.29 898.12L301.70 898.00L302.11 898.05L302.52 898.27L302.94 898.68L303.35 899.26L303.76 900.03L304.17 900.96L304.58 902.06L304.99 903.32L305.40 904.74L305.81 906.31L306.22 908.03L306.63 909.88L307.05 911.87L307.46 913.97L307.87 916.19L308.28 918.51L308.69 920.92L309.10 923.42L309.51 925.99L309.92 928.62L310.33 931.30L310.74 934.03L311.16 936.78L311.57 939.55L311.98 942.32L312.39 945.09L312.80 947.84L313.21 950.57L313.62 953.26L314.03 955.90L314.44 958.48L314.85 960.98L315.27 963.41L315.68 965.75L316.09 967.99L316.50 970.12L316.91 972.13L317.32 974.02L317.73 975.78L318.14 977.40L318.55 978.88L318.96 980.20L319.38 981.38L319.79 982.39L320.20 983.24L320.61 983.93L321.02 984.45L321.43 984.80L321.84 984.98L322.25 984.99L322.66 984.83L323.07 984.49L323.49 983.97L323.90 983.28L324.31 982.42L324.72 981.40L325.13 980.22L325.54 978.89L325.95 977.41L326.36 975.79L326.77 974.04L327.18 972.17L327.60 970.19L328.01 968.09L328.42 965.91L328.83 963.64L329.24 961.30L329.65 958.89L330.06 956.43L330.47 953.92L330.88 951.39L331.29 948.84L331.71 946.28L332.12 943.72L332.53 941.18L332.94 938.67L333.35 936.19L333.76 933.75L334.17 931.38L334.58 929.07L334.99 926.83L335.40 924.69L335.82 922.64L336.23 920.69L336.64 918.85L337.05 917.12L337.46 915.53L337.87 914.06L338.28 912.73L338.69 911.53L339.10 910.48L339.51 909.58L339.93 908.83L340.34 908.23L340.75 907.79L341.16 907.49L341.57 907.35L341.98 907.37L342.39 907.54L342.80 907.86L343.21 908.34L343.62 908.98L344.04 909.76L344.45 910.69L344.86 911.75L345.27 912.94L345.68 914.26L346.09 915.70L346.50 917.24L346.91 918.88L347.32 920.61L347.73 922.43L348.15 924.32L348.56 926.27L348.97 928.27L349.38 930.32L349.79 932.40L350.20 934.50L350.61 936.61L351.02 938.73L351.43 940.84L351.85 942.94L352.26 945.00L352.67 947.03L353.08 949.02L353.49 950.95L353.90 952.82L354.31 954.62L354.72 956.34L355.13 957.98L355.54 959.53L355.96 960.98L356.37 962.33L356.78 963.57L357.19 964.70L357.60 965.72L358.01 966.61L358.42 967.39L358.83 968.04L359.24 968.58L359.65 968.98L360.07 969.27L360.48 969.43L360.89 969.47L361.30 969.38L361.71 969.18L362.12 968.81L362.53 968.28L362.94 967.60L363.35 966.77L363.76 965.80L364.18 964.70L364.59 963.49L365.00 962.16L365.41 960.73L365.82 959.21L366.23 957.62L366.64 955.96L367.05 954.26L367.46 952.51L367.87 950.74L368.29 948.95L368.70 947.17L369.11 945.39L369.52 943.64L369.93 941.92L370.34 940.24L370.75 938.62L371.16 937.06L371.57 935.58L371.98 934.17L372.40 932.86L372.81 931.64L373.22 930.53L373.63 929.52L374.04 928.62L374.45 927.84L374.86 927.17L375.27 926.62L375.68 926.19L376.09 925.87L376.51 925.68L376.92 925.60L377.33 925.63L377.74 925.78L378.15 926.03L378.56 926.40L378.97 926.88L379.38 927.47L379.79 928.17L380.20 928.95L380.62 929.82L381.03 930.75L381.44 931.76L381.85 932.81L382.26 933.91L382.67 935.03L383.08 936.18L383.49 937.34L383.90 938.51L384.31 939.66L384.73 940.80L385.14 941.91L385.55 942.99L385.96 944.04L386.37 945.03L386.78 945.97L387.19 946.86L387.60 947.68L388.01 948.44L388.42 949.14L388.84 949.76L389.25 950.31L389.66 950.79L390.07 951.19L390.48 951.53L390.89 951.79L391.30 951.97L391.71 952.07L392.12 952.10L392.53 952.06L392.95 951.95L393.36 951.78L393.77 951.54L394.18 951.26L394.59 950.92L395.00 950.55L395.41 950.13L395.82 949.69L396.23 949.22L396.64 948.73L397.06 948.22L397.47 947.71L397.88 947.20L398.29 946.68L398.70 946.17L399.11 945.67L399.52 945.19L399.93 944.72L400.34 944.26L400.75 943.83L401.17 943.42L401.58 943.03L401.99 942.66L402.40 942.32L402.81 942.00L403.22 941.69L403.63 941.41L404.04 941.15L404.45 940.90L404.87 940.67L405.28 940.45L405.69 940.24L406.10 940.04L406.51 939.84L406.92 939.65L407.33 939.46L407.74 939.27L408.15 939.09L408.56 938.92L408.98 938.76L409.39 938.61L409.80 938.48L410.21 938.37L410.62 938.29L411.03 938.24L411.44 938.23L411.85 938.26L412.26 938.33L412.67 938.45L413.09 938.62L413.50 938.84L413.91 939.12L414.32 939.45L414.73 939.83L415.14 940.27L415.55 940.76L415.96 941.30L416.37 941.89L416.78 942.53L417.20 943.21L417.61 943.92L418.02 944.65L418.43 945.41L418.84 946.18L419.25 946.96L419.66 947.73L420.07 948.50L420.48 949.24L420.89 949.95L421.31 950.62L421.72 951.25L422.13 951.82L422.54 952.32L422.95 952.76L423.36 953.12L423.77 953.40L424.18 953.59L424.59 953.71L425.00 953.78L425.42 953.78L425.83 953.73L426.24 953.62L426.65 953.45L427.06 953.21L427.47 952.92L427.88 952.56L428.29 952.14L428.70 951.66L429.11 951.12L429.53 950.52L429.94 949.87L430.35 949.16L430.76 948.40L431.17 947.59L431.58 946.74L431.99 945.84L432.40 944.91L432.81 943.94L433.22 942.95L433.64 941.92L434.05 940.88L434.46 939.83L434.87 938.76L435.28 937.70L435.69 936.63L436.10 935.57L436.51 934.53L436.92 933.50L437.33 932.50L437.75 931.53L438.16 930.60L438.57 929.72L438.98 928.87L439.39 928.09L439.80 927.36L440.21 926.69L440.62 926.10L441.03 925.57L441.44 925.12L441.86 924.76L442.27 924.47L442.68 924.27L443.09 924.16L443.50 924.12L443.91 924.17L444.32 924.29L444.73 924.49L445.14 924.77L445.55 925.13L445.97 925.57L446.38 926.09L446.79 926.69L447.20 927.36L447.61 928.11L448.02 928.92L448.43 929.81L448.84 930.76L449.25 931.77L449.66 932.84L450.08 933.97L450.49 935.15L450.90 936.37L451.31 937.63L451.72 938.93L452.13 940.26L452.54 941.61L452.95 942.99L453.36 944.37L453.77 945.76L454.19 947.16L454.60 948.55L455.01 949.93L455.42 951.29L455.83 952.62L456.24 953.93L456.65 955.20L457.06 956.43L457.47 957.60L457.89 958.73L458.30 959.80L458.71 960.80L459.12 961.73L459.53 962.59L459.94 963.37L460.35 964.06L460.76 964.67L461.17 965.19L461.58 965.61L462.00 965.94L462.41 966.17L462.82 966.30L463.23 966.33L463.64 966.25L464.05 966.06L464.46 965.76L464.87 965.35L465.28 964.84L465.69 964.22L466.11 963.50L466.52 962.67L466.93 961.75L467.34 960.74L467.75 959.63L468.16 958.44L468.57 957.17L468.98 955.83L469.39 954.41L469.80 952.94L470.22 951.41L470.63 949.82L471.04 948.20L471.45 946.54L471.86 944.86L472.27 943.16L472.68 941.45L473.09 939.73L473.50 938.02L473.91 936.33L474.33 934.66L474.74 933.02L475.15 931.42L475.56 929.86L475.97 928.37L476.38 926.93L476.79 925.56L477.20 924.27L477.61 923.07L478.02 921.95L478.44 920.93L478.85 920.01L479.26 919.19L479.67 918.49L480.08 917.89L480.49 917.42L480.90 917.06L481.31 916.83L481.72 916.71L482.13 916.72L482.55 916.85L482.96 917.09L483.37 917.45L483.78 917.93L484.19 918.52L484.60 919.22L485.01 920.02L485.42 920.93L485.83 921.94L486.24 923.03L486.66 924.22L487.07 925.49L487.48 926.83L487.89 928.24L488.30 929.71L488.71 931.24L489.12 932.82L489.53 934.44L489.94 936.09L490.35 937.77L490.77 939.46L491.18 941.16L491.59 942.87L492.00 944.56L492.41 946.25L492.82 947.91L493.23 949.54L493.64 951.14L494.05 952.69L494.46 954.19L494.88 955.63L495.29 957.01L495.70 958.32L496.11 959.55L496.52 960.70L496.93 961.77L497.34 962.75L497.75 963.63L498.16 964.42L498.57 965.11L498.99 965.69L499.40 966.17L499.81 966.54L500.22 966.81L500.63 966.97L501.04 967.02L501.45 966.97L501.86 966.81L502.27 966.54L502.68 966.18L503.10 965.72L503.51 965.16L503.92 964.51L504.33 963.76L504.74 962.94L505.15 962.03L505.56 961.05L505.97 959.99L506.38 958.87L506.79 957.69L507.21 956.45L507.62 955.16L508.03 953.84L508.44 952.47L508.85 951.08L509.26 949.66L509.67 948.23L510.08 946.79L510.49 945.34L510.91 943.89L511.32 942.46L511.73 941.04L512.14 939.64L512.55 938.26L512.96 936.92L513.37 935.62L513.78 934.37L514.19 933.16L514.60 932.00L515.02 930.90L515.43 929.87L515.84 928.90L516.25 928.00L516.66 927.17L517.07 926.42L517.48 925.74L517.89 925.14L518.30 924.62L518.71 924.19L519.13 923.83L519.54 923.56L519.95 923.37L520.36 923.27L520.77 923.24L521.18 923.30L521.59 923.43L522.00 923.66L522.41 923.98L522.82 924.38L523.24 924.87L523.65 925.43L524.06 926.06L524.47 926.77L524.88 927.53L525.29 928.36L525.70 929.24L526.11 930.16L526.52 931.13L526.93 932.13L527.35 933.17L527.76 934.22L528.17 935.30L528.58 936.39L528.99 937.48L529.40 938.58L529.81 939.67L530.22 940.75L530.63 941.81L531.04 942.85L531.46 943.86L531.87 944.84L532.28 945.79L532.69 946.70L533.10 947.56L533.51 948.37L533.92 949.14L534.33 949.85L534.74 950.51L535.15 951.11L535.57 951.65L535.98 952.12L536.39 952.54L536.80 952.89L537.21 953.19L537.62 953.42L538.03 953.58L538.44 953.69L538.85 953.74L539.26 953.73L539.68 953.66L540.09 953.54L540.50 953.37L540.91 953.15L541.32 952.90L541.73 952.60L542.14 952.27L542.55 951.90L542.96 951.49L543.37 951.06L543.79 950.60L544.20 950.12L544.61 949.62L545.02 949.10L545.43 948.56L545.84 948.01L546.25 947.46L546.66 946.89L547.07 946.33L547.48 945.77L547.90 945.21L548.31 944.65L548.72 944.11L549.13 943.57L549.54 943.05L549.95 942.55L550.36 942.06L550.77 941.59L551.18 941.15L551.59 940.73L552.01 940.33L552.42 939.96L552.83 939.62L553.24 939.30L553.65 939.02L554.06 938.77L554.47 938.54L554.88 938.35L555.29 938.19L555.70 938.05L556.12 937.95L556.53 937.89L556.94 937.85L557.35 937.84L557.76 937.86L558.17 937.91L558.58 937.98L558.99 938.08L559.40 938.20L559.82 938.34L560.23 938.50L560.64 938.66L561.05 938.84L561.46 939.02L561.87 939.21L562.28 939.40L562.69 939.60L563.10 939.80L563.51 940.00L563.93 940.20L564.34 940.40L564.75 940.59L565.16 940.79L565.57 940.97L565.98 941.16L566.39 941.33L566.80 941.50L567.21 941.66L567.62 941.81L568.04 941.95L568.45 942.07L568.86 942.19L569.27 942.30L569.68 942.39L570.09 942.47L570.50 942.54L570.91 942.60L571.32 942.64L571.73 942.67L572.15 942.69L572.56 942.70L572.97 942.69L573.38 942.68L573.79 942.64L574.20 942.60L574.61 942.54L575.02 942.47L575.43 942.39L575.84 942.30L576.26 942.20L576.67 942.08L577.08 941.96L577.49 941.82L577.90 941.68L578.31 941.53L578.72 941.37L579.13 941.21L579.54 941.04L579.95 940.87L580.37 940.70L580.78 940.52L581.19 940.34L581.60 940.16L582.01 939.99L582.42 939.81L582.83 939.64L583.24 939.47L583.65 939.31L584.06 939.16L584.48 939.01L584.89 938.87L585.30 938.75L585.71 938.63L586.12 938.54L586.53 938.48L586.94 938.44L587.35 938.42L587.76 938.43L588.17 938.48L588.59 938.55L589.00 938.65L589.41 938.79L589.82 938.96L590.23 939.15L590.64 939.38L591.05 939.64L591.46 939.93L591.87 940.25L592.28 940.60L592.70 940.98L593.11 941.38L593.52 941.81L593.93 942.25L594.34 942.72L594.75 943.21L595.16 943.71L595.57 944.22L595.98 944.75L596.39 945.28L596.81 945.81L597.22 946.34L597.63 946.88L598.04 947.40L598.45 947.92L598.86 948.43L599.27 948.92L599.68 949.39L600.09 949.84L600.50 950.27L600.92 950.67L601.33 951.04L601.74 951.37L602.15 951.67L602.56 951.93L602.97 952.15L603.38 952.32L603.79 952.45L604.20 952.54L604.61 952.58L605.03 952.59L605.44 952.56L605.85 952.48L606.26 952.37L606.67 952.21L607.08 952.02L607.49 951.78L607.90 951.50L608.31 951.19L608.72 950.83L609.14 950.44L609.55 950.00L609.96 949.54L610.37 949.04L610.78 948.50L611.19 947.94L611.60 947.34L612.01 946.72L612.42 946.07L612.84 945.41L613.25 944.72L613.66 944.01L614.07 943.30L614.48 942.57L614.89 941.83L615.30 941.08L615.71 940.34L616.12 939.59L616.53 938.85L616.95 938.12L617.36 937.39L617.77 936.68L618.18 935.98L618.59 935.31L619.00 934.65L619.41 934.03L619.82 933.42L620.23 932.86L620.64 932.32L621.06 931.82L621.47 931.36L621.88 930.94L622.29 930.56L622.70 930.23L623.11 929.94L623.52 929.70L623.93 929.52L624.34 929.38L624.75 929.29L625.17 929.26L625.58 929.27L625.99 929.33L626.40 929.43L626.81 929.59L627.22 929.79L627.63 930.05L628.04 930.35L628.45 930.69L628.86 931.08L629.28 931.52L629.69 932.00L630.10 932.52L630.51 933.09L630.92 933.69L631.33 934.33L631.74 935.00L632.15 935.71L632.56 936.44L632.97 937.21L633.39 937.99L633.80 938.81L634.21 939.64L634.62 940.49L635.03 941.35L635.44 942.22L635.85 943.10L636.26 943.99L636.67 944.88L637.08 945.76L637.50 946.64L637.91 947.51L638.32 948.38L638.73 949.22L639.14 950.05L639.55 950.86L639.96 951.64L640.37 952.40L640.78 953.13L641.19 953.82L641.61 954.48L642.02 955.10L642.43 955.68L642.84 956.22L643.25 956.71L643.66 957.16L644.07 957.56L644.48 957.90L644.89 958.19L645.30 958.43L645.72 958.62L646.13 958.75L646.54 958.82L646.95 958.82L647.36 958.75L647.77 958.61L648.18 958.40L648.59 958.12L649.00 957.78L649.41 957.36L649.83 956.87L650.24 956.32L650.65 955.71L651.06 955.04L651.47 954.31L651.88 953.52L652.29 952.68L652.70 951.79L653.11 950.86L653.52 949.88L653.94 948.87L654.35 947.82L654.76 946.75L655.17 945.65L655.58 944.53L655.99 943.40L656.40 942.26L656.81 941.11L657.22 939.97L657.63 938.83L658.05 937.70L658.46 936.59L658.87 935.49L659.28 934.43L659.69 933.39L660.10 932.39L660.51 931.43L660.92 930.51L661.33 929.65L661.74 928.83L662.16 928.07L662.57 927.38L662.98 926.74L663.39 926.18L663.80 925.68" fill="none" stroke="#000000" stroke-width="2.25" stroke-linejoin="round" stroke-linecap="round" clip-path="url(#cpf)"/>
<path d="M88.80 924.20L89.96 923.93L91.11 923.65L92.27 923.38L93.43 923.11L94.58 922.85L95.74 922.58L96.90 922.31L98.06 922.05L99.21 921.78L100.37 921.52L101.53 921.26L102.68 921.00L103.84 920.74L105.00 920.49L106.15 920.23L107.31 919.98L108.47 919.72L109.62 919.47L110.78 919.22L111.94 918.98L113.10 918.73L114.25 918.49L115.41 918.24L116.57 918.00L117.72 917.76L118.88 917.53L120.04 917.29L121.19 917.05L122.35 916.81L123.51 916.58L124.66 916.34L125.82 916.11L126.98 915.87L128.14 915.63L129.29 915.40L130.45 915.16L131.61 914.92L132.76 914.68L133.92 914.43L135.08 914.18L136.23 913.92L137.39 913.66L138.55 913.40L139.70 913.13L140.86 912.86L142.02 912.59L143.17 912.32L144.33 912.05L145.49 911.77L146.65 911.50L147.80 911.22L148.96 910.95L150.12 910.68L151.27 910.41L152.43 910.14L153.59 909.88L154.74 909.62L155.90 909.36L157.06 909.10L158.21 908.86L159.37 908.61L160.53 908.37L161.69 908.14L162.84 907.92L164.00 907.70L165.16 907.49L166.31 907.29L167.47 907.09L168.63 906.91L169.78 906.73L170.94 906.56L172.10 906.41L173.25 906.26L174.41 906.13L175.57 906.00L176.73 905.88L177.88 905.76L179.04 905.64L180.20 905.53L181.35 905.42L182.51 905.32L183.67 905.22L184.82 905.12L185.98 905.03L187.14 904.94L188.29 904.85L189.45 904.76L190.61 904.67L191.77 904.59L192.92 904.51L194.08 904.43L195.24 904.35L196.39 904.27L197.55 904.19L198.71 904.11L199.86 904.04L201.02 903.96L202.18 903.88L203.33 903.80L204.49 903.72L205.65 903.64L206.81 903.56L207.96 903.48L209.12 903.40L210.28 903.31L211.43 903.22L212.59 903.13L213.75 903.04L214.90 902.94L216.06 902.85L217.22 902.74L218.37 902.64L219.53 902.53L220.69 902.42L221.85 902.30L223.00 902.18L224.16 902.06L225.32 901.94L226.47 901.82L227.63 901.69L228.79 901.56L229.94 901.44L231.10 901.31L232.26 901.18L233.41 901.06L234.57 900.93L235.73 900.81L236.88 900.68L238.04 900.56L239.20 900.45L240.36 900.33L241.51 900.22L242.67 900.11L243.83 900.00L244.98 899.90L246.14 899.80L247.30 899.70L248.45 899.59L249.61 899.49L250.77 899.38L251.92 899.27L253.08 899.16L254.24 899.04L255.40 898.93L256.55 898.82L257.71 898.71L258.87 898.60L260.02 898.49L261.18 898.38L262.34 898.27L263.49 898.16L264.65 898.06L265.81 897.96L266.96 897.86L268.12 897.76L269.28 897.67L270.44 897.58L271.59 897.50L272.75 897.42L273.91 897.34L275.06 897.27L276.22 897.20L277.38 897.14L278.53 897.09L279.69 897.04L280.85 897.00L282.00 896.97L283.16 896.94L284.32 896.92L285.48 896.90L286.63 896.90L287.79 896.91L288.95 896.94L290.10 896.98L291.26 897.04L292.42 897.11L293.57 897.20L294.73 897.29L295.89 897.39L297.04 897.50L298.20 897.62L299.36 897.74L300.52 897.86L301.67 897.98L302.83 898.10L303.99 898.23L305.14 898.38L306.30 898.53L307.46 898.70L308.61 898.87L309.77 899.06L310.93 899.26L312.08 899.46L313.24 899.68L314.40 899.90L315.56 900.13L316.71 900.38L317.87 900.63L319.03 900.89L320.18 901.15L321.34 901.43L322.50 901.71L323.65 902.00L324.81 902.29L325.97 902.60L327.12 902.91L328.28 903.22L329.44 903.54L330.59 903.87L331.75 904.21L332.91 904.54L334.07 904.89L335.22 905.24L336.38 905.59L337.54 905.95L338.69 906.31L339.85 906.68L341.01 907.05L342.16 907.42L343.32 907.81L344.48 908.22L345.63 908.65L346.79 909.10L347.95 909.58L349.11 910.07L350.26 910.58L351.42 911.10L352.58 911.65L353.73 912.21L354.89 912.78L356.05 913.37L357.20 913.97L358.36 914.58L359.52 915.20L360.67 915.83L361.83 916.48L362.99 917.13L364.15 917.78L365.30 918.45L366.46 919.12L367.62 919.79L368.77 920.47L369.93 921.16L371.09 921.84L372.24 922.52L373.40 923.21L374.56 923.90L375.71 924.58L376.87 925.26L378.03 925.94L379.19 926.64L380.34 927.38L381.50 928.17L382.66 928.99L383.81 929.81L384.97 930.62L386.13 931.42L387.28 932.17L388.44 932.88L389.60 933.51L390.75 934.06L391.91 934.61L393.07 935.17L394.23 935.73L395.38 936.28L396.54 936.81L397.70 937.32L398.85 937.79L400.01 938.21L401.17 938.58L402.32 938.88L403.48 939.11L404.64 939.25L405.79 939.30L406.95 939.22L408.11 939.00L409.27 938.65L410.42 938.19L411.58 937.65L412.74 937.04L413.89 936.38L415.05 935.70L416.21 935.00L417.36 934.31L418.52 933.66L419.68 933.05L420.83 932.51L421.99 932.03L423.15 931.55L424.31 931.06L425.46 930.58L426.62 930.09L427.78 929.61L428.93 929.13L430.09 928.66L431.25 928.19L432.40 927.73L433.56 927.28L434.72 926.85L435.87 926.42L437.03 926.01L438.19 925.61L439.34 925.24L440.50 924.88L441.66 924.54L442.82 924.22L443.97 923.92L445.13 923.61L446.29 923.30L447.44 922.99L448.60 922.68L449.76 922.36L450.91 922.05L452.07 921.74L453.23 921.44L454.38 921.13L455.54 920.83L456.70 920.54L457.86 920.24L459.01 919.96L460.17 919.68L461.33 919.41L462.48 919.15L463.64 918.90L464.80 918.66L465.95 918.42L467.11 918.20L468.27 917.99L469.42 917.80L470.58 917.62L471.74 917.45L472.90 917.30L474.05 917.16L475.21 917.04L476.37 916.93L477.52 916.85L478.68 916.78L479.84 916.73L480.99 916.71L482.15 916.70L483.31 916.71L484.46 916.74L485.62 916.79L486.78 916.85L487.94 916.93L489.09 917.03L490.25 917.13L491.41 917.26L492.56 917.39L493.72 917.54L494.88 917.70L496.03 917.87L497.19 918.06L498.35 918.25L499.50 918.45L500.66 918.66L501.82 918.88L502.98 919.11L504.13 919.35L505.29 919.59L506.45 919.84L507.60 920.09L508.76 920.35L509.92 920.62L511.07 920.88L512.23 921.16L513.39 921.43L514.54 921.70L515.70 921.98L516.86 922.26L518.02 922.54L519.17 922.82L520.33 923.09L521.49 923.37L522.64 923.66L523.80 923.98L524.96 924.33L526.11 924.69L527.27 925.08L528.43 925.48L529.58 925.90L530.74 926.34L531.90 926.79L533.05 927.26L534.21 927.73L535.37 928.22L536.53 928.72L537.68 929.22L538.84 929.73L540.00 930.24L541.15 930.76L542.31 931.27L543.47 931.79L544.62 932.30L545.78 932.82L546.94 933.32L548.09 933.82L549.25 934.32L550.41 934.80L551.57 935.27L552.72 935.73L553.88 936.18L555.04 936.61L556.19 937.04L557.35 937.46L558.51 937.87L559.66 938.29L560.82 938.70L561.98 939.11L563.13 939.52L564.29 939.92L565.45 940.32L566.61 940.72L567.76 941.11L568.92 941.50L570.08 941.89L571.23 942.28L572.39 942.66L573.55 943.05L574.70 943.44L575.86 943.83L577.02 944.23L578.17 944.63L579.33 945.03L580.49 945.43L581.65 945.84L582.80 946.24L583.96 946.64L585.12 947.04L586.27 947.43L587.43 947.82L588.59 948.21L589.74 948.59L590.90 948.96L592.06 949.33L593.21 949.69L594.37 950.04L595.53 950.38L596.69 950.71L597.84 951.03L599.00 951.33L600.16 951.63L601.31 951.91L602.47 952.17L603.63 952.42L604.78 952.66L605.94 952.89L607.10 953.11L608.25 953.32L609.41 953.53L610.57 953.74L611.73 953.94L612.88 954.13L614.04 954.32L615.20 954.50L616.35 954.68L617.51 954.85L618.67 955.02L619.82 955.19L620.98 955.36L622.14 955.52L623.29 955.68L624.45 955.84L625.61 955.99L626.76 956.14L627.92 956.30L629.08 956.45L630.24 956.60L631.39 956.75L632.55 956.90L633.71 957.05L634.86 957.20L636.02 957.35L637.18 957.51L638.33 957.66L639.49 957.82L640.65 957.97L641.80 958.13L642.96 958.30L644.12 958.46L645.28 958.63L646.43 958.80L647.59 958.98L648.75 959.15L649.90 959.33L651.06 959.50L652.22 959.68L653.37 959.86L654.53 960.03L655.69 960.21L656.84 960.38L658.00 960.56L659.16 960.74L660.32 960.91L661.47 961.09L662.63 961.27L663.79 961.45L664.94 961.62L666.10 961.80" fill="none" stroke="#0000ff" stroke-width="1.65" stroke-linejoin="round" stroke-linecap="round" clip-path="url(#cpf)"/>
<path d="M88.80 962.30L89.96 962.48L91.11 962.65L92.27 962.83L93.43 963.01L94.58 963.20L95.74 963.38L96.90 963.57L98.06 963.76L99.21 963.96L100.37 964.15L101.53 964.35L102.68 964.55L103.84 964.76L105.00 964.97L106.15 965.18L107.31 965.39L108.47 965.60L109.62 965.82L110.78 966.05L111.94 966.28L113.10 966.52L114.25 966.76L115.41 967.02L116.57 967.27L117.72 967.53L118.88 967.80L120.04 968.07L121.19 968.34L122.35 968.62L123.51 968.90L124.66 969.18L125.82 969.47L126.98 969.75L128.14 970.04L129.29 970.33L130.45 970.61L131.61 970.90L132.76 971.19L133.92 971.47L135.08 971.76L136.23 972.04L137.39 972.32L138.55 972.60L139.70 972.87L140.86 973.14L142.02 973.41L143.17 973.67L144.33 973.92L145.49 974.17L146.65 974.42L147.80 974.66L148.96 974.89L150.12 975.11L151.27 975.33L152.43 975.54L153.59 975.74L154.74 975.94L155.90 976.13L157.06 976.33L158.21 976.52L159.37 976.72L160.53 976.91L161.69 977.10L162.84 977.29L164.00 977.47L165.16 977.66L166.31 977.84L167.47 978.02L168.63 978.20L169.78 978.37L170.94 978.55L172.10 978.72L173.25 978.89L174.41 979.06L175.57 979.22L176.73 979.38L177.88 979.54L179.04 979.70L180.20 979.86L181.35 980.01L182.51 980.16L183.67 980.31L184.82 980.45L185.98 980.59L187.14 980.73L188.29 980.87L189.45 981.00L190.61 981.13L191.77 981.26L192.92 981.38L194.08 981.51L195.24 981.62L196.39 981.74L197.55 981.85L198.71 981.96L199.86 982.07L201.02 982.17L202.18 982.28L203.33 982.38L204.49 982.48L205.65 982.57L206.81 982.67L207.96 982.76L209.12 982.85L210.28 982.94L211.43 983.03L212.59 983.12L213.75 983.21L214.90 983.29L216.06 983.37L217.22 983.46L218.37 983.54L219.53 983.62L220.69 983.70L221.85 983.78L223.00 983.86L224.16 983.94L225.32 984.02L226.47 984.10L227.63 984.18L228.79 984.26L229.94 984.34L231.10 984.42L232.26 984.50L233.41 984.58L234.57 984.66L235.73 984.75L236.88 984.83L238.04 984.91L239.20 985.00L240.36 985.09L241.51 985.18L242.67 985.27L243.83 985.37L244.98 985.47L246.14 985.58L247.30 985.68L248.45 985.79L249.61 985.90L250.77 986.01L251.92 986.12L253.08 986.23L254.24 986.34L255.40 986.45L256.55 986.56L257.71 986.67L258.87 986.78L260.02 986.88L261.18 986.99L262.34 987.09L263.49 987.18L264.65 987.27L265.81 987.36L266.96 987.45L268.12 987.53L269.28 987.60L270.44 987.67L271.59 987.74L272.75 987.80L273.91 987.85L275.06 987.89L276.22 987.93L277.38 987.96L278.53 987.98L279.69 988.00L280.85 988.00L282.00 988.00L283.16 987.99L284.32 987.97L285.48 987.95L286.63 987.93L287.79 987.90L288.95 987.86L290.10 987.82L291.26 987.77L292.42 987.72L293.57 987.66L294.73 987.60L295.89 987.53L297.04 987.46L298.20 987.38L299.36 987.30L300.52 987.22L301.67 987.13L302.83 987.04L303.99 986.94L305.14 986.84L306.30 986.74L307.46 986.63L308.61 986.52L309.77 986.40L310.93 986.29L312.08 986.16L313.24 986.04L314.40 985.92L315.56 985.79L316.71 985.66L317.87 985.52L319.03 985.38L320.18 985.25L321.34 985.11L322.50 984.96L323.65 984.80L324.81 984.60L325.97 984.37L327.12 984.12L328.28 983.84L329.44 983.53L330.59 983.20L331.75 982.84L332.91 982.46L334.07 982.06L335.22 981.65L336.38 981.21L337.54 980.75L338.69 980.28L339.85 979.79L341.01 979.29L342.16 978.78L343.32 978.25L344.48 977.71L345.63 977.16L346.79 976.61L347.95 976.04L349.11 975.48L350.26 974.90L351.42 974.32L352.58 973.74L353.73 973.16L354.89 972.58L356.05 972.00L357.20 971.42L358.36 970.84L359.52 970.27L360.67 969.70L361.83 969.14L362.99 968.55L364.15 967.94L365.30 967.30L366.46 966.64L367.62 965.97L368.77 965.28L369.93 964.58L371.09 963.88L372.24 963.18L373.40 962.49L374.56 961.80L375.71 961.12L376.87 960.46L378.03 959.82L379.19 959.18L380.34 958.54L381.50 957.91L382.66 957.27L383.81 956.65L384.97 956.03L386.13 955.42L387.28 954.82L388.44 954.24L389.60 953.68L390.75 953.13L391.91 952.55L393.07 951.94L394.23 951.30L395.38 950.66L396.54 950.02L397.70 949.41L398.85 948.83L400.01 948.30L401.17 947.83L402.32 947.45L403.48 947.15L404.64 946.97L405.79 946.90L406.95 946.95L408.11 947.10L409.27 947.34L410.42 947.65L411.58 948.03L412.74 948.47L413.89 948.95L415.05 949.47L416.21 950.02L417.36 950.57L418.52 951.14L419.68 951.69L420.83 952.23L421.99 952.74L423.15 953.21L424.31 953.64L425.46 954.04L426.62 954.45L427.78 954.87L428.93 955.29L430.09 955.71L431.25 956.14L432.40 956.57L433.56 956.99L434.72 957.42L435.87 957.85L437.03 958.28L438.19 958.71L439.34 959.14L440.50 959.56L441.66 959.98L442.82 960.40L443.97 960.81L445.13 961.22L446.29 961.62L447.44 962.01L448.60 962.40L449.76 962.78L450.91 963.15L452.07 963.51L453.23 963.86L454.38 964.20L455.54 964.53L456.70 964.85L457.86 965.15L459.01 965.44L460.17 965.72L461.33 965.99L462.48 966.23L463.64 966.47L464.80 966.72L465.95 966.97L467.11 967.22L468.27 967.47L469.42 967.71L470.58 967.95L471.74 968.17L472.90 968.39L474.05 968.59L475.21 968.76L476.37 968.92L477.52 969.06L478.68 969.17L479.84 969.24L480.99 969.29L482.15 969.30L483.31 969.28L484.46 969.24L485.62 969.18L486.78 969.09L487.94 968.99L489.09 968.87L490.25 968.73L491.41 968.58L492.56 968.42L493.72 968.25L494.88 968.07L496.03 967.89L497.19 967.69L498.35 967.50L499.50 967.30L500.66 967.11L501.82 966.91L502.98 966.69L504.13 966.44L505.29 966.17L506.45 965.88L507.60 965.57L508.76 965.23L509.92 964.88L511.07 964.51L512.23 964.12L513.39 963.72L514.54 963.30L515.70 962.87L516.86 962.43L518.02 961.98L519.17 961.53L520.33 961.07L521.49 960.60L522.64 960.13L523.80 959.66L524.96 959.18L526.11 958.71L527.27 958.24L528.43 957.77L529.58 957.30L530.74 956.85L531.90 956.40L533.05 955.96L534.21 955.52L535.37 955.10L536.53 954.70L537.68 954.31L538.84 953.93L540.00 953.57L541.15 953.23L542.31 952.90L543.47 952.58L544.62 952.27L545.78 951.97L546.94 951.67L548.09 951.36L549.25 951.06L550.41 950.75L551.57 950.43L552.72 950.10L553.88 949.75L555.04 949.39L556.19 949.00L557.35 948.59L558.51 948.16L559.66 947.71L560.82 947.25L561.98 946.78L563.13 946.30L564.29 945.82L565.45 945.34L566.61 944.87L567.76 944.41L568.92 943.96L570.08 943.53L571.23 943.12L572.39 942.74L573.55 942.37L574.70 942.00L575.86 941.64L577.02 941.28L578.17 940.92L579.33 940.56L580.49 940.20L581.65 939.85L582.80 939.50L583.96 939.15L585.12 938.80L586.27 938.46L587.43 938.11L588.59 937.78L589.74 937.44L590.90 937.11L592.06 936.78L593.21 936.45L594.37 936.13L595.53 935.81L596.69 935.50L597.84 935.19L599.00 934.88L600.16 934.58L601.31 934.28L602.47 933.98L603.63 933.69L604.78 933.40L605.94 933.12L607.10 932.85L608.25 932.57L609.41 932.31L610.57 932.05L611.73 931.79L612.88 931.54L614.04 931.29L615.20 931.05L616.35 930.82L617.51 930.59L618.67 930.36L619.82 930.15L620.98 929.94L622.14 929.73L623.29 929.53L624.45 929.34L625.61 929.15L626.76 928.97L627.92 928.78L629.08 928.60L630.24 928.42L631.39 928.24L632.55 928.07L633.71 927.89L634.86 927.72L636.02 927.55L637.18 927.38L638.33 927.22L639.49 927.06L640.65 926.90L641.80 926.74L642.96 926.59L644.12 926.44L645.28 926.29L646.43 926.15L647.59 926.01L648.75 925.87L649.90 925.74L651.06 925.61L652.22 925.48L653.37 925.36L654.53 925.24L655.69 925.13L656.84 925.02L658.00 924.91L659.16 924.81L660.32 924.71L661.47 924.62L662.63 924.53L663.79 924.45L664.94 924.37L666.10 924.30" fill="none" stroke="#0000ff" stroke-width="1.65" stroke-linejoin="round" stroke-linecap="round" clip-path="url(#cpf)"/>
<path d="M88.80 1098.43L89.21 1095.41L89.62 1092.63L90.03 1090.12L90.44 1087.92L90.86 1086.03L91.27 1084.49L91.68 1083.29L92.09 1082.44L92.50 1081.95L92.91 1081.81L93.32 1082.02L93.73 1082.56L94.14 1083.43L94.55 1084.60L94.97 1086.05L95.38 1087.77L95.79 1089.72L96.20 1091.87L96.61 1094.19L97.02 1096.65L97.43 1099.22L97.84 1101.86L98.25 1104.54L98.66 1107.22L99.08 1109.87L99.49 1112.46L99.90 1114.95L100.31 1117.32L100.72 1119.53L101.13 1121.58L101.54 1123.43L101.95 1125.06L102.36 1126.46L102.77 1127.63L103.19 1128.54L103.60 1129.19L104.01 1129.60L104.42 1129.74L104.83 1129.64L105.24 1129.30L105.65 1128.74L106.06 1127.96L106.47 1126.99L106.88 1125.85L107.30 1124.55L107.71 1123.12L108.12 1121.58L108.53 1119.96L108.94 1118.27L109.35 1116.55L109.76 1114.81L110.17 1113.08L110.58 1111.38L110.99 1109.73L111.41 1108.15L111.82 1106.65L112.23 1105.26L112.64 1103.98L113.05 1102.82L113.46 1101.80L113.87 1100.92L114.28 1100.19L114.69 1099.61L115.10 1099.18L115.52 1098.90L115.93 1098.77L116.34 1098.78L116.75 1098.94L117.16 1099.20L117.57 1099.54L117.98 1099.96L118.39 1100.44L118.80 1100.99L119.21 1101.59L119.63 1102.23L120.04 1102.92L120.45 1103.64L120.86 1104.38L121.27 1105.15L121.68 1105.92L122.09 1106.69L122.50 1107.47L122.91 1108.23L123.32 1108.98L123.74 1109.70L124.15 1110.40L124.56 1111.07L124.97 1111.71L125.38 1112.31L125.79 1112.87L126.20 1113.39L126.61 1113.86L127.02 1114.30L127.43 1114.68L127.85 1115.03L128.26 1115.33L128.67 1115.58L129.08 1115.79L129.49 1115.96L129.90 1116.09L130.31 1116.18L130.72 1116.24L131.13 1116.26L131.54 1116.24L131.96 1116.19L132.37 1116.11L132.78 1116.00L133.19 1115.85L133.60 1115.68L134.01 1115.48L134.42 1115.25L134.83 1114.99L135.24 1114.70L135.65 1114.38L136.07 1114.03L136.48 1113.64L136.89 1113.22L137.30 1112.76L137.71 1112.27L138.12 1111.75L138.53 1111.19L138.94 1110.61L139.35 1109.99L139.76 1109.35L140.18 1108.69L140.59 1108.01L141.00 1107.32L141.41 1106.62L141.82 1105.92L142.23 1105.22L142.64 1104.53L143.05 1103.86L143.46 1103.21L143.88 1102.59L144.29 1102.01L144.70 1101.48L145.11 1100.99L145.52 1100.57L145.93 1100.21L146.34 1099.91L146.75 1099.69L147.16 1099.54L147.57 1099.50L147.99 1099.57L148.40 1099.77L148.81 1100.09L149.22 1100.53L149.63 1101.08L150.04 1101.76L150.45 1102.55L150.86 1103.45L151.27 1104.44L151.68 1105.53L152.10 1106.69L152.51 1107.93L152.92 1109.21L153.33 1110.54L153.74 1111.90L154.15 1113.27L154.56 1114.63L154.97 1115.97L155.38 1117.27L155.79 1118.51L156.21 1119.69L156.62 1120.77L157.03 1121.75L157.44 1122.62L157.85 1123.35L158.26 1123.94L158.67 1124.38L159.08 1124.65L159.49 1124.75L159.90 1124.64L160.32 1124.31L160.73 1123.78L161.14 1123.03L161.55 1122.09L161.96 1120.94L162.37 1119.62L162.78 1118.13L163.19 1116.49L163.60 1114.72L164.01 1112.84L164.43 1110.88L164.84 1108.87L165.25 1106.83L165.66 1104.79L166.07 1102.78L166.48 1100.83L166.89 1098.96L167.30 1097.22L167.71 1095.62L168.12 1094.18L168.54 1092.94L168.95 1091.90L169.36 1091.09L169.77 1090.52L170.18 1090.20L170.59 1090.14L171.00 1090.31L171.41 1090.73L171.82 1091.38L172.23 1092.26L172.65 1093.37L173.06 1094.70L173.47 1096.22L173.88 1097.93L174.29 1099.80L174.70 1101.82L175.11 1103.96L175.52 1106.19L175.93 1108.49L176.34 1110.82L176.76 1113.17L177.17 1115.50L177.58 1117.79L177.99 1119.99L178.40 1122.09L178.81 1124.06L179.22 1125.86L179.63 1127.48L180.04 1128.90L180.45 1130.09L180.87 1131.04L181.28 1131.73L181.69 1132.16L182.10 1132.31L182.51 1132.15L182.92 1131.68L183.33 1130.90L183.74 1129.81L184.15 1128.43L184.56 1126.78L184.98 1124.88L185.39 1122.76L185.80 1120.43L186.21 1117.95L186.62 1115.33L187.03 1112.62L187.44 1109.85L187.85 1107.07L188.26 1104.31L188.67 1101.61L189.09 1099.01L189.50 1096.55L189.91 1094.27L190.32 1092.20L190.73 1090.37L191.14 1088.80L191.55 1087.53L191.96 1086.56L192.37 1085.92L192.78 1085.62L193.20 1085.66L193.61 1086.01L194.02 1086.68L194.43 1087.66L194.84 1088.93L195.25 1090.48L195.66 1092.29L196.07 1094.34L196.48 1096.60L196.90 1099.05L197.31 1101.64L197.72 1104.36L198.13 1107.15L198.54 1109.99L198.95 1112.84L199.36 1115.66L199.77 1118.42L200.18 1121.07L200.59 1123.58L201.01 1125.91L201.42 1128.05L201.83 1129.95L202.24 1131.59L202.65 1132.96L203.06 1134.02L203.47 1134.77L203.88 1135.20L204.29 1135.29L204.70 1135.07L205.12 1134.54L205.53 1133.70L205.94 1132.57L206.35 1131.15L206.76 1129.48L207.17 1127.56L207.58 1125.42L207.99 1123.09L208.40 1120.59L208.81 1117.96L209.23 1115.23L209.64 1112.43L210.05 1109.60L210.46 1106.77L210.87 1103.98L211.28 1101.26L211.69 1098.65L212.10 1096.18L212.51 1093.87L212.92 1091.77L213.34 1089.89L213.75 1088.25L214.16 1086.89L214.57 1085.81L214.98 1085.03L215.39 1084.56L215.80 1084.40L216.21 1084.56L216.62 1085.02L217.03 1085.79L217.45 1086.85L217.86 1088.20L218.27 1089.80L218.68 1091.66L219.09 1093.73L219.50 1096.00L219.91 1098.44L220.32 1101.02L220.73 1103.71L221.14 1106.47L221.56 1109.28L221.97 1112.09L222.38 1114.88L222.79 1117.60L223.20 1120.23L223.61 1122.74L224.02 1125.09L224.43 1127.25L224.84 1129.20L225.25 1130.92L225.67 1132.38L226.08 1133.57L226.49 1134.48L226.90 1135.08L227.31 1135.38L227.72 1135.37L228.13 1135.05L228.54 1134.43L228.95 1133.50L229.36 1132.30L229.78 1130.82L230.19 1129.09L230.60 1127.13L231.01 1124.97L231.42 1122.62L231.83 1120.12L232.24 1117.50L232.65 1114.79L233.06 1112.02L233.47 1109.23L233.89 1106.45L234.30 1103.72L234.71 1101.06L235.12 1098.52L235.53 1096.11L235.94 1093.88L236.35 1091.85L236.76 1090.03L237.17 1088.47L237.58 1087.16L238.00 1086.14L238.41 1085.41L238.82 1084.98L239.23 1084.85L239.64 1085.04L240.05 1085.57L240.46 1086.41L240.87 1087.56L241.28 1089.01L241.69 1090.73L242.11 1092.70L242.52 1094.90L242.93 1097.30L243.34 1099.87L243.75 1102.58L244.16 1105.38L244.57 1108.24L244.98 1111.14L245.39 1114.01L245.81 1116.84L246.22 1119.59L246.63 1122.21L247.04 1124.68L247.45 1126.97L247.86 1129.03L248.27 1130.86L248.68 1132.41L249.09 1133.69L249.50 1134.65L249.92 1135.30L250.33 1135.63L250.74 1135.63L251.15 1135.36L251.56 1134.81L251.97 1134.00L252.38 1132.92L252.79 1131.60L253.20 1130.05L253.61 1128.27L254.03 1126.30L254.44 1124.15L254.85 1121.84L255.26 1119.40L255.67 1116.85L256.08 1114.22L256.49 1111.55L256.90 1108.85L257.31 1106.15L257.72 1103.50L258.14 1100.90L258.55 1098.40L258.96 1096.02L259.37 1093.78L259.78 1091.72L260.19 1089.84L260.60 1088.18L261.01 1086.76L261.42 1085.58L261.83 1084.66L262.25 1084.02L262.66 1083.65L263.07 1083.58L263.48 1083.87L263.89 1084.51L264.30 1085.51L264.71 1086.85L265.12 1088.52L265.53 1090.49L265.94 1092.74L266.36 1095.23L266.77 1097.94L267.18 1100.83L267.59 1103.85L268.00 1106.98L268.41 1110.15L268.82 1113.34L269.23 1116.49L269.64 1119.57L270.05 1122.52L270.47 1125.32L270.88 1127.91L271.29 1130.27L271.70 1132.36L272.11 1134.14L272.52 1135.60L272.93 1136.72L273.34 1137.46L273.75 1137.84L274.16 1137.84L274.58 1137.54L274.99 1136.94L275.40 1136.04L275.81 1134.86L276.22 1133.41L276.63 1131.69L277.04 1129.74L277.45 1127.56L277.86 1125.19L278.27 1122.64L278.69 1119.95L279.10 1117.15L279.51 1114.25L279.92 1111.31L280.33 1108.34L280.74 1105.38L281.15 1102.47L281.56 1099.62L281.97 1096.88L282.38 1094.28L282.80 1091.84L283.21 1089.58L283.62 1087.55L284.03 1085.75L284.44 1084.21L284.85 1082.94L285.26 1081.96L285.67 1081.28L286.08 1080.92L286.49 1080.88L286.91 1081.23L287.32 1081.99L287.73 1083.14L288.14 1084.68L288.55 1086.57L288.96 1088.81L289.37 1091.34L289.78 1094.15L290.19 1097.19L290.60 1100.41L291.02 1103.79L291.43 1107.26L291.84 1110.78L292.25 1114.30L292.66 1117.77L293.07 1121.15L293.48 1124.38L293.89 1127.42L294.30 1130.22L294.71 1132.75L295.13 1134.96L295.54 1136.84L295.95 1138.34L296.36 1139.45L296.77 1140.15L297.18 1140.43L297.59 1140.31L298.00 1139.82L298.41 1138.96L298.83 1137.75L299.24 1136.20L299.65 1134.32L300.06 1132.15L300.47 1129.69L300.88 1127.00L301.29 1124.09L301.70 1121.00L302.11 1117.76L302.52 1114.43L302.94 1111.04L303.35 1107.62L303.76 1104.23L304.17 1100.90L304.58 1097.67L304.99 1094.59L305.40 1091.69L305.81 1089.01L306.22 1086.58L306.63 1084.44L307.05 1082.60L307.46 1081.09L307.87 1079.94L308.28 1079.15L308.69 1078.74L309.10 1078.71L309.51 1079.06L309.92 1079.79L310.33 1080.89L310.74 1082.35L311.16 1084.15L311.57 1086.27L311.98 1088.68L312.39 1091.36L312.80 1094.27L313.21 1097.37L313.62 1100.64L314.03 1104.03L314.44 1107.49L314.85 1110.99L315.27 1114.49L315.68 1117.94L316.09 1121.29L316.50 1124.52L316.91 1127.58L317.32 1130.42L317.73 1133.03L318.14 1135.36L318.55 1137.38L318.96 1139.07L319.38 1140.42L319.79 1141.40L320.20 1141.99L320.61 1142.20L321.02 1142.02L321.43 1141.45L321.84 1140.50L322.25 1139.17L322.66 1137.49L323.07 1135.48L323.49 1133.15L323.90 1130.54L324.31 1127.67L324.72 1124.59L325.13 1121.33L325.54 1117.93L325.95 1114.42L326.36 1110.86L326.77 1107.29L327.18 1103.75L327.60 1100.28L328.01 1096.92L328.42 1093.73L328.83 1090.72L329.24 1087.95L329.65 1085.45L330.06 1083.25L330.47 1081.37L330.88 1079.84L331.29 1078.67L331.71 1077.89L332.12 1077.50L332.53 1077.52L332.94 1078.03L333.35 1079.02L333.76 1080.48L334.17 1082.39L334.58 1084.72L334.99 1087.43L335.40 1090.49L335.82 1093.85L336.23 1097.46L336.64 1101.26L337.05 1105.20L337.46 1109.22L337.87 1113.25L338.28 1117.23L338.69 1121.11L339.10 1124.82L339.51 1128.32L339.93 1131.54L340.34 1134.43L340.75 1136.96L341.16 1139.09L341.57 1140.78L341.98 1142.00L342.39 1142.74L342.80 1142.99L343.21 1142.81L343.62 1142.26L344.04 1141.35L344.45 1140.08L344.86 1138.49L345.27 1136.57L345.68 1134.36L346.09 1131.88L346.50 1129.15L346.91 1126.21L347.32 1123.09L347.73 1119.82L348.15 1116.45L348.56 1113.00L348.97 1109.52L349.38 1106.05L349.79 1102.63L350.20 1099.29L350.61 1096.07L351.02 1093.00L351.43 1090.13L351.85 1087.49L352.26 1085.09L352.67 1082.98L353.08 1081.17L353.49 1079.68L353.90 1078.54L354.31 1077.75L354.72 1077.32L355.13 1077.26L355.54 1077.63L355.96 1078.42L356.37 1079.63L356.78 1081.25L357.19 1083.25L357.60 1085.61L358.01 1088.29L358.42 1091.26L358.83 1094.48L359.24 1097.91L359.65 1101.49L360.07 1105.19L360.48 1108.96L360.89 1112.74L361.30 1116.48L361.71 1120.13L362.12 1123.66L362.53 1127.00L362.94 1130.11L363.35 1132.96L363.76 1135.50L364.18 1137.71L364.59 1139.55L365.00 1140.99L365.41 1142.03L365.82 1142.64L366.23 1142.82L366.64 1142.58L367.05 1141.95L367.46 1140.94L367.87 1139.54L368.29 1137.79L368.70 1135.71L369.11 1133.31L369.52 1130.63L369.93 1127.70L370.34 1124.56L370.75 1121.25L371.16 1117.80L371.57 1114.26L371.98 1110.67L372.40 1107.08L372.81 1103.52L373.22 1100.04L373.63 1096.69L374.04 1093.51L374.45 1090.53L374.86 1087.78L375.27 1085.31L375.68 1083.15L376.09 1081.31L376.51 1079.82L376.92 1078.70L377.33 1077.97L377.74 1077.63L378.15 1077.76L378.56 1078.68L378.97 1080.40L379.38 1082.87L379.79 1086.03L380.20 1089.80L380.62 1094.08L381.03 1098.77L381.44 1103.74L381.85 1108.86L382.26 1114.01L382.67 1119.05L383.08 1123.86L383.49 1128.32L383.90 1132.30L384.31 1135.72L384.73 1138.48L385.14 1140.52L385.55 1141.79L385.96 1142.26L386.37 1142.08L386.78 1141.52L387.19 1140.59L387.60 1139.29L388.01 1137.65L388.42 1135.69L388.84 1133.43L389.25 1130.89L389.66 1128.12L390.07 1125.13L390.48 1121.98L390.89 1118.70L391.30 1115.33L391.71 1111.90L392.12 1108.47L392.53 1105.06L392.95 1101.73L393.36 1098.52L393.77 1095.45L394.18 1092.57L394.59 1089.91L395.00 1087.50L395.41 1085.38L395.82 1083.56L396.23 1082.06L396.64 1080.91L397.06 1080.11L397.47 1079.68L397.88 1079.62L398.29 1079.95L398.70 1080.69L399.11 1081.81L399.52 1083.32L399.93 1085.18L400.34 1087.37L400.75 1089.86L401.17 1092.62L401.58 1095.60L401.99 1098.77L402.40 1102.09L402.81 1105.51L403.22 1108.98L403.63 1112.46L404.04 1115.90L404.45 1119.26L404.87 1122.49L405.28 1125.55L405.69 1128.40L406.10 1131.00L406.51 1133.33L406.92 1135.34L407.33 1137.01L407.74 1138.33L408.15 1139.27L408.56 1139.83L408.98 1140.00L409.39 1139.79L409.80 1139.23L410.21 1138.32L410.62 1137.08L411.03 1135.51L411.44 1133.65L411.85 1131.52L412.26 1129.14L412.67 1126.55L413.09 1123.77L413.50 1120.84L413.91 1117.81L414.32 1114.70L414.73 1111.56L415.14 1108.42L415.55 1105.32L415.96 1102.30L416.37 1099.40L416.78 1096.65L417.20 1094.09L417.61 1091.74L418.02 1089.63L418.43 1087.79L418.84 1086.24L419.25 1085.00L419.66 1084.07L420.07 1083.47L420.48 1083.21L420.89 1083.28L421.31 1083.71L421.72 1084.49L422.13 1085.62L422.54 1087.07L422.95 1088.83L423.36 1090.86L423.77 1093.14L424.18 1095.63L424.59 1098.31L425.00 1101.13L425.42 1104.05L425.83 1107.05L426.24 1110.06L426.65 1113.07L427.06 1116.01L427.47 1118.86L427.88 1121.58L428.29 1124.14L428.70 1126.49L429.11 1128.61L429.53 1130.47L429.94 1132.06L430.35 1133.35L430.76 1134.32L431.17 1134.97L431.58 1135.28L431.99 1135.27L432.40 1134.91L432.81 1134.23L433.22 1133.22L433.64 1131.90L434.05 1130.30L434.46 1128.44L434.87 1126.34L435.28 1124.05L435.69 1121.59L436.10 1119.00L436.51 1116.31L436.92 1113.57L437.33 1110.82L437.75 1108.08L438.16 1105.40L438.57 1102.82L438.98 1100.37L439.39 1098.09L439.80 1096.00L440.21 1094.12L440.62 1092.50L441.03 1091.13L441.44 1090.05L441.86 1089.26L442.27 1088.77L442.68 1088.58L443.09 1088.69L443.50 1089.10L443.91 1089.79L444.32 1090.76L444.73 1091.99L445.14 1093.45L445.55 1095.12L445.97 1096.98L446.38 1099.00L446.79 1101.14L447.20 1103.37L447.61 1105.67L448.02 1107.99L448.43 1110.31L448.84 1112.59L449.25 1114.80L449.66 1116.91L450.08 1118.89L450.49 1120.72L450.90 1122.36L451.31 1123.82L451.72 1125.05L452.13 1126.06L452.54 1126.82L452.95 1127.35L453.36 1127.62L453.77 1127.64L454.19 1127.42L454.60 1126.94L455.01 1126.22L455.42 1125.28L455.83 1124.13L456.24 1122.80L456.65 1121.31L457.06 1119.68L457.47 1117.94L457.89 1116.13L458.30 1114.27L458.71 1112.39L459.12 1110.52L459.53 1108.68L459.94 1106.92L460.35 1105.24L460.76 1103.67L461.17 1102.24L461.58 1100.96L462.00 1099.85L462.41 1098.92L462.82 1098.17L463.23 1097.62L463.64 1097.27L464.05 1097.11L464.46 1097.15L464.87 1097.37L465.28 1097.78L465.69 1098.37L466.11 1099.13L466.52 1100.02L466.93 1101.04L467.34 1102.16L467.75 1103.36L468.16 1104.61L468.57 1105.89L468.98 1107.18L469.39 1108.45L469.80 1109.68L470.22 1110.86L470.63 1111.96L471.04 1112.97L471.45 1113.87L471.86 1114.66L472.27 1115.32L472.68 1115.85L473.09 1116.26L473.50 1116.52L473.91 1116.66L474.33 1116.68L474.74 1116.57L475.15 1116.36L475.56 1116.04L475.97 1115.63L476.38 1115.15L476.79 1114.60L477.20 1114.00L477.61 1113.37L478.02 1112.73L478.44 1112.08L478.85 1111.45L479.26 1110.84L479.67 1110.26L480.08 1109.74L480.49 1109.26L480.90 1108.86L481.31 1108.52L481.72 1108.24L482.13 1108.05L482.55 1107.92L482.96 1107.86L483.37 1107.87L483.78 1107.93L484.19 1108.05L484.60 1108.21L485.01 1108.41L485.42 1108.62L485.83 1108.83L486.24 1109.04L486.66 1109.25L487.07 1109.45L487.48 1109.65L487.89 1109.84L488.30 1110.02L488.71 1110.18L489.12 1110.33L489.53 1110.45L489.94 1110.54L490.35 1110.60L490.77 1110.62L491.18 1110.60L491.59 1110.54L492.00 1110.44L492.41 1110.30L492.82 1110.12L493.23 1109.89L493.64 1109.62L494.05 1109.32L494.46 1108.98L494.88 1108.61L495.29 1108.21L495.70 1107.79L496.11 1107.35L496.52 1106.89L496.93 1106.43L497.34 1105.98L497.75 1105.52L498.16 1105.09L498.57 1104.67L498.99 1104.28L499.40 1103.92L499.81 1103.60L500.22 1103.33L500.63 1103.16L501.04 1103.13L501.45 1103.24L501.86 1103.49L502.27 1103.90L502.68 1104.45L503.10 1105.15L503.51 1105.99L503.92 1106.96L504.33 1108.05L504.74 1109.24L505.15 1110.51L505.56 1111.84L505.97 1113.21L506.38 1114.59L506.79 1115.96L507.21 1117.29L507.62 1118.55L508.03 1119.72L508.44 1120.76L508.85 1121.66L509.26 1122.39L509.67 1122.92L510.08 1123.25L510.49 1123.39L510.91 1123.34L511.32 1123.09L511.73 1122.65L512.14 1122.01L512.55 1121.17L512.96 1120.13L513.37 1118.91L513.78 1117.51L514.19 1115.94L514.60 1114.23L515.02 1112.39L515.43 1110.45L515.84 1108.43L516.25 1106.35L516.66 1104.24L517.07 1102.14L517.48 1100.07L517.89 1098.07L518.30 1096.17L518.71 1094.39L519.13 1092.76L519.54 1091.33L519.95 1090.10L520.36 1089.11L520.77 1088.37L521.18 1087.91L521.59 1087.74L522.00 1087.87L522.41 1088.30L522.82 1089.04L523.24 1090.08L523.65 1091.42L524.06 1093.05L524.47 1094.95L524.88 1097.10L525.29 1099.49L525.70 1102.08L526.11 1104.83L526.52 1107.73L526.93 1110.72L527.35 1113.77L527.76 1116.84L528.17 1119.88L528.58 1122.86L528.99 1125.72L529.40 1128.43L529.81 1130.94L530.22 1133.22L530.63 1135.23L531.04 1136.92L531.46 1138.28L531.87 1139.28L532.28 1139.89L532.69 1140.09L533.10 1139.80L533.51 1139.03L533.92 1137.77L534.33 1136.04L534.74 1133.85L535.15 1131.23L535.57 1128.22L535.98 1124.85L536.39 1121.18L536.80 1117.26L537.21 1113.15L537.62 1108.91L538.03 1104.61L538.44 1100.31L538.85 1096.09L539.26 1092.01L539.68 1088.15L540.09 1084.57L540.50 1081.34L540.91 1078.50L541.32 1076.12L541.73 1074.25L542.14 1072.91L542.55 1072.13L542.96 1071.93L543.37 1072.26L543.79 1073.10L544.20 1074.45L544.61 1076.31L545.02 1078.66L545.43 1081.47L545.84 1084.70L546.25 1088.32L546.66 1092.29L547.07 1096.55L547.48 1101.05L547.90 1105.73L548.31 1110.52L548.72 1115.36L549.13 1120.19L549.54 1124.94L549.95 1129.54L550.36 1133.92L550.77 1138.02L551.18 1141.79L551.59 1145.16L552.01 1148.08L552.42 1150.51L552.83 1152.40L553.24 1153.74L553.65 1154.48L554.06 1154.62L554.47 1154.19L554.88 1153.17L555.29 1151.58L555.70 1149.43L556.12 1146.75L556.53 1143.56L556.94 1139.90L557.35 1135.81L557.76 1131.35L558.17 1126.57L558.58 1121.53L558.99 1116.28L559.40 1110.91L559.82 1105.47L560.23 1100.03L560.64 1094.68L561.05 1089.47L561.46 1084.49L561.87 1079.78L562.28 1075.43L562.69 1071.49L563.10 1068.00L563.51 1065.03L563.93 1062.62L564.34 1060.79L564.75 1059.59L565.16 1059.02L565.57 1059.11L565.98 1059.86L566.39 1061.27L566.80 1063.33L567.21 1066.00L567.62 1069.27L568.04 1073.08L568.45 1077.41L568.86 1082.18L569.27 1087.34L569.68 1092.83L570.09 1098.58L570.50 1104.50L570.91 1110.53L571.32 1116.58L571.73 1122.58L572.15 1128.44L572.56 1134.09L572.97 1139.46L573.38 1144.46L573.79 1149.03L574.20 1153.10L574.61 1156.63L575.02 1159.56L575.43 1161.86L575.84 1163.47L576.26 1164.39L576.67 1164.58L577.08 1163.85L577.49 1162.18L577.90 1159.58L578.31 1156.11L578.72 1151.81L579.13 1146.76L579.54 1141.03L579.95 1134.73L580.37 1127.97L580.78 1120.86L581.19 1113.52L581.60 1106.07L582.01 1098.66L582.42 1091.41L582.83 1084.44L583.24 1077.88L583.65 1071.85L584.06 1066.45L584.48 1061.79L584.89 1057.94L585.30 1054.98L585.71 1052.97L586.12 1051.94L586.53 1051.87L586.94 1052.60L587.35 1054.10L587.76 1056.34L588.17 1059.31L588.59 1062.96L589.00 1067.25L589.41 1072.12L589.82 1077.52L590.23 1083.36L590.64 1089.58L591.05 1096.10L591.46 1102.81L591.87 1109.65L592.28 1116.50L592.70 1123.30L593.11 1129.93L593.52 1136.31L593.93 1142.35L594.34 1147.98L594.75 1153.11L595.16 1157.67L595.57 1161.61L595.98 1164.86L596.39 1167.38L596.81 1169.13L597.22 1170.10L597.63 1170.26L598.04 1169.65L598.45 1168.28L598.86 1166.17L599.27 1163.36L599.68 1159.86L600.09 1155.74L600.50 1151.04L600.92 1145.82L601.33 1140.16L601.74 1134.11L602.15 1127.76L602.56 1121.19L602.97 1114.48L603.38 1107.72L603.79 1101.00L604.20 1094.39L604.61 1087.99L605.03 1081.87L605.44 1076.11L605.85 1070.79L606.26 1065.97L606.67 1061.70L607.08 1058.05L607.49 1055.06L607.90 1052.77L608.31 1051.19L608.72 1050.36L609.14 1050.29L609.55 1050.97L609.96 1052.40L610.37 1054.57L610.78 1057.45L611.19 1060.98L611.60 1065.14L612.01 1069.86L612.42 1075.08L612.84 1080.74L613.25 1086.77L613.66 1093.08L614.07 1099.59L614.48 1106.21L614.89 1112.87L615.30 1119.47L615.71 1125.92L616.12 1132.16L616.53 1138.08L616.95 1143.63L617.36 1148.73L617.77 1153.31L618.18 1157.32L618.59 1160.71L619.00 1163.44L619.41 1165.47L619.82 1166.79L620.23 1167.37L620.64 1167.20L621.06 1166.21L621.47 1164.39L621.88 1161.79L622.29 1158.45L622.70 1154.42L623.11 1149.76L623.52 1144.55L623.93 1138.86L624.34 1132.79L624.75 1126.41L625.17 1119.84L625.58 1113.16L625.99 1106.48L626.40 1099.89L626.81 1093.49L627.22 1087.37L627.63 1081.62L628.04 1076.32L628.45 1071.55L628.86 1067.38L629.28 1063.85L629.69 1061.02L630.10 1058.92L630.51 1057.57L630.92 1057.00L631.33 1057.20L631.74 1058.14L632.15 1059.78L632.56 1062.10L632.97 1065.07L633.39 1068.63L633.80 1072.74L634.21 1077.34L634.62 1082.35L635.03 1087.70L635.44 1093.32L635.85 1099.13L636.26 1105.04L636.67 1110.97L637.08 1116.84L637.50 1122.57L637.91 1128.08L638.32 1133.29L638.73 1138.14L639.14 1142.56L639.55 1146.49L639.96 1149.89L640.37 1152.71L640.78 1154.91L641.19 1156.47L641.61 1157.38L642.02 1157.63L642.43 1157.20L642.84 1156.07L643.25 1154.26L643.66 1151.80L644.07 1148.74L644.48 1145.12L644.89 1141.01L645.30 1136.47L645.72 1131.57L646.13 1126.40L646.54 1121.01L646.95 1115.51L647.36 1109.97L647.77 1104.48L648.18 1099.12L648.59 1093.96L649.00 1089.08L649.41 1084.56L649.83 1080.45L650.24 1076.80L650.65 1073.68L651.06 1071.13L651.47 1069.16L651.88 1067.81L652.29 1067.09L652.70 1067.00L653.11 1067.48L653.52 1068.44L653.94 1069.87L654.35 1071.75L654.76 1074.05L655.17 1076.73L655.58 1079.76L655.99 1083.10L656.40 1086.71L656.81 1090.53L657.22 1094.52L657.63 1098.63L658.05 1102.80L658.46 1106.99L658.87 1111.15L659.28 1115.22L659.69 1119.16L660.10 1122.92L660.51 1126.45L660.92 1129.73L661.33 1132.71L661.74 1135.37L662.16 1137.67L662.57 1139.59L662.98 1141.11L663.39 1142.23L663.80 1142.94" fill="none" stroke="#000000" stroke-width="2.45" stroke-linejoin="round" stroke-linecap="round" clip-path="url(#cpg)"/>
<path d="M88.80 1077.60L89.96 1078.80L91.11 1079.96L92.27 1081.07L93.43 1082.11L94.58 1083.09L95.74 1084.02L96.90 1084.92L98.06 1085.80L99.21 1086.65L100.37 1087.50L101.53 1088.35L102.68 1089.21L103.84 1090.10L105.00 1091.01L106.15 1091.93L107.31 1092.85L108.47 1093.75L109.62 1094.63L110.78 1095.48L111.94 1096.29L113.10 1097.03L114.25 1097.72L115.41 1098.32L116.57 1098.85L117.72 1099.38L118.88 1099.91L120.04 1100.43L121.19 1100.94L122.35 1101.44L123.51 1101.90L124.66 1102.34L125.82 1102.73L126.98 1103.08L128.14 1103.38L129.29 1103.61L130.45 1103.78L131.61 1103.88L132.76 1103.89L133.92 1103.82L135.08 1103.65L136.23 1103.41L137.39 1103.10L138.55 1102.74L139.70 1102.34L140.86 1101.90L142.02 1101.46L143.17 1101.00L144.33 1100.55L145.49 1100.12L146.65 1099.72L147.80 1099.30L148.96 1098.85L150.12 1098.38L151.27 1097.88L152.43 1097.36L153.59 1096.83L154.74 1096.30L155.90 1095.75L157.06 1095.21L158.21 1094.66L159.37 1094.13L160.53 1093.61L161.69 1093.10L162.84 1092.61L164.00 1092.15L165.16 1091.72L166.31 1091.32L167.47 1090.95L168.63 1090.62L169.78 1090.30L170.94 1089.98L172.10 1089.67L173.25 1089.36L174.41 1089.05L175.57 1088.76L176.73 1088.46L177.88 1088.18L179.04 1087.91L180.20 1087.64L181.35 1087.39L182.51 1087.15L183.67 1086.91L184.82 1086.70L185.98 1086.49L187.14 1086.30L188.29 1086.13L189.45 1085.97L190.61 1085.83L191.77 1085.70L192.92 1085.60L194.08 1085.50L195.24 1085.41L196.39 1085.32L197.55 1085.23L198.71 1085.14L199.86 1085.05L201.02 1084.97L202.18 1084.90L203.33 1084.82L204.49 1084.75L205.65 1084.69L206.81 1084.63L207.96 1084.58L209.12 1084.53L210.28 1084.49L211.43 1084.46L212.59 1084.43L213.75 1084.41L214.90 1084.40L216.06 1084.40L217.22 1084.40L218.37 1084.41L219.53 1084.42L220.69 1084.44L221.85 1084.46L223.00 1084.48L224.16 1084.50L225.32 1084.52L226.47 1084.55L227.63 1084.58L228.79 1084.61L229.94 1084.64L231.10 1084.67L232.26 1084.70L233.41 1084.73L234.57 1084.75L235.73 1084.78L236.88 1084.81L238.04 1084.83L239.20 1084.85L240.36 1084.87L241.51 1084.88L242.67 1084.89L243.83 1084.90L244.98 1084.90L246.14 1084.89L247.30 1084.87L248.45 1084.84L249.61 1084.79L250.77 1084.73L251.92 1084.66L253.08 1084.58L254.24 1084.49L255.40 1084.39L256.55 1084.28L257.71 1084.16L258.87 1084.04L260.02 1083.91L261.18 1083.78L262.34 1083.64L263.49 1083.50L264.65 1083.36L265.81 1083.21L266.96 1083.06L268.12 1082.91L269.28 1082.76L270.44 1082.61L271.59 1082.46L272.75 1082.32L273.91 1082.18L275.06 1082.04L276.22 1081.90L277.38 1081.77L278.53 1081.65L279.69 1081.53L280.85 1081.42L282.00 1081.30L283.16 1081.18L284.32 1081.06L285.48 1080.94L286.63 1080.81L287.79 1080.69L288.95 1080.56L290.10 1080.44L291.26 1080.31L292.42 1080.18L293.57 1080.06L294.73 1079.93L295.89 1079.81L297.04 1079.69L298.20 1079.57L299.36 1079.46L300.52 1079.35L301.67 1079.24L302.83 1079.14L303.99 1079.04L305.14 1078.94L306.30 1078.85L307.46 1078.77L308.61 1078.69L309.77 1078.62L310.93 1078.55L312.08 1078.49L313.24 1078.42L314.40 1078.35L315.56 1078.29L316.71 1078.22L317.87 1078.16L319.03 1078.09L320.18 1078.03L321.34 1077.96L322.50 1077.90L323.65 1077.84L324.81 1077.78L325.97 1077.73L327.12 1077.67L328.28 1077.62L329.44 1077.57L330.59 1077.52L331.75 1077.48L332.91 1077.43L334.07 1077.39L335.22 1077.36L336.38 1077.32L337.54 1077.29L338.69 1077.27L339.85 1077.25L341.01 1077.23L342.16 1077.22L343.32 1077.21L344.48 1077.20L345.63 1077.20L346.79 1077.20L347.95 1077.20L349.11 1077.21L350.26 1077.21L351.42 1077.22L352.58 1077.22L353.73 1077.23L354.89 1077.24L356.05 1077.25L357.20 1077.26L358.36 1077.27L359.52 1077.28L360.67 1077.29L361.83 1077.31L362.99 1077.32L364.15 1077.34L365.30 1077.36L366.46 1077.38L367.62 1077.39L368.77 1077.41L369.93 1077.43L371.09 1077.46L372.24 1077.48L373.40 1077.50L374.56 1077.53L375.71 1077.55L376.87 1077.58L378.03 1077.60L379.19 1077.64L380.34 1077.69L381.50 1077.76L382.66 1077.85L383.81 1077.94L384.97 1078.05L386.13 1078.17L387.28 1078.29L388.44 1078.42L389.60 1078.56L390.75 1078.70L391.91 1078.85L393.07 1079.00L394.23 1079.15L395.38 1079.30L396.54 1079.44L397.70 1079.59L398.85 1079.73L400.01 1079.88L401.17 1080.03L402.32 1080.18L403.48 1080.34L404.64 1080.51L405.79 1080.68L406.95 1080.85L408.11 1081.02L409.27 1081.20L410.42 1081.39L411.58 1081.58L412.74 1081.77L413.89 1081.97L415.05 1082.17L416.21 1082.37L417.36 1082.58L418.52 1082.79L419.68 1083.01L420.83 1083.23L421.99 1083.45L423.15 1083.68L424.31 1083.92L425.46 1084.16L426.62 1084.41L427.78 1084.66L428.93 1084.92L430.09 1085.19L431.25 1085.46L432.40 1085.74L433.56 1086.03L434.72 1086.32L435.87 1086.62L437.03 1086.93L438.19 1087.24L439.34 1087.56L440.50 1087.89L441.66 1088.23L442.82 1088.57L443.97 1088.93L445.13 1089.30L446.29 1089.69L447.44 1090.08L448.60 1090.49L449.76 1090.92L450.91 1091.35L452.07 1091.80L453.23 1092.26L454.38 1092.73L455.54 1093.20L456.70 1093.69L457.86 1094.18L459.01 1094.68L460.17 1095.19L461.33 1095.71L462.48 1096.23L463.64 1096.76L464.80 1097.29L465.95 1097.84L467.11 1098.42L468.27 1099.02L469.42 1099.64L470.58 1100.27L471.74 1100.92L472.90 1101.58L474.05 1102.25L475.21 1102.92L476.37 1103.59L477.52 1104.27L478.68 1104.93L479.84 1105.60L480.99 1106.25L482.15 1106.89L483.31 1107.52L484.46 1108.13L485.62 1108.71L486.78 1109.25L487.94 1109.81L489.09 1110.43L490.25 1111.10L491.41 1111.82L492.56 1112.58L493.72 1113.35L494.88 1114.14L496.03 1114.92L497.19 1115.70L498.35 1116.46L499.50 1117.20L500.66 1117.89L501.82 1118.56L502.98 1119.20L504.13 1119.84L505.29 1120.47L506.45 1121.10L507.60 1121.76L508.76 1122.43L509.92 1123.15L511.07 1123.90L512.23 1124.68L513.39 1125.48L514.54 1126.31L515.70 1127.16L516.86 1128.02L518.02 1128.90L519.17 1129.80L520.33 1130.70L521.49 1131.61L522.64 1132.52L523.80 1133.44L524.96 1134.35L526.11 1135.26L527.27 1136.16L528.43 1137.05L529.58 1137.93L530.74 1138.79L531.90 1139.64L533.05 1140.47L534.21 1141.31L535.37 1142.15L536.53 1142.99L537.68 1143.84L538.84 1144.69L540.00 1145.54L541.15 1146.38L542.31 1147.21L543.47 1148.04L544.62 1148.85L545.78 1149.65L546.94 1150.43L548.09 1151.19L549.25 1151.93L550.41 1152.65L551.57 1153.34L552.72 1154.01L553.88 1154.64L555.04 1155.26L556.19 1155.86L557.35 1156.46L558.51 1157.04L559.66 1157.62L560.82 1158.18L561.98 1158.73L563.13 1159.27L564.29 1159.80L565.45 1160.32L566.61 1160.82L567.76 1161.31L568.92 1161.79L570.08 1162.26L571.23 1162.71L572.39 1163.15L573.55 1163.58L574.70 1163.99L575.86 1164.39L577.02 1164.77L578.17 1165.17L579.33 1165.58L580.49 1165.99L581.65 1166.41L582.80 1166.82L583.96 1167.23L585.12 1167.63L586.27 1168.02L587.43 1168.39L588.59 1168.74L589.74 1169.07L590.90 1169.36L592.06 1169.63L593.21 1169.85L594.37 1170.04L595.53 1170.17L596.69 1170.26L597.84 1170.30L599.00 1170.29L600.16 1170.26L601.31 1170.21L602.47 1170.14L603.63 1170.06L604.78 1169.95L605.94 1169.83L607.10 1169.70L608.25 1169.55L609.41 1169.38L610.57 1169.21L611.73 1169.03L612.88 1168.83L614.04 1168.63L615.20 1168.42L616.35 1168.20L617.51 1167.97L618.67 1167.75L619.82 1167.52L620.98 1167.28L622.14 1166.99L623.29 1166.66L624.45 1166.29L625.61 1165.88L626.76 1165.42L627.92 1164.94L629.08 1164.43L630.24 1163.89L631.39 1163.32L632.55 1162.74L633.71 1162.14L634.86 1161.53L636.02 1160.90L637.18 1160.27L638.33 1159.64L639.49 1159.01L640.65 1158.38L641.80 1157.76L642.96 1157.14L644.12 1156.51L645.28 1155.86L646.43 1155.20L647.59 1154.52L648.75 1153.83L649.90 1153.13L651.06 1152.41L652.22 1151.68L653.37 1150.94L654.53 1150.19L655.69 1149.42L656.84 1148.64L658.00 1147.85L659.16 1147.05L660.32 1146.23L661.47 1145.41L662.63 1144.57L663.79 1143.72L664.94 1142.87L666.10 1142.00" fill="none" stroke="#0000ff" stroke-width="1.80" stroke-linejoin="round" stroke-linecap="round" clip-path="url(#cpg)"/>
<path d="M88.80 1141.20L89.96 1140.28L91.11 1139.38L92.27 1138.48L93.43 1137.60L94.58 1136.74L95.74 1135.89L96.90 1135.05L98.06 1134.22L99.21 1133.41L100.37 1132.61L101.53 1131.82L102.68 1131.05L103.84 1130.29L105.00 1129.54L106.15 1128.80L107.31 1128.06L108.47 1127.34L109.62 1126.63L110.78 1125.93L111.94 1125.26L113.10 1124.61L114.25 1123.98L115.41 1123.39L116.57 1122.82L117.72 1122.23L118.88 1121.62L120.04 1121.00L121.19 1120.38L122.35 1119.76L123.51 1119.16L124.66 1118.59L125.82 1118.05L126.98 1117.56L128.14 1117.12L129.29 1116.75L130.45 1116.45L131.61 1116.24L132.76 1116.12L133.92 1116.11L135.08 1116.21L136.23 1116.42L137.39 1116.72L138.55 1117.09L139.70 1117.52L140.86 1117.98L142.02 1118.46L143.17 1118.95L144.33 1119.43L145.49 1119.88L146.65 1120.28L147.80 1120.67L148.96 1121.07L150.12 1121.48L151.27 1121.89L152.43 1122.30L153.59 1122.72L154.74 1123.13L155.90 1123.54L157.06 1123.95L158.21 1124.36L159.37 1124.76L160.53 1125.16L161.69 1125.58L162.84 1126.01L164.00 1126.44L165.16 1126.88L166.31 1127.32L167.47 1127.76L168.63 1128.20L169.78 1128.63L170.94 1129.06L172.10 1129.47L173.25 1129.87L174.41 1130.26L175.57 1130.64L176.73 1130.99L177.88 1131.32L179.04 1131.63L180.20 1131.92L181.35 1132.17L182.51 1132.40L183.67 1132.62L184.82 1132.84L185.98 1133.06L187.14 1133.28L188.29 1133.49L189.45 1133.70L190.61 1133.90L191.77 1134.09L192.92 1134.28L194.08 1134.45L195.24 1134.61L196.39 1134.76L197.55 1134.89L198.71 1135.00L199.86 1135.10L201.02 1135.18L202.18 1135.24L203.33 1135.28L204.49 1135.30L205.65 1135.31L206.81 1135.32L207.96 1135.33L209.12 1135.34L210.28 1135.35L211.43 1135.36L212.59 1135.36L213.75 1135.37L214.90 1135.38L216.06 1135.38L217.22 1135.38L218.37 1135.39L219.53 1135.39L220.69 1135.39L221.85 1135.40L223.00 1135.40L224.16 1135.40L225.32 1135.41L226.47 1135.41L227.63 1135.41L228.79 1135.41L229.94 1135.42L231.10 1135.42L232.26 1135.42L233.41 1135.43L234.57 1135.43L235.73 1135.44L236.88 1135.44L238.04 1135.45L239.20 1135.46L240.36 1135.46L241.51 1135.47L242.67 1135.48L243.83 1135.49L244.98 1135.50L246.14 1135.52L247.30 1135.54L248.45 1135.58L249.61 1135.63L250.77 1135.68L251.92 1135.75L253.08 1135.82L254.24 1135.90L255.40 1135.98L256.55 1136.07L257.71 1136.17L258.87 1136.28L260.02 1136.38L261.18 1136.50L262.34 1136.61L263.49 1136.73L264.65 1136.86L265.81 1136.98L266.96 1137.11L268.12 1137.24L269.28 1137.37L270.44 1137.49L271.59 1137.62L272.75 1137.75L273.91 1137.88L275.06 1138.00L276.22 1138.12L277.38 1138.24L278.53 1138.36L279.69 1138.47L280.85 1138.58L282.00 1138.70L283.16 1138.82L284.32 1138.94L285.48 1139.07L286.63 1139.20L287.79 1139.33L288.95 1139.46L290.10 1139.60L291.26 1139.74L292.42 1139.87L293.57 1140.01L294.73 1140.15L295.89 1140.28L297.04 1140.41L298.20 1140.54L299.36 1140.67L300.52 1140.79L301.67 1140.91L302.83 1141.03L303.99 1141.13L305.14 1141.24L306.30 1141.33L307.46 1141.42L308.61 1141.51L309.77 1141.58L310.93 1141.65L312.08 1141.72L313.24 1141.78L314.40 1141.85L315.56 1141.92L316.71 1141.98L317.87 1142.05L319.03 1142.12L320.18 1142.18L321.34 1142.24L322.50 1142.30L323.65 1142.36L324.81 1142.42L325.97 1142.48L327.12 1142.53L328.28 1142.59L329.44 1142.64L330.59 1142.68L331.75 1142.73L332.91 1142.77L334.07 1142.81L335.22 1142.85L336.38 1142.88L337.54 1142.91L338.69 1142.93L339.85 1142.95L341.01 1142.97L342.16 1142.99L343.32 1142.99L344.48 1143.00L345.63 1143.00L346.79 1143.00L347.95 1143.00L349.11 1142.99L350.26 1142.99L351.42 1142.98L352.58 1142.98L353.73 1142.97L354.89 1142.96L356.05 1142.95L357.20 1142.94L358.36 1142.93L359.52 1142.91L360.67 1142.90L361.83 1142.88L362.99 1142.87L364.15 1142.85L365.30 1142.83L366.46 1142.82L367.62 1142.80L368.77 1142.78L369.93 1142.76L371.09 1142.74L372.24 1142.71L373.40 1142.69L374.56 1142.67L375.71 1142.65L376.87 1142.62L378.03 1142.60L379.19 1142.57L380.34 1142.53L381.50 1142.49L382.66 1142.44L383.81 1142.38L384.97 1142.32L386.13 1142.25L387.28 1142.17L388.44 1142.09L389.60 1142.01L390.75 1141.92L391.91 1141.82L393.07 1141.72L394.23 1141.62L395.38 1141.51L396.54 1141.40L397.70 1141.28L398.85 1141.16L400.01 1141.04L401.17 1140.91L402.32 1140.78L403.48 1140.65L404.64 1140.52L405.79 1140.38L406.95 1140.25L408.11 1140.11L409.27 1139.97L410.42 1139.82L411.58 1139.65L412.74 1139.48L413.89 1139.29L415.05 1139.10L416.21 1138.89L417.36 1138.67L418.52 1138.44L419.68 1138.21L420.83 1137.96L421.99 1137.71L423.15 1137.45L424.31 1137.18L425.46 1136.91L426.62 1136.63L427.78 1136.35L428.93 1136.06L430.09 1135.77L431.25 1135.47L432.40 1135.17L433.56 1134.86L434.72 1134.53L435.87 1134.19L437.03 1133.84L438.19 1133.48L439.34 1133.11L440.50 1132.73L441.66 1132.33L442.82 1131.93L443.97 1131.51L445.13 1131.09L446.29 1130.65L447.44 1130.21L448.60 1129.76L449.76 1129.30L450.91 1128.84L452.07 1128.36L453.23 1127.88L454.38 1127.39L455.54 1126.88L456.70 1126.33L457.86 1125.77L459.01 1125.18L460.17 1124.57L461.33 1123.95L462.48 1123.32L463.64 1122.67L464.80 1122.02L465.95 1121.37L467.11 1120.71L468.27 1120.06L469.42 1119.41L470.58 1118.77L471.74 1118.14L472.90 1117.52L474.05 1116.93L475.21 1116.35L476.37 1115.79L477.52 1115.24L478.68 1114.71L479.84 1114.18L480.99 1113.66L482.15 1113.14L483.31 1112.61L484.46 1112.08L485.62 1111.53L486.78 1110.97L487.94 1110.39L489.09 1109.79L490.25 1109.18L491.41 1108.55L492.56 1107.91L493.72 1107.26L494.88 1106.59L496.03 1105.91L497.19 1105.21L498.35 1104.50L499.50 1103.78L500.66 1103.04L501.82 1102.28L502.98 1101.49L504.13 1100.69L505.29 1099.87L506.45 1099.04L507.60 1098.19L508.76 1097.33L509.92 1096.46L511.07 1095.59L512.23 1094.71L513.39 1093.82L514.54 1092.93L515.70 1092.05L516.86 1091.16L518.02 1090.28L519.17 1089.41L520.33 1088.55L521.49 1087.69L522.64 1086.83L523.80 1085.96L524.96 1085.08L526.11 1084.20L527.27 1083.31L528.43 1082.42L529.58 1081.53L530.74 1080.64L531.90 1079.75L533.05 1078.87L534.21 1078.00L535.37 1077.14L536.53 1076.29L537.68 1075.45L538.84 1074.62L540.00 1073.81L541.15 1073.02L542.31 1072.25L543.47 1071.50L544.62 1070.75L545.78 1070.00L546.94 1069.25L548.09 1068.51L549.25 1067.78L550.41 1067.05L551.57 1066.33L552.72 1065.62L553.88 1064.92L555.04 1064.23L556.19 1063.56L557.35 1062.91L558.51 1062.27L559.66 1061.65L560.82 1061.06L561.98 1060.48L563.13 1059.93L564.29 1059.40L565.45 1058.89L566.61 1058.40L567.76 1057.92L568.92 1057.44L570.08 1056.98L571.23 1056.52L572.39 1056.07L573.55 1055.63L574.70 1055.21L575.86 1054.79L577.02 1054.40L578.17 1054.01L579.33 1053.64L580.49 1053.29L581.65 1052.96L582.80 1052.64L583.96 1052.34L585.12 1052.06L586.27 1051.81L587.43 1051.56L588.59 1051.30L589.74 1051.04L590.90 1050.79L592.06 1050.55L593.21 1050.32L594.37 1050.12L595.53 1049.94L596.69 1049.79L597.84 1049.69L599.00 1049.62L600.16 1049.60L601.31 1049.62L602.47 1049.66L603.63 1049.72L604.78 1049.80L605.94 1049.90L607.10 1050.02L608.25 1050.14L609.41 1050.28L610.57 1050.42L611.73 1050.56L612.88 1050.73L614.04 1050.94L615.20 1051.19L616.35 1051.48L617.51 1051.81L618.67 1052.17L619.82 1052.56L620.98 1052.97L622.14 1053.40L623.29 1053.85L624.45 1054.31L625.61 1054.78L626.76 1055.25L627.92 1055.73L629.08 1056.20L630.24 1056.66L631.39 1057.11L632.55 1057.57L633.71 1058.03L634.86 1058.51L636.02 1058.99L637.18 1059.48L638.33 1059.98L639.49 1060.49L640.65 1061.01L641.80 1061.54L642.96 1062.08L644.12 1062.63L645.28 1063.18L646.43 1063.75L647.59 1064.33L648.75 1064.92L649.90 1065.51L651.06 1066.12L652.22 1066.74L653.37 1067.37L654.53 1068.02L655.69 1068.69L656.84 1069.39L658.00 1070.10L659.16 1070.83L660.32 1071.58L661.47 1072.34L662.63 1073.11L663.79 1073.90L664.94 1074.69L666.10 1075.50" fill="none" stroke="#0000ff" stroke-width="1.80" stroke-linejoin="round" stroke-linecap="round" clip-path="url(#cpg)"/>
<rect x="88.45" y="31.10" width="578.45" height="154.00" fill="none" stroke="#1c1c1c" stroke-width="1.75"/>
<path d="M89.35 31.10H666.00" stroke="#646464" stroke-width="1.75"/>
<path d="M88.45 56.00H94.75M666.90 56.00H660.60" stroke="#1c1c1c" stroke-width="1.75"/>
<path d="M88.45 107.70H94.75M666.90 107.70H660.60" stroke="#1c1c1c" stroke-width="1.75"/>
<path d="M88.45 159.30H94.75M666.90 159.30H660.60" stroke="#1c1c1c" stroke-width="1.75"/>
<rect x="88.45" y="196.80" width="578.45" height="156.00" fill="none" stroke="#1c1c1c" stroke-width="1.75"/>
<path d="M88.45 207.00H94.75M666.90 207.00H660.60" stroke="#1c1c1c" stroke-width="1.75"/>
<path d="M88.45 248.70H94.75M666.90 248.70H660.60" stroke="#1c1c1c" stroke-width="1.75"/>
<path d="M88.45 290.40H94.75M666.90 290.40H660.60" stroke="#1c1c1c" stroke-width="1.75"/>
<path d="M88.45 332.10H94.75M666.90 332.10H660.60" stroke="#1c1c1c" stroke-width="1.75"/>
<rect x="88.45" y="365.00" width="578.45" height="153.60" fill="none" stroke="#1c1c1c" stroke-width="1.75"/>
<path d="M88.45 386.90H94.75M666.90 386.90H660.60" stroke="#1c1c1c" stroke-width="1.75"/>
<path d="M88.45 418.40H94.75M666.90 418.40H660.60" stroke="#1c1c1c" stroke-width="1.75"/>
<path d="M88.45 449.90H94.75M666.90 449.90H660.60" stroke="#1c1c1c" stroke-width="1.75"/>
<path d="M88.45 481.30H94.75M666.90 481.30H660.60" stroke="#1c1c1c" stroke-width="1.75"/>
<rect x="88.45" y="531.50" width="578.45" height="155.20" fill="none" stroke="#1c1c1c" stroke-width="1.75"/>
<path d="M88.45 553.60H94.75M666.90 553.60H660.60" stroke="#1c1c1c" stroke-width="1.75"/>
<path d="M88.45 585.00H94.75M666.90 585.00H660.60" stroke="#1c1c1c" stroke-width="1.75"/>
<path d="M88.45 616.40H94.75M666.90 616.40H660.60" stroke="#1c1c1c" stroke-width="1.75"/>
<path d="M88.45 647.80H94.75M666.90 647.80H660.60" stroke="#1c1c1c" stroke-width="1.75"/>
<rect x="88.45" y="699.60" width="578.45" height="154.00" fill="none" stroke="#1c1c1c" stroke-width="1.75"/>
<path d="M88.45 705.90H94.75M666.90 705.90H660.60" stroke="#1c1c1c" stroke-width="1.75"/>
<path d="M88.45 762.40H94.75M666.90 762.40H660.60" stroke="#1c1c1c" stroke-width="1.75"/>
<path d="M88.45 847.10H94.75M666.90 847.10H660.60" stroke="#1c1c1c" stroke-width="1.75"/>
<rect x="88.45" y="866.10" width="578.45" height="154.00" fill="none" stroke="#1c1c1c" stroke-width="1.75"/>
<path d="M88.45 875.90H94.75M666.90 875.90H660.60" stroke="#1c1c1c" stroke-width="1.75"/>
<path d="M88.45 942.60H94.75M666.90 942.60H660.60" stroke="#1c1c1c" stroke-width="1.75"/>
<path d="M88.45 1009.50H94.75M666.90 1009.50H660.60" stroke="#1c1c1c" stroke-width="1.75"/>
<rect x="88.45" y="1032.20" width="578.45" height="155.90" fill="none" stroke="#1c1c1c" stroke-width="1.75"/>
<path d="M88.45 1042.00H94.75M666.90 1042.00H660.60" stroke="#1c1c1c" stroke-width="1.75"/>
<path d="M88.45 1110.30H94.75M666.90 1110.30H660.60" stroke="#1c1c1c" stroke-width="1.75"/>
<path d="M88.45 1178.40H94.75M666.90 1178.40H660.60" stroke="#1c1c1c" stroke-width="1.75"/>
<path d="M377.60 1032.20V1038.50M377.60 1188.10V1181.80" stroke="#1c1c1c" stroke-width="1.75"/>
<path d="M377.60 185.10V11.10" stroke="#ff48ff" stroke-width="0.95" stroke-dasharray="13.4 7.95" clip-path="url(#cpa)"/>
<path d="M516.60 185.10V11.10" stroke="#ff48ff" stroke-width="0.95" stroke-dasharray="13.4 7.95" clip-path="url(#cpa)"/>
<path d="M377.60 352.80V176.80" stroke="#ff48ff" stroke-width="0.95" stroke-dasharray="13.4 7.95" clip-path="url(#cpb)"/>
<path d="M516.60 352.80V176.80" stroke="#ff48ff" stroke-width="0.95" stroke-dasharray="13.4 7.95" clip-path="url(#cpb)"/>
<path d="M377.60 503.60V345.00" stroke="#ff48ff" stroke-width="0.95" stroke-dasharray="13.4 7.95" clip-path="url(#cpc)"/>
<path d="M516.60 503.60V345.00" stroke="#ff48ff" stroke-width="0.95" stroke-dasharray="13.4 7.95" clip-path="url(#cpc)"/>
<path d="M377.60 670.40V511.50" stroke="#ff48ff" stroke-width="0.95" stroke-dasharray="13.4 7.95" clip-path="url(#cpd)"/>
<path d="M516.60 670.40V511.50" stroke="#ff48ff" stroke-width="0.95" stroke-dasharray="13.4 7.95" clip-path="url(#cpd)"/>
<path d="M377.60 851.00V679.60" stroke="#ff48ff" stroke-width="0.95" stroke-dasharray="13.4 7.95" clip-path="url(#cpe)"/>
<path d="M516.60 851.00V679.60" stroke="#ff48ff" stroke-width="0.95" stroke-dasharray="13.4 7.95" clip-path="url(#cpe)"/>
<path d="M377.60 1020.10V846.10" stroke="#ff48ff" stroke-width="0.95" stroke-dasharray="13.4 7.95" clip-path="url(#cpf)"/>
<path d="M516.60 1020.10V846.10" stroke="#ff48ff" stroke-width="0.95" stroke-dasharray="13.4 7.95" clip-path="url(#cpf)"/>
<path d="M377.60 1188.10V1012.20" stroke="#ff48ff" stroke-width="0.95" stroke-dasharray="13.4 7.95" clip-path="url(#cpg)"/>
<path d="M516.60 1188.10V1012.20" stroke="#ff48ff" stroke-width="0.95" stroke-dasharray="13.4 7.95" clip-path="url(#cpg)"/>
<path d="M517 95V150" stroke="#000" stroke-width="2"/>
<path d="M503 87.8H531.5M503 157.7H531.5" stroke="#000" stroke-width="2"/>
<path d="M517 88.3L524.4 103L509.6 103Z" fill="#000"/>
<path d="M517 157.2L524.4 142L509.6 142Z" fill="#000"/>
<path d="M377.5 263V285" stroke="#ff2bff" stroke-width="1.6"/>
<path d="M377.5 254.9L382.5 265L372.5 265Z" fill="#ff2bff"/>
<path d="M377.5 292.9L382.5 283.3L372.5 283.3Z" fill="#ff2bff"/>
<path d="M516.8 248V321" stroke="#ff2bff" stroke-width="2" stroke-dasharray="7 4"/>
<path d="M516.8 239.6L521.5 248.8L512.1 248.8Z" fill="#ff2bff"/>
<path d="M516.8 329.4L521.5 319.8L512.1 319.8Z" fill="#ff2bff"/>
<text transform="translate(52.68,65.50) scale(1.060,1)" style="font-family:&quot;Liberation Sans&quot;,sans-serif;font-weight:bold;font-size:24.0px;fill:#1e1e1e">70</text>
<text transform="translate(52.59,117.20) scale(1.060,1)" style="font-family:&quot;Liberation Sans&quot;,sans-serif;font-weight:bold;font-size:24.0px;fill:#1e1e1e">60</text>
<text transform="translate(52.66,168.80) scale(1.060,1)" style="font-family:&quot;Liberation Sans&quot;,sans-serif;font-weight:bold;font-size:24.0px;fill:#1e1e1e">50</text>
<text transform="translate(52.93,216.50) scale(1.060,1)" style="font-family:&quot;Liberation Sans&quot;,sans-serif;font-weight:bold;font-size:24.0px;fill:#1e1e1e">10</text>
<text transform="translate(59.54,258.20) scale(1.060,1)" style="font-family:&quot;Liberation Sans&quot;,sans-serif;font-weight:bold;font-size:24.0px;fill:#1e1e1e">8</text>
<text transform="translate(59.54,299.90) scale(1.060,1)" style="font-family:&quot;Liberation Sans&quot;,sans-serif;font-weight:bold;font-size:24.0px;fill:#1e1e1e">6</text>
<text transform="translate(59.41,341.60) scale(1.060,1)" style="font-family:&quot;Liberation Sans&quot;,sans-serif;font-weight:bold;font-size:24.0px;fill:#1e1e1e">4</text>
<text transform="translate(59.45,396.40) scale(1.060,1)" style="font-family:&quot;Liberation Sans&quot;,sans-serif;font-weight:bold;font-size:24.0px;fill:#1e1e1e">2</text>
<text transform="translate(57.50,427.90) scale(1.060,1)" style="font-family:&quot;Liberation Sans&quot;,sans-serif;font-weight:bold;font-size:24.0px;fill:#1e1e1e">1</text>
<text transform="translate(59.39,459.40) scale(1.060,1)" style="font-family:&quot;Liberation Sans&quot;,sans-serif;font-weight:bold;font-size:24.0px;fill:#1e1e1e">0</text>
<text transform="translate(56.09,490.80) scale(1.060,1)" style="font-family:&quot;Liberation Sans&quot;,sans-serif;font-weight:bold;font-size:24.0px;fill:#1e1e1e">-1</text>
<text transform="translate(59.45,563.10) scale(1.060,1)" style="font-family:&quot;Liberation Sans&quot;,sans-serif;font-weight:bold;font-size:24.0px;fill:#1e1e1e">2</text>
<text transform="translate(57.50,594.50) scale(1.060,1)" style="font-family:&quot;Liberation Sans&quot;,sans-serif;font-weight:bold;font-size:24.0px;fill:#1e1e1e">1</text>
<text transform="translate(59.39,625.90) scale(1.060,1)" style="font-family:&quot;Liberation Sans&quot;,sans-serif;font-weight:bold;font-size:24.0px;fill:#1e1e1e">0</text>
<text transform="translate(56.09,657.30) scale(1.060,1)" style="font-family:&quot;Liberation Sans&quot;,sans-serif;font-weight:bold;font-size:24.0px;fill:#1e1e1e">-1</text>
<text transform="translate(46.05,715.40) scale(1.060,1)" style="font-family:&quot;Liberation Sans&quot;,sans-serif;font-weight:bold;font-size:24.0px;fill:#1e1e1e">40</text>
<text transform="translate(52.79,771.90) scale(1.060,1)" style="font-family:&quot;Liberation Sans&quot;,sans-serif;font-weight:bold;font-size:24.0px;fill:#1e1e1e">0</text>
<text transform="translate(44.12,856.60) scale(1.060,1)" style="font-family:&quot;Liberation Sans&quot;,sans-serif;font-weight:bold;font-size:24.0px;fill:#1e1e1e">-60</text>
<text transform="translate(45.84,885.40) scale(1.060,1)" style="font-family:&quot;Liberation Sans&quot;,sans-serif;font-weight:bold;font-size:24.0px;fill:#1e1e1e">20</text>
<text transform="translate(52.79,952.10) scale(1.060,1)" style="font-family:&quot;Liberation Sans&quot;,sans-serif;font-weight:bold;font-size:24.0px;fill:#1e1e1e">0</text>
<text transform="translate(43.62,1019.00) scale(1.060,1)" style="font-family:&quot;Liberation Sans&quot;,sans-serif;font-weight:bold;font-size:24.0px;fill:#1e1e1e">-20</text>
<text transform="translate(45.84,1051.50) scale(1.060,1)" style="font-family:&quot;Liberation Sans&quot;,sans-serif;font-weight:bold;font-size:24.0px;fill:#1e1e1e">20</text>
<text transform="translate(52.89,1119.80) scale(1.060,1)" style="font-family:&quot;Liberation Sans&quot;,sans-serif;font-weight:bold;font-size:24.0px;fill:#1e1e1e">0</text>
<text transform="translate(43.92,1187.90) scale(1.060,1)" style="font-family:&quot;Liberation Sans&quot;,sans-serif;font-weight:bold;font-size:24.0px;fill:#1e1e1e">-20</text>
<text transform="translate(73.92,1219.36) scale(1.1059,1)" style="font-family:&quot;Liberation Sans&quot;,sans-serif;font-weight:bold;font-style:normal;font-size:24.37px;fill:#1e1e1e">0</text>
<text transform="translate(360.21,1219.36) scale(1.0119,1)" style="font-family:&quot;Liberation Sans&quot;,sans-serif;font-weight:bold;font-style:normal;font-size:24.37px;fill:#1e1e1e">0.2</text>
<text transform="translate(649.04,1219.36) scale(0.9886,1)" style="font-family:&quot;Liberation Sans&quot;,sans-serif;font-weight:bold;font-style:normal;font-size:24.37px;fill:#1e1e1e">0.4</text>
<text transform="translate(101.95,58.99) scale(0.9078,1)" style="font-family:&quot;Liberation Sans&quot;,sans-serif;font-weight:bold;font-style:normal;font-size:31.09px;fill:#000">a</text>
<text transform="translate(100.14,226.50) scale(1.0396,1)" style="font-family:&quot;Liberation Sans&quot;,sans-serif;font-weight:bold;font-style:normal;font-size:30.48px;fill:#000">b</text>
<text transform="translate(101.65,393.59) scale(1.0132,1)" style="font-family:&quot;Liberation Sans&quot;,sans-serif;font-weight:bold;font-style:normal;font-size:30.73px;fill:#000">c</text>
<text transform="translate(100.36,560.10) scale(1.0247,1)" style="font-family:&quot;Liberation Sans&quot;,sans-serif;font-weight:bold;font-style:normal;font-size:30.34px;fill:#000">d</text>
<text transform="translate(97.52,727.50) scale(1.0498,1)" style="font-family:&quot;Liberation Sans&quot;,sans-serif;font-weight:bold;font-style:normal;font-size:30.36px;fill:#000">e</text>
<text transform="translate(97.58,897.60) scale(1.1027,1)" style="font-family:&quot;Liberation Sans&quot;,sans-serif;font-weight:bold;font-style:normal;font-size:31.17px;fill:#000">f</text>
<text transform="translate(97.95,1063.40) scale(1.0429,1)" style="font-family:&quot;Liberation Sans&quot;,sans-serif;font-weight:bold;font-style:normal;font-size:30.00px;fill:#000">g</text>
<text transform="translate(168.74,21.31) scale(1.0124,1)" style="font-family:&quot;Liberation Sans&quot;,sans-serif;font-weight:bold;font-style:italic;font-size:27.59px;fill:#3418f8">Pre-breathing</text>
<text transform="translate(383.14,21.46) scale(1.0066,1)" style="font-family:&quot;Liberation Sans&quot;,sans-serif;font-weight:bold;font-style:italic;font-size:27.81px;fill:#ff2bff">Breathing</text>
<text transform="translate(313.69,1252.36) scale(1.0303,1)" style="font-family:&quot;Liberation Sans&quot;,sans-serif;font-weight:normal;font-style:normal;font-size:29.73px;fill:#000">Time [ms]</text>
<text transform="translate(470.85,79.50) scale(0.9113,1)" style="font-family:&quot;Liberation Serif&quot;,serif;font-weight:normal;font-style:normal;font-size:28.94px;fill:#000">Δ</text>
<text transform="translate(489.63,79.50) scale(0.9028,1)" style="font-family:&quot;Liberation Serif&quot;,serif;font-weight:normal;font-style:italic;font-size:27.79px;fill:#000">P</text>
<text transform="translate(506.76,82.01) scale(1.0376,1)" style="font-family:&quot;Liberation Serif&quot;,serif;font-weight:normal;font-style:normal;font-size:33.53px;fill:#000">~</text>
<text transform="translate(525.91,79.27) scale(1.0654,1)" style="font-family:&quot;Liberation Serif&quot;,serif;font-weight:normal;font-style:normal;font-size:28.59px;fill:#000">12.9</text>
<text transform="translate(585.56,79.73) scale(0.9939,1)" style="font-family:&quot;Liberation Sans&quot;,sans-serif;font-weight:normal;font-style:normal;font-size:27.00px;fill:#000">mPa</text>
<text transform="translate(100.58,335.80) scale(1.2141,1)" style="font-family:&quot;Liberation Serif&quot;,serif;font-weight:bold;font-style:italic;font-size:37.87px;fill:#000">n</text>
<text transform="translate(123.98,341.67) scale(1.2480,1)" style="font-family:&quot;Liberation Serif&quot;,serif;font-weight:bold;font-style:italic;font-size:23.12px;fill:#000">e</text>
<text transform="translate(138.85,342.32) scale(0.6947,1)" style="font-family:&quot;Liberation Serif&quot;,serif;font-weight:bold;font-style:italic;font-size:25.00px;fill:#000">,</text>
<text transform="translate(145.45,335.07) scale(0.9323,1)" style="font-family:&quot;Liberation Serif&quot;,serif;font-weight:bold;font-style:italic;font-size:35.00px;fill:#000">,</text>
<text transform="translate(159.59,335.90) scale(1.1977,1)" style="font-family:&quot;Liberation Serif&quot;,serif;font-weight:bold;font-style:italic;font-size:37.87px;fill:#ff1a0f">n</text>
<text transform="translate(183.28,341.16) scale(1.2259,1)" style="font-family:&quot;Liberation Serif&quot;,serif;font-weight:bold;font-style:italic;font-size:23.54px;fill:#ff1a0f">e</text>
<text transform="translate(197.12,340.66) scale(0.8996,1)" style="font-family:&quot;Liberation Serif&quot;,serif;font-weight:bold;font-style:italic;font-size:28.67px;fill:#ff1a0f">,</text>
<text transform="translate(202.84,340.97) scale(1.0493,1)" style="font-family:&quot;Liberation Serif&quot;,serif;font-weight:bold;font-style:normal;font-size:23.13px;fill:#ff1a0f;stroke:#ff1a0f;stroke-width:0.80px;stroke-linejoin:round">BO</text>
<text transform="translate(108.18,502.90) scale(1.2154,1)" style="font-family:&quot;Liberation Serif&quot;,serif;font-weight:bold;font-style:italic;font-size:37.66px;fill:#000">n</text>
<text transform="translate(131.58,507.57) scale(1.4122,1)" style="font-family:&quot;Liberation Serif&quot;,serif;font-weight:bold;font-style:italic;font-size:23.13px;fill:#000">e</text>
<text transform="translate(146.33,508.26) scale(0.7895,1)" style="font-family:&quot;Liberation Serif&quot;,serif;font-weight:bold;font-style:italic;font-size:27.33px;fill:#000">,</text>
<text transform="translate(151.15,508.76) scale(0.9703,1)" style="font-family:&quot;Liberation Serif&quot;,serif;font-weight:bold;font-style:normal;font-size:24.33px;fill:#000;stroke:#000;stroke-width:0.80px;stroke-linejoin:round">LS</text>
<text transform="translate(108.18,670.50) scale(1.2224,1)" style="font-family:&quot;Liberation Serif&quot;,serif;font-weight:bold;font-style:italic;font-size:37.45px;fill:#000">n</text>
<text transform="translate(131.58,675.36) scale(1.3873,1)" style="font-family:&quot;Liberation Serif&quot;,serif;font-weight:bold;font-style:italic;font-size:23.54px;fill:#000">e</text>
<text transform="translate(146.33,675.81) scale(0.7992,1)" style="font-family:&quot;Liberation Serif&quot;,serif;font-weight:bold;font-style:italic;font-size:27.00px;fill:#000">,</text>
<text transform="translate(150.77,675.56) scale(1.0236,1)" style="font-family:&quot;Liberation Serif&quot;,serif;font-weight:bold;font-style:normal;font-size:23.58px;fill:#000;stroke:#000;stroke-width:0.80px;stroke-linejoin:round">SS</text>
<path d="M103.67 807.77L104.14 807.58L104.61 807.34L105.08 807.04L105.55 806.71L106.01 806.36L106.48 806.00L106.95 805.66L107.42 805.35L107.89 805.09L108.35 804.88L108.82 804.74L109.29 804.68L109.76 804.69L110.23 804.78L110.69 804.95L111.16 805.17L111.63 805.45L112.10 805.78L112.57 806.12L113.03 806.48L113.50 806.82L113.97 807.15L114.44 807.43L114.91 807.65L115.37 807.82L115.84 807.91L116.31 807.92L116.78 807.86L117.25 807.72L117.71 807.51L118.18 807.25L118.65 806.94L119.12 806.60L119.59 806.24L120.05 805.89L120.52 805.56L120.99 805.26L121.46 805.02L121.92 804.83" fill="none" stroke="#000" stroke-width="1.75" stroke-linecap="round" stroke-linejoin="round"/><text transform="translate(103.30,833.45) scale(0.9060,1)" style="font-family:&quot;Liberation Serif&quot;,serif;font-weight:bold;font-style:italic;font-size:32.67px;fill:#000;stroke:#000;stroke-width:1.10px;stroke-linejoin:round">E</text><text transform="translate(124.80,841.16) scale(1.2000,1)" style="font-family:&quot;Liberation Serif&quot;,serif;font-weight:bold;font-style:italic;font-size:25.76px;fill:#000;letter-spacing:1.37px">field</text><text transform="translate(189.93,834.76) scale(1.2970,1)" style="font-family:&quot;Liberation Serif&quot;,serif;font-weight:bold;font-style:italic;font-size:28.00px;fill:#000">,</text>
<path d="M208.68 807.87L209.14 807.67L209.61 807.42L210.08 807.11L210.55 806.77L211.01 806.41L211.48 806.04L211.95 805.69L212.42 805.37L212.89 805.10L213.35 804.89L213.82 804.75L214.29 804.68L214.76 804.69L215.23 804.79L215.69 804.95L216.16 805.19L216.63 805.48L217.10 805.81L217.57 806.17L218.03 806.53L218.50 806.89L218.97 807.22L219.44 807.51L219.91 807.75L220.37 807.91L220.84 808.01L221.31 808.02L221.78 807.95L222.25 807.81L222.71 807.60L223.18 807.33L223.65 807.01L224.12 806.66L224.59 806.29L225.05 805.93L225.52 805.59L225.99 805.28L226.46 805.03L226.93 804.83" fill="none" stroke="#ff1a0f" stroke-width="1.75" stroke-linecap="round" stroke-linejoin="round"/><text transform="translate(208.00,833.95) scale(0.9316,1)" style="font-family:&quot;Liberation Serif&quot;,serif;font-weight:bold;font-style:italic;font-size:32.98px;fill:#ff1a0f;stroke:#ff1a0f;stroke-width:1.10px;stroke-linejoin:round">E</text><text transform="translate(230.60,841.69) scale(1.2000,1)" style="font-family:&quot;Liberation Serif&quot;,serif;font-weight:bold;font-style:italic;font-size:26.09px;fill:#ff1a0f;letter-spacing:0.70px">field</text><text transform="translate(294.22,840.11) scale(0.9102,1)" style="font-family:&quot;Liberation Serif&quot;,serif;font-weight:bold;font-style:italic;font-size:28.33px;fill:#ff1a0f">,</text><text transform="translate(300.64,840.76) scale(0.9923,1)" style="font-family:&quot;Liberation Serif&quot;,serif;font-weight:bold;font-style:normal;font-size:23.88px;fill:#ff1a0f;stroke:#ff1a0f;stroke-width:0.80px;stroke-linejoin:round">BO</text>
<path d="M110.97 976.38L111.44 976.20L111.91 975.96L112.37 975.67L112.84 975.35L113.30 975.01L113.77 974.66L114.23 974.33L114.70 974.03L115.16 973.78L115.63 973.58L116.09 973.44L116.56 973.38L117.02 973.39L117.49 973.48L117.96 973.64L118.42 973.86L118.89 974.13L119.35 974.44L119.82 974.78L120.28 975.12L120.75 975.46L121.21 975.77L121.68 976.04L122.14 976.26L122.61 976.42L123.08 976.51L123.54 976.52L124.01 976.46L124.47 976.32L124.94 976.12L125.40 975.87L125.87 975.57L126.33 975.24L126.80 974.89L127.26 974.55L127.73 974.23L128.19 973.94L128.66 973.70L129.12 973.52" fill="none" stroke="#000" stroke-width="1.75" stroke-linecap="round" stroke-linejoin="round"/><text transform="translate(111.00,1002.55) scale(0.9536,1)" style="font-family:&quot;Liberation Serif&quot;,serif;font-weight:bold;font-style:italic;font-size:32.21px;fill:#000;stroke:#000;stroke-width:1.10px;stroke-linejoin:round">E</text><text transform="translate(133.10,1009.86) scale(1.2000,1)" style="font-family:&quot;Liberation Serif&quot;,serif;font-weight:bold;font-style:italic;font-size:25.76px;fill:#000;letter-spacing:1.03px">field</text><text transform="translate(196.59,1007.61) scale(0.8731,1)" style="font-family:&quot;Liberation Serif&quot;,serif;font-weight:bold;font-style:italic;font-size:28.33px;fill:#000">,</text><text transform="translate(201.84,1008.17) scale(1.0374,1)" style="font-family:&quot;Liberation Serif&quot;,serif;font-weight:bold;font-style:normal;font-size:22.84px;fill:#000;stroke:#000;stroke-width:0.80px;stroke-linejoin:round">LS</text>
<path d="M103.17 1141.88L103.64 1141.70L104.10 1141.46L104.56 1141.17L105.02 1140.85L105.48 1140.51L105.94 1140.16L106.40 1139.83L106.86 1139.53L107.32 1139.28L107.78 1139.08L108.24 1138.94L108.70 1138.88L109.16 1138.89L109.62 1138.98L110.08 1139.14L110.54 1139.36L111.00 1139.63L111.46 1139.94L111.92 1140.28L112.38 1140.62L112.84 1140.96L113.30 1141.27L113.76 1141.54L114.22 1141.76L114.68 1141.92L115.14 1142.01L115.60 1142.02L116.06 1141.96L116.52 1141.82L116.98 1141.62L117.44 1141.37L117.90 1141.07L118.36 1140.74L118.82 1140.39L119.28 1140.05L119.74 1139.73L120.20 1139.44L120.66 1139.20L121.12 1139.02" fill="none" stroke="#000" stroke-width="1.75" stroke-linecap="round" stroke-linejoin="round"/><text transform="translate(102.40,1168.55) scale(0.9569,1)" style="font-family:&quot;Liberation Serif&quot;,serif;font-weight:bold;font-style:italic;font-size:31.60px;fill:#000;stroke:#000;stroke-width:1.10px;stroke-linejoin:round">E</text><text transform="translate(124.50,1175.86) scale(1.2000,1)" style="font-family:&quot;Liberation Serif&quot;,serif;font-weight:bold;font-style:italic;font-size:25.76px;fill:#000;letter-spacing:0.97px">field</text><text transform="translate(187.61,1173.61) scale(0.8916,1)" style="font-family:&quot;Liberation Serif&quot;,serif;font-weight:bold;font-style:italic;font-size:28.33px;fill:#000">,</text><text transform="translate(191.70,1174.78) scale(1.2190,1)" style="font-family:&quot;Liberation Serif&quot;,serif;font-weight:bold;font-style:normal;font-size:22.39px;fill:#000;stroke:#000;stroke-width:0.80px;stroke-linejoin:round">SS</text>
<text transform="translate(283.00,238.80) scale(1.2222,1)" style="font-family:&quot;Liberation Serif&quot;,serif;font-weight:bold;font-style:italic;font-size:28.51px;fill:#ff2bff">n</text>
<text transform="translate(300.66,243.43) scale(1.2591,1)" style="font-family:&quot;Liberation Serif&quot;,serif;font-weight:bold;font-style:italic;font-size:17.29px;fill:#ff2bff">e</text>
<text transform="translate(311.02,243.56) scale(1.1917,1)" style="font-family:&quot;Liberation Serif&quot;,serif;font-weight:bold;font-style:italic;font-size:17.67px;fill:#ff2bff">,</text>
<text transform="translate(315.71,243.90) scale(1.2000,1)" style="font-family:&quot;Liberation Serif&quot;,serif;font-weight:bold;font-style:italic;font-size:19.57px;fill:#ff2bff;letter-spacing:0.62px">initial</text>
<text transform="translate(525.38,230.70) scale(1.2656,1)" style="font-family:&quot;Liberation Serif&quot;,serif;font-weight:bold;font-style:italic;font-size:28.51px;fill:#ff2bff">n</text>
<text transform="translate(543.46,235.29) scale(1.0347,1)" style="font-family:&quot;Liberation Serif&quot;,serif;font-weight:bold;font-style:italic;font-size:21.04px;fill:#ff2bff">e</text>
<text transform="translate(553.69,235.05) scale(0.9273,1)" style="font-family:&quot;Liberation Serif&quot;,serif;font-weight:bold;font-style:italic;font-size:21.00px;fill:#ff2bff">,</text>
<text transform="translate(557.05,235.68) scale(1.2600,1)" style="font-family:&quot;Liberation Serif&quot;,serif;font-weight:bold;font-style:italic;font-size:21.88px;fill:#ff2bff;letter-spacing:-2.87px">max</text>
<text transform="translate(30.90,180.56) rotate(-90) scale(0.9261,1)" style="font-family:&quot;Liberation Serif&quot;,serif;font-weight:normal;font-style:italic;font-size:29.47px;fill:#000">P</text>
<text transform="translate(36.87,169.85) rotate(-90) scale(1.1098,1)" style="font-family:&quot;Liberation Serif&quot;,serif;font-weight:normal;font-style:italic;font-size:22.92px;fill:#000">source</text>
<text transform="translate(30.38,94.46) rotate(-90) scale(1.0099,1)" style="font-family:&quot;Liberation Sans&quot;,sans-serif;font-weight:normal;font-style:normal;font-size:27.70px;fill:#000">[mPa]</text>
<text transform="translate(35.80,538.58) rotate(-90) scale(1.2064,1)" style="font-family:&quot;Liberation Serif&quot;,serif;font-weight:normal;font-style:italic;font-size:32.77px;fill:#000">n</text>
<text transform="translate(41.75,518.98) rotate(-90) scale(1.0375,1)" style="font-family:&quot;Liberation Serif&quot;,serif;font-weight:normal;font-style:italic;font-size:25.21px;fill:#000">e</text>
<text transform="translate(35.20,498.81) rotate(-90) scale(0.9880,1)" style="font-family:&quot;Liberation Sans&quot;,sans-serif;font-weight:normal;font-style:normal;font-size:30.48px;fill:#000">[10</text>
<text transform="translate(23.80,454.63) rotate(-90) scale(0.9372,1)" style="font-family:&quot;Liberation Sans&quot;,sans-serif;font-weight:normal;font-style:normal;font-size:31.74px;fill:#000">17</text>
<text transform="translate(35.80,420.68) rotate(-90) scale(0.9802,1)" style="font-family:&quot;Liberation Sans&quot;,sans-serif;font-weight:normal;font-style:normal;font-size:31.11px;fill:#000">m</text>
<text transform="translate(26.63,394.99) rotate(-90) scale(0.7216,1)" style="font-family:&quot;Liberation Sans&quot;,sans-serif;font-weight:normal;font-style:normal;font-size:41.43px;fill:#000">−</text>
<text transform="translate(23.79,377.60) rotate(-90) scale(0.9518,1)" style="font-family:&quot;Liberation Sans&quot;,sans-serif;font-weight:normal;font-style:normal;font-size:31.41px;fill:#000">3</text>
<text transform="translate(35.20,359.77) rotate(-90) scale(1.0826,1)" style="font-family:&quot;Liberation Sans&quot;,sans-serif;font-weight:normal;font-style:normal;font-size:30.48px;fill:#000">]</text>
<text transform="translate(30.60,973.02) rotate(-90) scale(0.9040,1)" style="font-family:&quot;Liberation Serif&quot;,serif;font-weight:normal;font-style:italic;font-size:31.45px;fill:#000">E</text>
<path d="M7.35 967.85L7.23 967.59L7.07 967.33L6.88 967.07L6.66 966.81L6.44 966.56L6.21 966.30L5.99 966.04L5.79 965.78L5.62 965.52L5.48 965.26L5.39 965.00L5.35 964.74L5.36 964.48L5.42 964.22L5.52 963.97L5.67 963.71L5.85 963.45L6.06 963.19L6.29 962.93L6.51 962.67L6.74 962.41L6.95 962.15L7.13 961.89L7.28 961.63L7.38 961.38L7.44 961.12L7.45 960.86L7.41 960.60L7.32 960.34L7.18 960.08L7.01 959.82L6.81 959.56L6.59 959.30L6.36 959.04L6.14 958.79L5.92 958.53L5.73 958.27L5.57 958.01L5.45 957.75" fill="none" stroke="#000" stroke-width="1.50" stroke-linecap="round" stroke-linejoin="round"/>
<text transform="translate(30.32,947.77) rotate(-90) scale(1.0192,1)" style="font-family:&quot;Liberation Sans&quot;,sans-serif;font-weight:normal;font-style:normal;font-size:30.37px;fill:#000">[V/m]</text>
</svg></body></html>
